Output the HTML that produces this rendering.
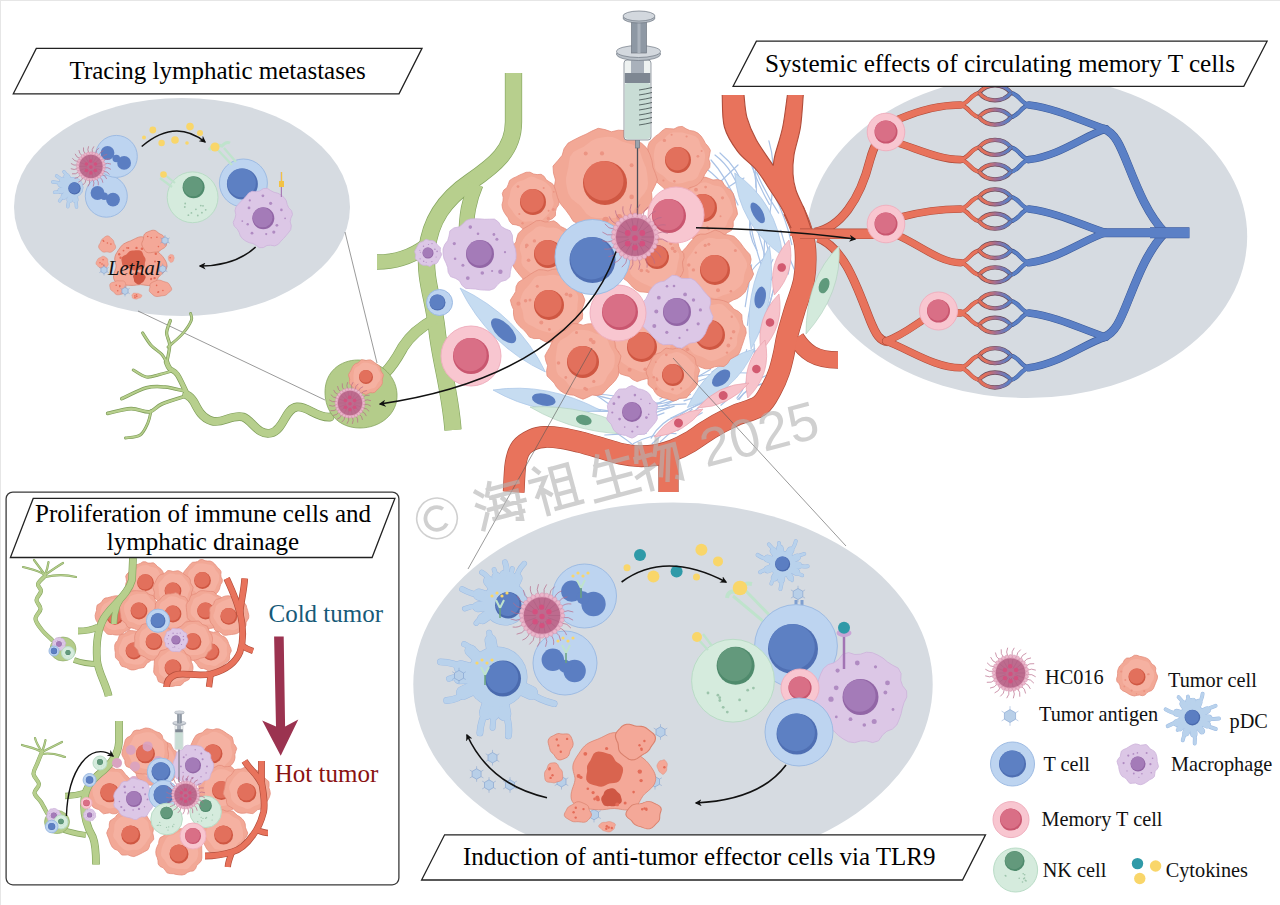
<!DOCTYPE html><html><head><meta charset="utf-8"><style>html,body{margin:0;padding:0;background:#fff;overflow:hidden;}svg{display:block;font-family:"Liberation Serif",serif;}</style></head><body>
<svg width="1280" height="905" viewBox="0 0 1280 905">
<defs><linearGradient id="rb" gradientUnits="userSpaceOnUse" x1="979" y1="0" x2="1011" y2="0"><stop offset="0.2" stop-color="#e2705a"/><stop offset="0.55" stop-color="#9c6f98"/><stop offset="0.9" stop-color="#5b80c6"/></linearGradient><marker id="ah" viewBox="0 0 10 10" refX="8" refY="5" markerWidth="7" markerHeight="7" orient="auto-start-reverse" markerUnits="userSpaceOnUse"><path d="M0,0 L10,5 L0,10 L3,5 Z" fill="#111"/></marker></defs>
<rect x="0" y="0" width="1280" height="905" fill="#fff"/>
<rect x="0" y="0" width="1280" height="1" fill="#e6e6e6"/><rect x="0" y="0" width="1" height="905" fill="#e6e6e6"/>
<ellipse cx="182" cy="207" rx="168" ry="109" fill="#d6dbe1"/>
<ellipse cx="1027" cy="236.5" rx="220.2" ry="161.5" fill="#d6dbe1"/>
<ellipse cx="673" cy="684.5" rx="259.7" ry="182" fill="#d6dbe1"/>
<g stroke="#555" stroke-width="0.6" fill="none">
<line x1="345" y1="232" x2="377" y2="363"/>
<line x1="138" y1="311" x2="325" y2="400"/>
</g>
<path d="M513.5,73 L513.5,122 C513.5,150 495,165 470,182 C445,199 430,220 427,250 C424,280 434,300 437,330 C440,360 450,390 453,430" fill="none" stroke="#86a660" stroke-width="17.3" stroke-linejoin="round" stroke-linecap="butt"/><path d="M476,184 C469,200 466,215 466,240" fill="none" stroke="#86a660" stroke-width="15.3" stroke-linejoin="round" stroke-linecap="butt"/><path d="M377,262 C395,262 410,258 426,246" fill="none" stroke="#86a660" stroke-width="15.3" stroke-linejoin="round" stroke-linecap="butt"/><path d="M435,319 C420,327 410,336 403,347 C398,356 394,364 385,373" fill="none" stroke="#86a660" stroke-width="11.3" stroke-linejoin="round" stroke-linecap="butt"/><path d="M513.5,73 L513.5,122 C513.5,150 495,165 470,182 C445,199 430,220 427,250 C424,280 434,300 437,330 C440,360 450,390 453,430" fill="none" stroke="#b7cf8d" stroke-width="16" stroke-linejoin="round" stroke-linecap="butt"/><path d="M476,184 C469,200 466,215 466,240" fill="none" stroke="#b7cf8d" stroke-width="14" stroke-linejoin="round" stroke-linecap="butt"/><path d="M377,262 C395,262 410,258 426,246" fill="none" stroke="#b7cf8d" stroke-width="14" stroke-linejoin="round" stroke-linecap="butt"/><path d="M435,319 C420,327 410,336 403,347 C398,356 394,364 385,373" fill="none" stroke="#b7cf8d" stroke-width="10" stroke-linejoin="round" stroke-linecap="butt"/>
<path d="M330,417 C316,418 308,406 297,407 C285,408 284,430 271,433 C258,436 252,420 243,417 C232,414 222,424 212,421 C202,418 198,410 194,402 C191,397 189,396 186.7,394.8" fill="none" stroke="#7d9c58" stroke-width="8.8" stroke-linejoin="round" stroke-linecap="round"/><path d="M188,396 C186.2,392.4 180.5,379.3 177.4,374.7 C174.3,370.1 171.5,370.6 169.7,368.5 C167.9,366.4 167.1,363.3 166.6,362.3" fill="none" stroke="#7d9c58" stroke-width="5.5" stroke-linejoin="round" stroke-linecap="round"/><path d="M166.6,363 C167.1,360.1 169.7,350.3 169.7,345.3 C169.7,340.3 166.5,337 166.6,332.9 C166.7,328.8 169.8,322.6 170.4,320.5" fill="none" stroke="#7d9c58" stroke-width="3.3" stroke-linejoin="round" stroke-linecap="round"/><path d="M168,347 C170.3,344.9 178.1,338.8 182,334.4 C185.9,330 189.9,324 191.3,320.5 C192.7,317 190.7,314.7 190.6,313.5" fill="none" stroke="#7d9c58" stroke-width="2.9" stroke-linejoin="round" stroke-linecap="round"/><path d="M166.6,362.3 C165.8,361 164.5,357.4 161.9,354.5 C159.3,351.6 154.2,348.8 151,345.2 C147.8,341.6 144,334.9 142.6,332.9" fill="none" stroke="#7d9c58" stroke-width="3.1" stroke-linejoin="round" stroke-linecap="round"/><path d="M172,371 C169.8,371.6 163.1,373.7 158.8,374.7 C154.5,375.7 150.7,377.8 146.4,377 C142.2,376.2 135.5,371.2 133.3,370" fill="none" stroke="#7d9c58" stroke-width="3.1" stroke-linejoin="round" stroke-linecap="round"/><path d="M184,391 C180.8,390.3 171.3,387.5 165,387 C158.7,386.5 153.6,385.9 146.4,387.8 C139.2,389.8 125.8,396.9 121.7,398.7" fill="none" stroke="#7d9c58" stroke-width="3.5" stroke-linejoin="round" stroke-linecap="round"/><path d="M186,396 C182,397.3 168,401.4 161.9,404 C155.8,406.6 154.7,411 149.5,411.8 C144.3,412.6 138,408.4 131,408.7 C124,409 111.6,412.6 107.7,413.4" fill="none" stroke="#7d9c58" stroke-width="3.7" stroke-linejoin="round" stroke-linecap="round"/><path d="M151,411 C150.5,412.9 149.8,418.6 148,422.6 C146.2,426.6 143.9,432.4 140.2,435 C136.4,437.6 128,437.5 125.5,438" fill="none" stroke="#7d9c58" stroke-width="2.9" stroke-linejoin="round" stroke-linecap="round"/><path d="M330,417 C316,418 308,406 297,407 C285,408 284,430 271,433 C258,436 252,420 243,417 C232,414 222,424 212,421 C202,418 198,410 194,402 C191,397 189,396 186.7,394.8" fill="none" stroke="#b7cf8d" stroke-width="7.5" stroke-linejoin="round" stroke-linecap="round"/><path d="M188,396 C186.2,392.4 180.5,379.3 177.4,374.7 C174.3,370.1 171.5,370.6 169.7,368.5 C167.9,366.4 167.1,363.3 166.6,362.3" fill="none" stroke="#b7cf8d" stroke-width="4.2" stroke-linejoin="round" stroke-linecap="round"/><path d="M166.6,363 C167.1,360.1 169.7,350.3 169.7,345.3 C169.7,340.3 166.5,337 166.6,332.9 C166.7,328.8 169.8,322.6 170.4,320.5" fill="none" stroke="#b7cf8d" stroke-width="2" stroke-linejoin="round" stroke-linecap="round"/><path d="M168,347 C170.3,344.9 178.1,338.8 182,334.4 C185.9,330 189.9,324 191.3,320.5 C192.7,317 190.7,314.7 190.6,313.5" fill="none" stroke="#b7cf8d" stroke-width="1.6" stroke-linejoin="round" stroke-linecap="round"/><path d="M166.6,362.3 C165.8,361 164.5,357.4 161.9,354.5 C159.3,351.6 154.2,348.8 151,345.2 C147.8,341.6 144,334.9 142.6,332.9" fill="none" stroke="#b7cf8d" stroke-width="1.8" stroke-linejoin="round" stroke-linecap="round"/><path d="M172,371 C169.8,371.6 163.1,373.7 158.8,374.7 C154.5,375.7 150.7,377.8 146.4,377 C142.2,376.2 135.5,371.2 133.3,370" fill="none" stroke="#b7cf8d" stroke-width="1.8" stroke-linejoin="round" stroke-linecap="round"/><path d="M184,391 C180.8,390.3 171.3,387.5 165,387 C158.7,386.5 153.6,385.9 146.4,387.8 C139.2,389.8 125.8,396.9 121.7,398.7" fill="none" stroke="#b7cf8d" stroke-width="2.2" stroke-linejoin="round" stroke-linecap="round"/><path d="M186,396 C182,397.3 168,401.4 161.9,404 C155.8,406.6 154.7,411 149.5,411.8 C144.3,412.6 138,408.4 131,408.7 C124,409 111.6,412.6 107.7,413.4" fill="none" stroke="#b7cf8d" stroke-width="2.4" stroke-linejoin="round" stroke-linecap="round"/><path d="M151,411 C150.5,412.9 149.8,418.6 148,422.6 C146.2,426.6 143.9,432.4 140.2,435 C136.4,437.6 128,437.5 125.5,438" fill="none" stroke="#b7cf8d" stroke-width="1.6" stroke-linejoin="round" stroke-linecap="round"/>
<path d="M325,392 C325,372 340,360 358,360 C378,360 396,374 397,394 C398,414 380,428 360,428 C338,428 325,412 325,392Z" fill="#b4cc8a" stroke="#86a660" stroke-width="0.8"/>
<path d="M383,377 L382.2,379.1 L382.4,381.4 L382.2,383.7 L381,385.7 L379.6,387.4 L377.9,388.9 L376.4,390.6 L374.8,392.3 L372.6,392.8 L370.2,392.6 L368.2,393.6 L366,394.5 L363.8,393.7 L361.8,392.7 L359.6,392.5 L357.4,391.9 L355.5,390.7 L353.9,389.1 L352.8,387.1 L351.2,385.5 L349.5,383.8 L349.3,381.5 L349.7,379.1 L349,377 L348.5,374.7 L349.6,372.6 L350.8,370.7 L351.6,368.7 L352.6,366.7 L353.9,364.9 L355.7,363.6 L357.8,362.9 L359.6,361.4 L361.4,359.8 L363.8,359.9 L366,360.5 L368.2,360 L370.6,359.9 L372.6,361.1 L374.4,362.4 L376.2,363.7 L378,365 L379.8,366.4 L380.7,368.5 L380.9,370.8 L382.1,372.7 L383.4,374.7Z" fill="#f2a896" stroke="#e58d7b" stroke-width="0.8"/><path d="M380.6,376.3 L380.5,378.1 L380.1,379.9 L379.1,381.5 L377.9,382.8 L377,384.3 L376.3,386 L375.2,387.4 L373.6,388.3 L371.8,388.6 L370.1,389.1 L368.4,389.6 L366.7,389.9 L364.9,390 L363.1,389.9 L361.3,389.4 L359.7,388.3 L358.6,386.9 L357.4,385.6 L356,384.5 L354.6,383.3 L353.8,381.6 L353.6,379.8 L353.5,378.1 L353.4,376.3 L353.5,374.6 L353.8,372.9 L354,371.1 L354.4,369.2 L355.5,367.7 L357.1,366.7 L358.7,365.9 L360,364.7 L361.4,363.5 L363.1,362.8 L364.9,362.6 L366.7,362.7 L368.4,363 L370.1,363.6 L371.7,364.3 L373.3,364.8 L375.2,365.3 L376.7,366.3 L377.6,368 L378.2,369.7 L379,371.2 L379.9,372.8 L380.5,374.5Z" fill="#f5b1a1"/><circle cx="366" cy="377" r="7" fill="#cf5742"/><circle cx="365.6" cy="376.3" r="6.3" fill="#e2705c"/>
<path d="M364.2,404.4 Q367.6,403.5 370.8,406.1" stroke="#b86a8a" stroke-width="0.7" fill="none"/><path d="M363.4,408.1 Q366.9,408.1 369.2,411.4" stroke="#b86a8a" stroke-width="0.7" fill="none"/><path d="M361.6,411.3 Q365,412.3 366.4,416.1" stroke="#b86a8a" stroke-width="0.7" fill="none"/><path d="M359,414.1 Q362.1,415.8 362.5,419.9" stroke="#b86a8a" stroke-width="0.7" fill="none"/><path d="M355.9,416 Q358.4,418.5 357.7,422.6" stroke="#b86a8a" stroke-width="0.7" fill="none"/><path d="M352.3,417.1 Q354.1,420.2 352.3,423.9" stroke="#b86a8a" stroke-width="0.7" fill="none"/><path d="M348.6,417.2 Q349.5,420.6 346.9,423.8" stroke="#b86a8a" stroke-width="0.7" fill="none"/><path d="M344.9,416.4 Q344.9,419.9 341.6,422.2" stroke="#b86a8a" stroke-width="0.7" fill="none"/><path d="M341.7,414.6 Q340.7,418 336.9,419.4" stroke="#b86a8a" stroke-width="0.7" fill="none"/><path d="M338.9,412 Q337.2,415.1 333.1,415.5" stroke="#b86a8a" stroke-width="0.7" fill="none"/><path d="M337,408.9 Q334.5,411.4 330.4,410.7" stroke="#b86a8a" stroke-width="0.7" fill="none"/><path d="M335.9,405.3 Q332.8,407.1 329.1,405.3" stroke="#b86a8a" stroke-width="0.7" fill="none"/><path d="M335.8,401.6 Q332.4,402.5 329.2,399.9" stroke="#b86a8a" stroke-width="0.7" fill="none"/><path d="M336.6,397.9 Q333.1,397.9 330.8,394.6" stroke="#b86a8a" stroke-width="0.7" fill="none"/><path d="M338.4,394.7 Q335,393.7 333.6,389.9" stroke="#b86a8a" stroke-width="0.7" fill="none"/><path d="M341,391.9 Q337.9,390.2 337.5,386.1" stroke="#b86a8a" stroke-width="0.7" fill="none"/><path d="M344.1,390 Q341.6,387.5 342.3,383.4" stroke="#b86a8a" stroke-width="0.7" fill="none"/><path d="M347.7,388.9 Q345.9,385.8 347.7,382.1" stroke="#b86a8a" stroke-width="0.7" fill="none"/><path d="M351.4,388.8 Q350.5,385.4 353.1,382.2" stroke="#b86a8a" stroke-width="0.7" fill="none"/><path d="M355.1,389.6 Q355.1,386.1 358.4,383.8" stroke="#b86a8a" stroke-width="0.7" fill="none"/><path d="M358.3,391.4 Q359.3,388 363.1,386.6" stroke="#b86a8a" stroke-width="0.7" fill="none"/><path d="M361.1,394 Q362.8,390.9 366.9,390.5" stroke="#b86a8a" stroke-width="0.7" fill="none"/><path d="M363,397.1 Q365.5,394.6 369.6,395.3" stroke="#b86a8a" stroke-width="0.7" fill="none"/><path d="M364.1,400.7 Q367.2,398.9 370.9,400.7" stroke="#b86a8a" stroke-width="0.7" fill="none"/><circle cx="350" cy="403" r="14.3" fill="#e3a9c0"/><circle cx="363.7" cy="403" r="1.5" fill="#ebb6cb" stroke="#cf8eaa" stroke-width="0.4"/><circle cx="363.4" cy="406.1" r="1.5" fill="#ebb6cb" stroke="#cf8eaa" stroke-width="0.4"/><circle cx="362.4" cy="409" r="1.5" fill="#ebb6cb" stroke="#cf8eaa" stroke-width="0.4"/><circle cx="360.7" cy="411.6" r="1.5" fill="#ebb6cb" stroke="#cf8eaa" stroke-width="0.4"/><circle cx="358.6" cy="413.7" r="1.5" fill="#ebb6cb" stroke="#cf8eaa" stroke-width="0.4"/><circle cx="356" cy="415.4" r="1.5" fill="#ebb6cb" stroke="#cf8eaa" stroke-width="0.4"/><circle cx="353.1" cy="416.4" r="1.5" fill="#ebb6cb" stroke="#cf8eaa" stroke-width="0.4"/><circle cx="350" cy="416.7" r="1.5" fill="#ebb6cb" stroke="#cf8eaa" stroke-width="0.4"/><circle cx="346.9" cy="416.4" r="1.5" fill="#ebb6cb" stroke="#cf8eaa" stroke-width="0.4"/><circle cx="344" cy="415.4" r="1.5" fill="#ebb6cb" stroke="#cf8eaa" stroke-width="0.4"/><circle cx="341.4" cy="413.7" r="1.5" fill="#ebb6cb" stroke="#cf8eaa" stroke-width="0.4"/><circle cx="339.3" cy="411.6" r="1.5" fill="#ebb6cb" stroke="#cf8eaa" stroke-width="0.4"/><circle cx="337.6" cy="409" r="1.5" fill="#ebb6cb" stroke="#cf8eaa" stroke-width="0.4"/><circle cx="336.6" cy="406.1" r="1.5" fill="#ebb6cb" stroke="#cf8eaa" stroke-width="0.4"/><circle cx="336.3" cy="403" r="1.5" fill="#ebb6cb" stroke="#cf8eaa" stroke-width="0.4"/><circle cx="336.6" cy="399.9" r="1.5" fill="#ebb6cb" stroke="#cf8eaa" stroke-width="0.4"/><circle cx="337.6" cy="397" r="1.5" fill="#ebb6cb" stroke="#cf8eaa" stroke-width="0.4"/><circle cx="339.3" cy="394.4" r="1.5" fill="#ebb6cb" stroke="#cf8eaa" stroke-width="0.4"/><circle cx="341.4" cy="392.3" r="1.5" fill="#ebb6cb" stroke="#cf8eaa" stroke-width="0.4"/><circle cx="344" cy="390.6" r="1.5" fill="#ebb6cb" stroke="#cf8eaa" stroke-width="0.4"/><circle cx="346.9" cy="389.6" r="1.5" fill="#ebb6cb" stroke="#cf8eaa" stroke-width="0.4"/><circle cx="350" cy="389.3" r="1.5" fill="#ebb6cb" stroke="#cf8eaa" stroke-width="0.4"/><circle cx="353.1" cy="389.6" r="1.5" fill="#ebb6cb" stroke="#cf8eaa" stroke-width="0.4"/><circle cx="356" cy="390.6" r="1.5" fill="#ebb6cb" stroke="#cf8eaa" stroke-width="0.4"/><circle cx="358.6" cy="392.3" r="1.5" fill="#ebb6cb" stroke="#cf8eaa" stroke-width="0.4"/><circle cx="360.7" cy="394.4" r="1.5" fill="#ebb6cb" stroke="#cf8eaa" stroke-width="0.4"/><circle cx="362.4" cy="397" r="1.5" fill="#ebb6cb" stroke="#cf8eaa" stroke-width="0.4"/><circle cx="363.4" cy="399.9" r="1.5" fill="#ebb6cb" stroke="#cf8eaa" stroke-width="0.4"/><circle cx="350" cy="403" r="12.2" fill="#bd6b8e"/><path d="M354.2,403 L361.9,403 M353.9,404.4 L361.2,407.1 M353.2,405.7 L359.1,410.6 M352.1,406.6 L355.9,413.3 M350.7,407.1 L352.1,414.7 M349.3,407.1 L347.9,414.7 M347.9,406.6 L344.1,413.3 M346.8,405.7 L340.9,410.6 M346.1,404.4 L338.8,407.1 M345.8,403 L338.1,403 M346.1,401.6 L338.8,398.9 M346.8,400.3 L340.9,395.4 M347.9,399.4 L344.1,392.7 M349.3,398.9 L347.9,391.3 M350.7,398.9 L352.1,391.3 M352.1,399.4 L355.9,392.7 M353.2,400.3 L359.1,395.4 M353.9,401.6 L361.2,398.9 " stroke="#ad5f82" stroke-width="0.4" fill="none"/><circle cx="350" cy="403.7" r="1.8" fill="#d4507f"/><circle cx="345.4" cy="400.5" r="1.8" fill="#d4507f"/><circle cx="354.6" cy="400.5" r="1.8" fill="#d4507f"/><circle cx="345.4" cy="407.2" r="1.8" fill="#d4507f"/><circle cx="354.6" cy="407.2" r="1.8" fill="#d4507f"/><circle cx="349.7" cy="397.4" r="1.8" fill="#d4507f"/><circle cx="350" cy="409.7" r="1.8" fill="#d4507f"/>
<g fill="none" stroke="#a9c2e6" stroke-width="1.2" stroke-linecap="round"><path d="M747.9,373 Q720.3,371.8 695.2,376.9" /><path d="M635.4,446.8 Q618.9,433.3 601.2,423.7" /><path d="M646.2,433.3 Q625.6,433.5 604.8,435" /><path d="M765.7,382.7 Q749.6,385.7 737.7,399.4" /><path d="M692.2,409.3 Q671.4,425.1 652.1,443.8" /><path d="M772.9,192.5 Q786.3,218.1 791.8,244.7" /><path d="M615.1,408.5 Q600.7,398 586.1,388.6" /><path d="M730.1,394.2 Q700.1,400.1 676.9,417.1" /><path d="M648.3,426.1 Q628.9,432.9 610.9,429.8" /><path d="M756.8,172.5 Q765.2,193.2 778.6,213.1" /><path d="M776.7,275.2 Q771.5,301.7 761.5,326.7" /><path d="M746.7,349.5 Q745.6,362.5 731.7,371.9" /><path d="M680,398 Q668.4,403 655.2,404.5" /><path d="M760.8,384.4 Q747.5,386.1 738.9,399.6" /><path d="M764.6,228.8 Q764.8,257 760.9,286.2" /><path d="M759.5,280.5 Q756,305.6 759.2,332.7" /><path d="M669.2,406.7 Q657.6,411.7 642.9,405.7" /><path d="M762.9,271.5 Q752.4,298 753.3,327.8" /><path d="M750.2,364.5 Q748.4,384.6 736.9,398.1" /><path d="M748.1,204.3 Q765.5,231.1 770.4,259.8" /><path d="M614.9,411.6 Q595.8,408.5 575.9,407.9" /><path d="M664,412.8 Q645.8,418.2 630.8,434.7" /><path d="M748,154.4 Q755.5,179.9 769.4,204.4" /><path d="M638.8,411.2 Q612.2,411.9 586.2,410.8" /><path d="M750.6,215.7 Q746.8,234 756.9,250.4" /><path d="M661.4,403.2 Q640.8,401.6 620.6,406.4" /><path d="M754.1,344 Q755.5,364 753.6,383.2" /><path d="M621.4,401.2 Q598.3,397 576.3,388.4" /><path d="M773.2,177.3 Q772.2,203.1 767.3,229.4" /><path d="M686,403.9 Q660.7,404.3 637.3,411.7" /><path d="M756.7,291.8 Q748.4,307.5 747.4,325.3" /><path d="M723.1,393.7 Q696.2,405 670.5,418.2" /><path d="M755,153.4 Q755.9,170.2 755.9,187.2" /><path d="M674.2,406.1 Q649.1,414 625.1,425.8" /><path d="M684.9,395.7 Q664.5,397.7 649.8,408.4" /><path d="M710.4,369.5 Q684.9,383.9 659.9,399" /><path d="M749.1,217.1 Q754,245.6 764.1,272.9" /><path d="M690.4,394.5 Q675.5,399.5 661.8,406.4" /><path d="M729.2,388.8 Q705.7,393.2 684,400.9" /><path d="M702.2,412.7 Q688.7,419.9 677.5,430.7" /><path d="M758.1,232.4 Q764.8,255.1 770.8,277.7" /><path d="M785.8,244.6 Q791.4,259.6 788.2,274.2" /><path d="M780.8,230.3 Q786,250.2 794.2,269.3" /><path d="M763,367.4 Q742.5,387.5 720.9,405.2" /><path d="M780.9,261.9 Q775.2,274.9 766.2,286.9" /><path d="M753.1,167.5 Q756.9,181.2 756.3,195.6" /><path d="M760.4,349.3 Q734.5,356.6 711.9,372.1" /><path d="M730.7,386.3 Q716.4,391.2 702.9,397.6" /><path d="M635.2,402.4 Q613.9,393.1 589.6,394.4" /><path d="M768.9,140.9 Q775.4,162.6 771.8,185.6" /><path d="M730.5,363.4 Q715.4,376 697,381.7" /><path d="M763.6,258.4 Q746.9,272.3 741.3,289.5" /><path d="M766.8,375.3 Q739.8,387.6 711.8,397.6" /><path d="M751.6,264.8 Q748.7,285.8 745.2,306.6" /><path d="M754.1,200.3 Q756,220.3 765.7,239.1" /><path d="M676,433.6 Q654.4,432.5 633.5,443.5" /><path d="M677.4,415.9 Q661.2,420.9 651.1,438.1" /><path d="M772.9,259.4 Q763.4,278.1 756.6,297.7" /><path d="M698.7,407.5 Q679.2,424.3 660.2,441.9" /><path d="M775.7,279.4 Q771.6,300.9 763.8,321.3" /><path d="M711,160 Q725,175 738,205"/><path d="M715,155 Q735,170 742,200"/><path d="M708,170 Q728,185 736,212"/><path d="M720,153 Q738,168 746,192"/><path d="M712,190 Q724,178 738,165"/><path d="M714,200 Q728,185 744,178"/></g>
<path d="M796,338 C805,352 815,360 838,360" fill="none" stroke="#b04c3a" stroke-width="17.3" stroke-linejoin="round" stroke-linecap="butt"/><path d="M793.5,210 C794.8,213.1 799,221.8 801,228.5 C803,235.2 804.9,241.4 805.4,250 C805.9,258.6 805.8,270 804,280 C802.2,290 797.5,300.8 794.7,310 C792,319.2 789.4,327.5 787.5,335 C785.6,342.5 784.9,348.8 783.5,355 C782.1,361.2 780.9,366.5 779,372 C777.1,377.5 775.2,382.4 772,388 C768.8,393.6 765.9,401 760,405.5 C754.1,410 743.1,412.1 736.4,415 C729.7,417.9 725.2,420.2 720,423 C714.8,425.8 710,428.8 705,432 C700,435.2 695.2,439 690,442 C684.8,445 679.5,447.8 673.8,450 C668.1,452.2 661.9,454 656,455 C650.1,456 644.5,456.4 638.7,456.2 C632.9,456 627.5,455.2 621,453.8 C614.5,452.4 606.9,449.7 600,447.7 C593.1,445.7 586,443.6 579.6,442 C573.2,440.4 567.7,439 561.9,438.2 C556.1,437.4 549.8,436.8 545,437 C540.2,437.2 537,437.7 533,439.5 C529,441.3 523.9,444 521,448 C518.1,452 516.8,456.3 515.6,463.6 C514.4,470.9 514,487.3 513.7,492" fill="none" stroke="#b04c3a" stroke-width="21.8" stroke-linejoin="round" stroke-linecap="butt"/><path d="M668.5,452 L668.5,492" fill="none" stroke="#b04c3a" stroke-width="20.3" stroke-linejoin="round" stroke-linecap="butt"/><path d="M815,232 C840,228 860,200 870,160 C874,145 880,136 886,132" fill="none" stroke="#b04c3a" stroke-width="8.8" stroke-linejoin="round" stroke-linecap="butt"/><path d="M818,238 C845,248 858,290 870,320 C876,335 880,341 888,342" fill="none" stroke="#b04c3a" stroke-width="8.8" stroke-linejoin="round" stroke-linecap="butt"/><path d="M796,338 C805,352 815,360 838,360" fill="none" stroke="#e8735c" stroke-width="16" stroke-linejoin="round" stroke-linecap="butt"/><path d="M793.5,210 C794.8,213.1 799,221.8 801,228.5 C803,235.2 804.9,241.4 805.4,250 C805.9,258.6 805.8,270 804,280 C802.2,290 797.5,300.8 794.7,310 C792,319.2 789.4,327.5 787.5,335 C785.6,342.5 784.9,348.8 783.5,355 C782.1,361.2 780.9,366.5 779,372 C777.1,377.5 775.2,382.4 772,388 C768.8,393.6 765.9,401 760,405.5 C754.1,410 743.1,412.1 736.4,415 C729.7,417.9 725.2,420.2 720,423 C714.8,425.8 710,428.8 705,432 C700,435.2 695.2,439 690,442 C684.8,445 679.5,447.8 673.8,450 C668.1,452.2 661.9,454 656,455 C650.1,456 644.5,456.4 638.7,456.2 C632.9,456 627.5,455.2 621,453.8 C614.5,452.4 606.9,449.7 600,447.7 C593.1,445.7 586,443.6 579.6,442 C573.2,440.4 567.7,439 561.9,438.2 C556.1,437.4 549.8,436.8 545,437 C540.2,437.2 537,437.7 533,439.5 C529,441.3 523.9,444 521,448 C518.1,452 516.8,456.3 515.6,463.6 C514.4,470.9 514,487.3 513.7,492" fill="none" stroke="#e8735c" stroke-width="20.5" stroke-linejoin="round" stroke-linecap="butt"/><path d="M668.5,452 L668.5,492" fill="none" stroke="#e8735c" stroke-width="19" stroke-linejoin="round" stroke-linecap="butt"/><path d="M815,232 C840,228 860,200 870,160 C874,145 880,136 886,132" fill="none" stroke="#e8735c" stroke-width="7.5" stroke-linejoin="round" stroke-linecap="butt"/><path d="M818,238 C845,248 858,290 870,320 C876,335 880,341 888,342" fill="none" stroke="#e8735c" stroke-width="7.5" stroke-linejoin="round" stroke-linecap="butt"/>
<path d="M722.2,95 C722.6,100.3 721.8,117.6 724.4,127 C727,136.4 732.3,144.2 737.6,151.4 C742.9,158.6 751,163.6 756.4,170 C761.8,176.4 765.6,183.3 770,190 C774.4,196.7 779.1,203.5 782.6,209.9 C786.1,216.3 789.8,225.4 791.2,228.5 L811,228.5 C809.9,225.4 807,216.3 804.5,209.9 C802,203.5 797.8,196 795.9,190 C794,184 793.3,179.8 793,174 C792.7,168.2 792.8,162.8 794,155 C795.2,147.2 799,137 800.5,127 C802,117 802.8,100.3 803.3,95 L787.4,95 C786.6,100.3 784.8,117 782.7,127 C780.6,137 776.6,148.6 775,155 C773.4,161.4 773.6,163.8 773.3,165.5 C770.5,161.2 760.8,148 756.4,140 C752,132 749.1,125.1 747,117.6 C744.9,110.1 744.5,98.8 744,95 Z" fill="#e8735c"/>
<g fill="none" stroke="#b04c3a" stroke-width="1.1"><path d="M722.2,95 C722.6,100.3 721.8,117.6 724.4,127 C727,136.4 732.3,144.2 737.6,151.4 C742.9,158.6 751,163.6 756.4,170 C761.8,176.4 765.6,183.3 770,190 C774.4,196.7 779.1,203.5 782.6,209.9 C786.1,216.3 789.8,225.4 791.2,228.5"/><path d="M811,228.5 C809.9,225.4 807,216.3 804.5,209.9 C802,203.5 797.8,196 795.9,190 C794,184 793.3,179.8 793,174 C792.7,168.2 792.8,162.8 794,155 C795.2,147.2 799,137 800.5,127 C802,117 802.8,100.3 803.3,95"/><path d="M787.4,95 C786.6,100.3 784.8,117 782.7,127 C780.6,137 776.6,148.6 775,155 C773.4,161.4 773.6,163.8 773.3,165.5"/><path d="M773.3,165.5 C770.5,161.2 760.8,148 756.4,140 C752,132 749.1,125.1 747,117.6 C744.9,110.1 744.5,98.8 744,95"/></g>
<path d="M791,228 L811,228 L812,236 L790,236Z" fill="#e8735c"/>
<path d="M800,233.8 L880,233.8" fill="none" stroke="#b04c3a" stroke-width="10.6" stroke-linejoin="round" stroke-linecap="butt"/><path d="M800,233.8 L880,233.8" fill="none" stroke="#e8735c" stroke-width="9.3" stroke-linejoin="round" stroke-linecap="butt"/>
<path d="M899,119 C920,110 940,105 960.5,105" fill="none" stroke="#b04c3a" stroke-width="7.6" stroke-linejoin="round" stroke-linecap="round"/><path d="M898,143 C920,150 940,159.6 960.5,159.6" fill="none" stroke="#b04c3a" stroke-width="7.6" stroke-linejoin="round" stroke-linecap="round"/><path d="M901,217 C920,212 940,209 960.5,209" fill="none" stroke="#b04c3a" stroke-width="7.6" stroke-linejoin="round" stroke-linecap="round"/><path d="M897,235 C920,245 940,262.7 960.5,262.7" fill="none" stroke="#b04c3a" stroke-width="7.6" stroke-linejoin="round" stroke-linecap="round"/><path d="M886,341 C905,335 920,320 938,311" fill="none" stroke="#b04c3a" stroke-width="7.6" stroke-linejoin="round" stroke-linecap="round"/><path d="M950,313 L960.5,313" fill="none" stroke="#b04c3a" stroke-width="7.6" stroke-linejoin="round" stroke-linecap="round"/><path d="M886,341 C910,350 935,367.8 960.5,367.8" fill="none" stroke="#b04c3a" stroke-width="7.6" stroke-linejoin="round" stroke-linecap="round"/><path d="M959.5,105 C968.5,105 971,92.8 980,92.8" fill="none" stroke="#b04c3a" stroke-width="4.3" stroke-linejoin="round" stroke-linecap="round"/><path d="M959.5,105 C968.5,105 971,117.2 980,117.2" fill="none" stroke="#b04c3a" stroke-width="4.3" stroke-linejoin="round" stroke-linecap="round"/><path d="M959.5,159.6 C968.5,159.6 971,147.4 980,147.4" fill="none" stroke="#b04c3a" stroke-width="4.3" stroke-linejoin="round" stroke-linecap="round"/><path d="M959.5,159.6 C968.5,159.6 971,171.8 980,171.8" fill="none" stroke="#b04c3a" stroke-width="4.3" stroke-linejoin="round" stroke-linecap="round"/><path d="M959.5,209 C968.5,209 971,196.8 980,196.8" fill="none" stroke="#b04c3a" stroke-width="4.3" stroke-linejoin="round" stroke-linecap="round"/><path d="M959.5,209 C968.5,209 971,221.2 980,221.2" fill="none" stroke="#b04c3a" stroke-width="4.3" stroke-linejoin="round" stroke-linecap="round"/><path d="M959.5,262.7 C968.5,262.7 971,250.5 980,250.5" fill="none" stroke="#b04c3a" stroke-width="4.3" stroke-linejoin="round" stroke-linecap="round"/><path d="M959.5,262.7 C968.5,262.7 971,274.9 980,274.9" fill="none" stroke="#b04c3a" stroke-width="4.3" stroke-linejoin="round" stroke-linecap="round"/><path d="M959.5,313 C968.5,313 971,300.8 980,300.8" fill="none" stroke="#b04c3a" stroke-width="4.3" stroke-linejoin="round" stroke-linecap="round"/><path d="M959.5,313 C968.5,313 971,325.2 980,325.2" fill="none" stroke="#b04c3a" stroke-width="4.3" stroke-linejoin="round" stroke-linecap="round"/><path d="M959.5,367.8 C968.5,367.8 971,355.6 980,355.6" fill="none" stroke="#b04c3a" stroke-width="4.3" stroke-linejoin="round" stroke-linecap="round"/><path d="M959.5,367.8 C968.5,367.8 971,380 980,380" fill="none" stroke="#b04c3a" stroke-width="4.3" stroke-linejoin="round" stroke-linecap="round"/><path d="M899,119 C920,110 940,105 960.5,105" fill="none" stroke="#e8735c" stroke-width="6.5" stroke-linejoin="round" stroke-linecap="round"/><path d="M898,143 C920,150 940,159.6 960.5,159.6" fill="none" stroke="#e8735c" stroke-width="6.5" stroke-linejoin="round" stroke-linecap="round"/><path d="M901,217 C920,212 940,209 960.5,209" fill="none" stroke="#e8735c" stroke-width="6.5" stroke-linejoin="round" stroke-linecap="round"/><path d="M897,235 C920,245 940,262.7 960.5,262.7" fill="none" stroke="#e8735c" stroke-width="6.5" stroke-linejoin="round" stroke-linecap="round"/><path d="M886,341 C905,335 920,320 938,311" fill="none" stroke="#e8735c" stroke-width="6.5" stroke-linejoin="round" stroke-linecap="round"/><path d="M950,313 L960.5,313" fill="none" stroke="#e8735c" stroke-width="6.5" stroke-linejoin="round" stroke-linecap="round"/><path d="M886,341 C910,350 935,367.8 960.5,367.8" fill="none" stroke="#e8735c" stroke-width="6.5" stroke-linejoin="round" stroke-linecap="round"/><path d="M959.5,105 C968.5,105 971,92.8 980,92.8" fill="none" stroke="#e8735c" stroke-width="3.2" stroke-linejoin="round" stroke-linecap="round"/><path d="M959.5,105 C968.5,105 971,117.2 980,117.2" fill="none" stroke="#e8735c" stroke-width="3.2" stroke-linejoin="round" stroke-linecap="round"/><path d="M959.5,159.6 C968.5,159.6 971,147.4 980,147.4" fill="none" stroke="#e8735c" stroke-width="3.2" stroke-linejoin="round" stroke-linecap="round"/><path d="M959.5,159.6 C968.5,159.6 971,171.8 980,171.8" fill="none" stroke="#e8735c" stroke-width="3.2" stroke-linejoin="round" stroke-linecap="round"/><path d="M959.5,209 C968.5,209 971,196.8 980,196.8" fill="none" stroke="#e8735c" stroke-width="3.2" stroke-linejoin="round" stroke-linecap="round"/><path d="M959.5,209 C968.5,209 971,221.2 980,221.2" fill="none" stroke="#e8735c" stroke-width="3.2" stroke-linejoin="round" stroke-linecap="round"/><path d="M959.5,262.7 C968.5,262.7 971,250.5 980,250.5" fill="none" stroke="#e8735c" stroke-width="3.2" stroke-linejoin="round" stroke-linecap="round"/><path d="M959.5,262.7 C968.5,262.7 971,274.9 980,274.9" fill="none" stroke="#e8735c" stroke-width="3.2" stroke-linejoin="round" stroke-linecap="round"/><path d="M959.5,313 C968.5,313 971,300.8 980,300.8" fill="none" stroke="#e8735c" stroke-width="3.2" stroke-linejoin="round" stroke-linecap="round"/><path d="M959.5,313 C968.5,313 971,325.2 980,325.2" fill="none" stroke="#e8735c" stroke-width="3.2" stroke-linejoin="round" stroke-linecap="round"/><path d="M959.5,367.8 C968.5,367.8 971,355.6 980,355.6" fill="none" stroke="#e8735c" stroke-width="3.2" stroke-linejoin="round" stroke-linecap="round"/><path d="M959.5,367.8 C968.5,367.8 971,380 980,380" fill="none" stroke="#e8735c" stroke-width="3.2" stroke-linejoin="round" stroke-linecap="round"/>
<path d="M1010,92.8 C1019,92.8 1021,105 1030,105" fill="none" stroke="#3c5a99" stroke-width="4.3" stroke-linejoin="round" stroke-linecap="round"/><path d="M1010,117.2 C1019,117.2 1021,105 1030,105" fill="none" stroke="#3c5a99" stroke-width="4.3" stroke-linejoin="round" stroke-linecap="round"/><path d="M1010,147.4 C1019,147.4 1021,159.6 1030,159.6" fill="none" stroke="#3c5a99" stroke-width="4.3" stroke-linejoin="round" stroke-linecap="round"/><path d="M1010,171.8 C1019,171.8 1021,159.6 1030,159.6" fill="none" stroke="#3c5a99" stroke-width="4.3" stroke-linejoin="round" stroke-linecap="round"/><path d="M1010,196.8 C1019,196.8 1021,209 1030,209" fill="none" stroke="#3c5a99" stroke-width="4.3" stroke-linejoin="round" stroke-linecap="round"/><path d="M1010,221.2 C1019,221.2 1021,209 1030,209" fill="none" stroke="#3c5a99" stroke-width="4.3" stroke-linejoin="round" stroke-linecap="round"/><path d="M1010,250.5 C1019,250.5 1021,262.7 1030,262.7" fill="none" stroke="#3c5a99" stroke-width="4.3" stroke-linejoin="round" stroke-linecap="round"/><path d="M1010,274.9 C1019,274.9 1021,262.7 1030,262.7" fill="none" stroke="#3c5a99" stroke-width="4.3" stroke-linejoin="round" stroke-linecap="round"/><path d="M1010,300.8 C1019,300.8 1021,313 1030,313" fill="none" stroke="#3c5a99" stroke-width="4.3" stroke-linejoin="round" stroke-linecap="round"/><path d="M1010,325.2 C1019,325.2 1021,313 1030,313" fill="none" stroke="#3c5a99" stroke-width="4.3" stroke-linejoin="round" stroke-linecap="round"/><path d="M1010,355.6 C1019,355.6 1021,367.8 1030,367.8" fill="none" stroke="#3c5a99" stroke-width="4.3" stroke-linejoin="round" stroke-linecap="round"/><path d="M1010,380 C1019,380 1021,367.8 1030,367.8" fill="none" stroke="#3c5a99" stroke-width="4.3" stroke-linejoin="round" stroke-linecap="round"/><path d="M1029,105 C1060,109 1085,123 1106,129" fill="none" stroke="#3c5a99" stroke-width="7.6" stroke-linejoin="round" stroke-linecap="round"/><path d="M1029,159.6 C1060,155.6 1085,135 1106,129" fill="none" stroke="#3c5a99" stroke-width="7.6" stroke-linejoin="round" stroke-linecap="round"/><path d="M1029,209 C1060,213 1085,226.7 1106,232.7" fill="none" stroke="#3c5a99" stroke-width="7.6" stroke-linejoin="round" stroke-linecap="round"/><path d="M1029,262.7 C1060,258.7 1085,238.7 1106,232.7" fill="none" stroke="#3c5a99" stroke-width="7.6" stroke-linejoin="round" stroke-linecap="round"/><path d="M1029,313 C1060,317 1085,331 1106,337" fill="none" stroke="#3c5a99" stroke-width="7.6" stroke-linejoin="round" stroke-linecap="round"/><path d="M1029,367.8 C1060,363.8 1085,343 1106,337" fill="none" stroke="#3c5a99" stroke-width="7.6" stroke-linejoin="round" stroke-linecap="round"/><path d="M1104,129 C1115,133 1120,145 1128,165 C1138,190 1148,215 1165,232.7" fill="none" stroke="#3c5a99" stroke-width="8.6" stroke-linejoin="round" stroke-linecap="round"/><path d="M1104,337 C1115,333 1120,321 1128,301 C1138,276 1148,250 1165,232.7" fill="none" stroke="#3c5a99" stroke-width="8.6" stroke-linejoin="round" stroke-linecap="round"/><path d="M1104,232.7 L1160,232.7" fill="none" stroke="#3c5a99" stroke-width="9.1" stroke-linejoin="round" stroke-linecap="round"/><path d="M1010,92.8 C1019,92.8 1021,105 1030,105" fill="none" stroke="#5b80c6" stroke-width="3.2" stroke-linejoin="round" stroke-linecap="round"/><path d="M1010,117.2 C1019,117.2 1021,105 1030,105" fill="none" stroke="#5b80c6" stroke-width="3.2" stroke-linejoin="round" stroke-linecap="round"/><path d="M1010,147.4 C1019,147.4 1021,159.6 1030,159.6" fill="none" stroke="#5b80c6" stroke-width="3.2" stroke-linejoin="round" stroke-linecap="round"/><path d="M1010,171.8 C1019,171.8 1021,159.6 1030,159.6" fill="none" stroke="#5b80c6" stroke-width="3.2" stroke-linejoin="round" stroke-linecap="round"/><path d="M1010,196.8 C1019,196.8 1021,209 1030,209" fill="none" stroke="#5b80c6" stroke-width="3.2" stroke-linejoin="round" stroke-linecap="round"/><path d="M1010,221.2 C1019,221.2 1021,209 1030,209" fill="none" stroke="#5b80c6" stroke-width="3.2" stroke-linejoin="round" stroke-linecap="round"/><path d="M1010,250.5 C1019,250.5 1021,262.7 1030,262.7" fill="none" stroke="#5b80c6" stroke-width="3.2" stroke-linejoin="round" stroke-linecap="round"/><path d="M1010,274.9 C1019,274.9 1021,262.7 1030,262.7" fill="none" stroke="#5b80c6" stroke-width="3.2" stroke-linejoin="round" stroke-linecap="round"/><path d="M1010,300.8 C1019,300.8 1021,313 1030,313" fill="none" stroke="#5b80c6" stroke-width="3.2" stroke-linejoin="round" stroke-linecap="round"/><path d="M1010,325.2 C1019,325.2 1021,313 1030,313" fill="none" stroke="#5b80c6" stroke-width="3.2" stroke-linejoin="round" stroke-linecap="round"/><path d="M1010,355.6 C1019,355.6 1021,367.8 1030,367.8" fill="none" stroke="#5b80c6" stroke-width="3.2" stroke-linejoin="round" stroke-linecap="round"/><path d="M1010,380 C1019,380 1021,367.8 1030,367.8" fill="none" stroke="#5b80c6" stroke-width="3.2" stroke-linejoin="round" stroke-linecap="round"/><path d="M1029,105 C1060,109 1085,123 1106,129" fill="none" stroke="#5b80c6" stroke-width="6.5" stroke-linejoin="round" stroke-linecap="round"/><path d="M1029,159.6 C1060,155.6 1085,135 1106,129" fill="none" stroke="#5b80c6" stroke-width="6.5" stroke-linejoin="round" stroke-linecap="round"/><path d="M1029,209 C1060,213 1085,226.7 1106,232.7" fill="none" stroke="#5b80c6" stroke-width="6.5" stroke-linejoin="round" stroke-linecap="round"/><path d="M1029,262.7 C1060,258.7 1085,238.7 1106,232.7" fill="none" stroke="#5b80c6" stroke-width="6.5" stroke-linejoin="round" stroke-linecap="round"/><path d="M1029,313 C1060,317 1085,331 1106,337" fill="none" stroke="#5b80c6" stroke-width="6.5" stroke-linejoin="round" stroke-linecap="round"/><path d="M1029,367.8 C1060,363.8 1085,343 1106,337" fill="none" stroke="#5b80c6" stroke-width="6.5" stroke-linejoin="round" stroke-linecap="round"/><path d="M1104,129 C1115,133 1120,145 1128,165 C1138,190 1148,215 1165,232.7" fill="none" stroke="#5b80c6" stroke-width="7.5" stroke-linejoin="round" stroke-linecap="round"/><path d="M1104,337 C1115,333 1120,321 1128,301 C1138,276 1148,250 1165,232.7" fill="none" stroke="#5b80c6" stroke-width="7.5" stroke-linejoin="round" stroke-linecap="round"/><path d="M1104,232.7 L1160,232.7" fill="none" stroke="#5b80c6" stroke-width="8" stroke-linejoin="round" stroke-linecap="round"/>
<path d="M1150,232.7 L1189.4,232.7" fill="none" stroke="#3c5a99" stroke-width="11.1" stroke-linejoin="round" stroke-linecap="butt"/><path d="M1150,232.7 L1189.4,232.7" fill="none" stroke="#5b80c6" stroke-width="10" stroke-linejoin="round" stroke-linecap="butt"/>
<path d="M979,92.8 C987,82.8 1003,82.8 1011,92.8" fill="none" stroke="#6a4a5a" stroke-width="4.3"/><path d="M979,92.8 C987,82.8 1003,82.8 1011,92.8" fill="none" stroke="url(#rb)" stroke-width="3.1"/>
<path d="M979,92.8 C987,102.8 1003,102.8 1011,92.8" fill="none" stroke="#6a4a5a" stroke-width="4.3"/><path d="M979,92.8 C987,102.8 1003,102.8 1011,92.8" fill="none" stroke="url(#rb)" stroke-width="3.1"/>
<path d="M979,117.2 C987,107.2 1003,107.2 1011,117.2" fill="none" stroke="#6a4a5a" stroke-width="4.3"/><path d="M979,117.2 C987,107.2 1003,107.2 1011,117.2" fill="none" stroke="url(#rb)" stroke-width="3.1"/>
<path d="M979,117.2 C987,127.2 1003,127.2 1011,117.2" fill="none" stroke="#6a4a5a" stroke-width="4.3"/><path d="M979,117.2 C987,127.2 1003,127.2 1011,117.2" fill="none" stroke="url(#rb)" stroke-width="3.1"/>
<path d="M979,147.4 C987,137.4 1003,137.4 1011,147.4" fill="none" stroke="#6a4a5a" stroke-width="4.3"/><path d="M979,147.4 C987,137.4 1003,137.4 1011,147.4" fill="none" stroke="url(#rb)" stroke-width="3.1"/>
<path d="M979,147.4 C987,157.4 1003,157.4 1011,147.4" fill="none" stroke="#6a4a5a" stroke-width="4.3"/><path d="M979,147.4 C987,157.4 1003,157.4 1011,147.4" fill="none" stroke="url(#rb)" stroke-width="3.1"/>
<path d="M979,171.8 C987,161.8 1003,161.8 1011,171.8" fill="none" stroke="#6a4a5a" stroke-width="4.3"/><path d="M979,171.8 C987,161.8 1003,161.8 1011,171.8" fill="none" stroke="url(#rb)" stroke-width="3.1"/>
<path d="M979,171.8 C987,181.8 1003,181.8 1011,171.8" fill="none" stroke="#6a4a5a" stroke-width="4.3"/><path d="M979,171.8 C987,181.8 1003,181.8 1011,171.8" fill="none" stroke="url(#rb)" stroke-width="3.1"/>
<path d="M979,196.8 C987,186.8 1003,186.8 1011,196.8" fill="none" stroke="#6a4a5a" stroke-width="4.3"/><path d="M979,196.8 C987,186.8 1003,186.8 1011,196.8" fill="none" stroke="url(#rb)" stroke-width="3.1"/>
<path d="M979,196.8 C987,206.8 1003,206.8 1011,196.8" fill="none" stroke="#6a4a5a" stroke-width="4.3"/><path d="M979,196.8 C987,206.8 1003,206.8 1011,196.8" fill="none" stroke="url(#rb)" stroke-width="3.1"/>
<path d="M979,221.2 C987,211.2 1003,211.2 1011,221.2" fill="none" stroke="#6a4a5a" stroke-width="4.3"/><path d="M979,221.2 C987,211.2 1003,211.2 1011,221.2" fill="none" stroke="url(#rb)" stroke-width="3.1"/>
<path d="M979,221.2 C987,231.2 1003,231.2 1011,221.2" fill="none" stroke="#6a4a5a" stroke-width="4.3"/><path d="M979,221.2 C987,231.2 1003,231.2 1011,221.2" fill="none" stroke="url(#rb)" stroke-width="3.1"/>
<path d="M979,250.5 C987,240.5 1003,240.5 1011,250.5" fill="none" stroke="#6a4a5a" stroke-width="4.3"/><path d="M979,250.5 C987,240.5 1003,240.5 1011,250.5" fill="none" stroke="url(#rb)" stroke-width="3.1"/>
<path d="M979,250.5 C987,260.5 1003,260.5 1011,250.5" fill="none" stroke="#6a4a5a" stroke-width="4.3"/><path d="M979,250.5 C987,260.5 1003,260.5 1011,250.5" fill="none" stroke="url(#rb)" stroke-width="3.1"/>
<path d="M979,274.9 C987,264.9 1003,264.9 1011,274.9" fill="none" stroke="#6a4a5a" stroke-width="4.3"/><path d="M979,274.9 C987,264.9 1003,264.9 1011,274.9" fill="none" stroke="url(#rb)" stroke-width="3.1"/>
<path d="M979,274.9 C987,284.9 1003,284.9 1011,274.9" fill="none" stroke="#6a4a5a" stroke-width="4.3"/><path d="M979,274.9 C987,284.9 1003,284.9 1011,274.9" fill="none" stroke="url(#rb)" stroke-width="3.1"/>
<path d="M979,300.8 C987,290.8 1003,290.8 1011,300.8" fill="none" stroke="#6a4a5a" stroke-width="4.3"/><path d="M979,300.8 C987,290.8 1003,290.8 1011,300.8" fill="none" stroke="url(#rb)" stroke-width="3.1"/>
<path d="M979,300.8 C987,310.8 1003,310.8 1011,300.8" fill="none" stroke="#6a4a5a" stroke-width="4.3"/><path d="M979,300.8 C987,310.8 1003,310.8 1011,300.8" fill="none" stroke="url(#rb)" stroke-width="3.1"/>
<path d="M979,325.2 C987,315.2 1003,315.2 1011,325.2" fill="none" stroke="#6a4a5a" stroke-width="4.3"/><path d="M979,325.2 C987,315.2 1003,315.2 1011,325.2" fill="none" stroke="url(#rb)" stroke-width="3.1"/>
<path d="M979,325.2 C987,335.2 1003,335.2 1011,325.2" fill="none" stroke="#6a4a5a" stroke-width="4.3"/><path d="M979,325.2 C987,335.2 1003,335.2 1011,325.2" fill="none" stroke="url(#rb)" stroke-width="3.1"/>
<path d="M979,355.6 C987,345.6 1003,345.6 1011,355.6" fill="none" stroke="#6a4a5a" stroke-width="4.3"/><path d="M979,355.6 C987,345.6 1003,345.6 1011,355.6" fill="none" stroke="url(#rb)" stroke-width="3.1"/>
<path d="M979,355.6 C987,365.6 1003,365.6 1011,355.6" fill="none" stroke="#6a4a5a" stroke-width="4.3"/><path d="M979,355.6 C987,365.6 1003,365.6 1011,355.6" fill="none" stroke="url(#rb)" stroke-width="3.1"/>
<path d="M979,380 C987,370 1003,370 1011,380" fill="none" stroke="#6a4a5a" stroke-width="4.3"/><path d="M979,380 C987,370 1003,370 1011,380" fill="none" stroke="url(#rb)" stroke-width="3.1"/>
<path d="M979,380 C987,390 1003,390 1011,380" fill="none" stroke="#6a4a5a" stroke-width="4.3"/><path d="M979,380 C987,390 1003,390 1011,380" fill="none" stroke="url(#rb)" stroke-width="3.1"/>
<circle cx="886" cy="132" r="18.8" fill="#f8c6d0" stroke="#f0b0bf" stroke-width="1"/><circle cx="886" cy="132" r="11.5" fill="#c9566f"/><circle cx="885.4" cy="131.1" r="10.6" fill="#d96f86"/>
<circle cx="886" cy="224" r="18.8" fill="#f8c6d0" stroke="#f0b0bf" stroke-width="1"/><circle cx="886" cy="224" r="11.5" fill="#c9566f"/><circle cx="885.4" cy="223.1" r="10.6" fill="#d96f86"/>
<circle cx="938.5" cy="311" r="19" fill="#f8c6d0" stroke="#f0b0bf" stroke-width="1"/><circle cx="938.5" cy="311" r="11.5" fill="#c9566f"/><circle cx="937.9" cy="310.1" r="10.6" fill="#d96f86"/>
<path d="M734.7,173 Q738.3,224.1 782.7,256 Q777.1,201.6 734.7,173 Z" fill="#c6dcf1" stroke="#a8c4e6" stroke-width="0.7"/><ellipse cx="757.7" cy="212.8" rx="11.6" ry="5" fill="#5a7dc0" transform="rotate(60 757.7 212.8)"/>
<path d="M769.5,246 Q742.3,294.3 751,349 Q778.2,300.7 769.5,246 Z" fill="#c6dcf1" stroke="#a8c4e6" stroke-width="0.7"/><ellipse cx="760.2" cy="297.5" rx="11" ry="5.5" fill="#5a7dc0" transform="rotate(100.2 760.2 297.5)"/>
<path d="M755,348.6 Q707.4,362.2 687.4,407.5 Q735,393.9 755,348.6 Z" fill="#c6dcf1" stroke="#a8c4e6" stroke-width="0.7"/><ellipse cx="721.2" cy="378.1" rx="10.8" ry="6.5" fill="#5a7dc0" transform="rotate(138.9 721.2 378.1)"/>
<path d="M789,240 Q766.8,263.5 774.4,295 Q796.6,271.5 789,240 Z" fill="#f7c3cb" stroke="#eaa2ae" stroke-width="0.7"/><ellipse cx="781.7" cy="267.5" rx="4.3" ry="4.3" fill="#d25a70" transform="rotate(104.9 781.7 267.5)"/>
<path d="M779,294 Q755.3,317.9 761,351 Q784.7,327.1 779,294 Z" fill="#f7c3cb" stroke="#eaa2ae" stroke-width="0.7"/><ellipse cx="770" cy="322.5" rx="4.3" ry="4.3" fill="#d25a70" transform="rotate(107.5 770 322.5)"/>
<path d="M765,340 Q740.3,364.2 747.7,398 Q772.4,373.8 765,340 Z" fill="#f7c3cb" stroke="#eaa2ae" stroke-width="0.7"/><ellipse cx="756.4" cy="369" rx="4.3" ry="4.3" fill="#d25a70" transform="rotate(106.6 756.4 369)"/>
<path d="M749,383 Q717.7,384.2 697.5,408 Q728.8,406.8 749,383 Z" fill="#f7c3cb" stroke="#eaa2ae" stroke-width="0.7"/><ellipse cx="723.2" cy="395.5" rx="4.5" ry="4.5" fill="#d25a70" transform="rotate(154.1 723.2 395.5)"/>
<path d="M703,409 Q672.2,412.1 654,437 Q684.8,433.9 703,409 Z" fill="#f7c3cb" stroke="#eaa2ae" stroke-width="0.7"/><ellipse cx="678.5" cy="423" rx="4.5" ry="4.5" fill="#d25a70" transform="rotate(150.3 678.5 423)"/>
<path d="M839,246 Q805.8,278.7 806,334 Q842.5,292.5 839,246 Z" fill="#d3eadc" stroke="#b3d3c0" stroke-width="0.7"/><ellipse cx="824.1" cy="285.6" rx="8" ry="5" fill="#5f9a7c" transform="rotate(110.6 824.1 285.6)"/>
<path d="M460,288 Q488.8,345.8 545.4,372 Q518.3,315.9 460,288 Z" fill="#c6dcf1" stroke="#a8c4e6" stroke-width="0.7"/><ellipse cx="503.6" cy="330.8" rx="16" ry="7.5" fill="#5a7dc0" transform="rotate(44.5 503.6 330.8)"/>
<path d="M493,390 Q540.4,417.5 601,410.5 Q547.2,381.8 493,390 Z" fill="#c6dcf1" stroke="#a8c4e6" stroke-width="0.7"/><ellipse cx="543.8" cy="399.6" rx="12" ry="6" fill="#5a7dc0" transform="rotate(10.7 543.8 399.6)"/>
<path d="M530,407 Q579.8,436.3 642,434 Q587.7,403.6 530,407 Z" fill="#d3eadc" stroke="#b3d3c0" stroke-width="0.7"/><ellipse cx="583.8" cy="420" rx="8" ry="5" fill="#5f9a7c" transform="rotate(13.6 583.8 420)"/>
<path d="M736.9,210 L737.5,214.3 L735.2,218.1 L733.2,221.7 L733.2,226.3 L731.5,230.3 L727.5,232.5 L724.2,235 L721.3,238.2 L717.6,240.4 L713.4,241.5 L709.2,241.5 L705,241.1 L700.8,241.9 L696.5,241.8 L693.1,238.7 L689.9,236.2 L685.4,235.6 L681.8,233.2 L680,229.2 L677.8,225.7 L675.3,222.3 L673.4,218.5 L672.3,214.3 L672.9,210 L674,205.9 L673.4,201.5 L674.1,197.2 L677.8,194.3 L680.7,191.4 L682.2,187.2 L685.2,184.2 L689.3,182.8 L693.1,181.2 L696.9,179.7 L700.8,178.1 L705,177.1 L709.2,178.5 L713,180 L717.6,179.6 L721.9,180.8 L724.3,184.8 L727.1,187.9 L730.8,190.2 L733.3,193.7 L734.4,197.8 L735.2,201.9 L735.7,206Z" fill="#f2a896" stroke="#e58d7b" stroke-width="0.8"/><path d="M732.8,208.7 L732.9,212.2 L731.4,215.5 L729.3,218.3 L727.8,221.1 L726.7,224.4 L724.9,227.4 L722.2,229.4 L719,230.8 L715.9,232 L712.7,232.8 L709.5,233.2 L706.3,233.6 L702.9,234.4 L699.4,234.5 L696.2,233.1 L693.6,230.6 L691.1,228.4 L688.2,226.8 L685.5,224.7 L683.5,221.9 L682.2,218.7 L681.3,215.4 L681,212 L681.6,208.7 L682.1,205.5 L682,202.2 L682,198.7 L683.5,195.5 L686.1,193.2 L688.7,191.2 L691,188.8 L693.4,186.4 L696.3,184.7 L699.5,183.4 L702.8,182.4 L706.3,182.4 L709.6,183.6 L712.6,185.1 L715.8,185.8 L719.2,186.3 L722.3,187.8 L724.5,190.5 L726.1,193.5 L727.8,196.3 L729.5,199.1 L730.7,202.2 L731.8,205.4Z" fill="#f5b1a1"/><circle cx="686.1" cy="198.6" r="1.9" fill="#ec9483"/><circle cx="722.5" cy="197.8" r="1.6" fill="#ec9483"/><circle cx="707.4" cy="227.2" r="1.2" fill="#ec9483"/><circle cx="696" cy="189.7" r="1.9" fill="#ec9483"/><circle cx="720.5" cy="216.3" r="1" fill="#ec9483"/><circle cx="705.6" cy="187.1" r="1.4" fill="#ec9483"/><circle cx="692.1" cy="229" r="1.3" fill="#ec9483"/><circle cx="708.6" cy="228.9" r="1.3" fill="#ec9483"/><circle cx="703" cy="208" r="14" fill="#cf5742"/><circle cx="702.2" cy="206.6" r="12.6" fill="#e2705c"/>
<path d="M751.7,269 L753.6,274.1 L751.5,278.8 L748.5,282.9 L747.2,287.6 L745.1,292.1 L741.6,295.6 L737.5,298.4 L733,300.1 L728.9,302.5 L724.8,305.6 L719.8,305.8 L715,304 L710.3,304.9 L705.1,306 L700.7,303.4 L696.9,300.4 L692.5,298.3 L688.3,295.7 L684.8,292.2 L682.4,287.8 L681.6,282.9 L679.6,278.5 L676.8,274 L677.7,269 L680.2,264.4 L680,259.6 L680.1,254.5 L683.1,250.6 L686.4,247.1 L689.3,243.3 L692.5,239.7 L696,236 L700.6,234.1 L705.7,234.2 L710.2,232.4 L715,230 L719.9,231.6 L724.3,234.5 L729.1,235.1 L733.9,236.3 L737.5,239.6 L740.7,243.3 L743.5,247.2 L746.4,250.8 L749.9,254.5 L751.1,259.3 L750.2,264.4Z" fill="#f2a896" stroke="#e58d7b" stroke-width="0.8"/><path d="M746.9,267.5 L745.4,271.3 L744.2,274.9 L743.8,278.8 L742.9,282.8 L740.7,286.1 L737.6,288.6 L734.4,290.9 L731,292.7 L727.4,293.9 L723.8,295 L720.3,296.6 L716.5,298.1 L712.5,297.8 L708.9,295.9 L705.5,294 L701.9,292.8 L698.2,291.4 L695,289 L692.4,286 L690.2,282.7 L688.8,279 L688.5,275 L688.5,271.2 L687.7,267.5 L686.7,263.6 L687,259.6 L689.1,256.2 L691.6,253.2 L693.7,250 L695.7,246.8 L698.4,243.9 L701.4,241.5 L704.7,239.2 L708.5,237.8 L712.6,237.9 L716.5,238.9 L720.2,239.1 L724.2,238.7 L728.2,239.3 L731.5,241.5 L734.2,244.4 L736.8,247.2 L739.4,250 L741.5,253.1 L743.5,256.3 L745.6,259.7 L747.1,263.5Z" fill="#f5b1a1"/><circle cx="730.9" cy="291.3" r="1.3" fill="#ec9483"/><circle cx="708.8" cy="244.3" r="1.5" fill="#ec9483"/><circle cx="695.8" cy="252.6" r="1.2" fill="#ec9483"/><circle cx="688.8" cy="265" r="1.7" fill="#ec9483"/><circle cx="735.4" cy="250.6" r="1.5" fill="#ec9483"/><circle cx="718" cy="290.2" r="2" fill="#ec9483"/><circle cx="705.2" cy="245.4" r="1.6" fill="#ec9483"/><circle cx="693.4" cy="269.9" r="1.7" fill="#ec9483"/><circle cx="715" cy="270" r="15" fill="#cf5742"/><circle cx="714.1" cy="268.5" r="13.5" fill="#e2705c"/>
<path d="M746.2,333 L744.7,337.6 L743.3,341.9 L741.8,346.2 L740.4,350.5 L738.3,354.7 L734.1,357.1 L730.2,359.3 L727.6,363.6 L723.9,366.5 L718.9,366.2 L714.4,366.8 L710,368.7 L705.3,368.8 L700.8,367.3 L696.6,365.3 L692.7,363 L688.4,361.2 L684.4,358.6 L682.8,353.9 L681.2,349.6 L677.4,346.5 L675.4,342.3 L676.3,337.4 L676.2,333 L675.3,328.4 L675.7,323.8 L677.1,319.4 L679.7,315.5 L682.7,312.1 L684.6,307.6 L687.6,303.8 L692.6,302.9 L697.1,301.8 L700.8,298.5 L705.3,297.4 L710,298.7 L714.4,299.4 L718.9,299.7 L723.4,300.7 L727.7,302.3 L731,305.7 L733.9,309.1 L738.3,311.3 L741.8,314.6 L742.1,319.7 L743,324.2 L745.7,328.3Z" fill="#f2a896" stroke="#e58d7b" stroke-width="0.8"/><path d="M739.1,331.6 L737.7,335.1 L737.2,338.5 L737.2,342.3 L736.3,346 L733.9,348.9 L731,351.2 L728.2,353.5 L725.3,355.6 L722,357.2 L718.7,358.7 L715.2,360.3 L711.4,361 L707.7,360 L704.4,357.9 L701.1,356.4 L697.6,355.5 L694.1,354.1 L691.4,351.6 L689.2,348.6 L687.3,345.5 L685.9,342.2 L685.2,338.6 L684.4,335.2 L683.1,331.6 L682.2,327.8 L683.2,324 L685.5,320.9 L687.8,318 L689.5,314.8 L691.4,311.6 L694.1,309.1 L697.3,307.1 L700.6,305.5 L704.2,304.6 L707.9,304.8 L711.4,305 L715,304.5 L718.8,303.8 L722.6,304.6 L725.6,307 L728.2,309.7 L731,312 L733.7,314.5 L735.8,317.5 L737.7,320.7 L739.3,324.1 L739.9,327.8Z" fill="#f5b1a1"/><circle cx="733.6" cy="331.8" r="1.8" fill="#ec9483"/><circle cx="707.9" cy="314" r="1.1" fill="#ec9483"/><circle cx="693.9" cy="322.9" r="1.5" fill="#ec9483"/><circle cx="731.8" cy="316.8" r="1.2" fill="#ec9483"/><circle cx="728.4" cy="345.5" r="1.9" fill="#ec9483"/><circle cx="731" cy="338.3" r="1.2" fill="#ec9483"/><circle cx="727" cy="352.6" r="1.2" fill="#ec9483"/><circle cx="687.4" cy="349.5" r="1.8" fill="#ec9483"/><circle cx="710" cy="335" r="15" fill="#cf5742"/><circle cx="709.1" cy="333.5" r="13.5" fill="#e2705c"/>
<path d="M678.6,345 L677.3,349.6 L674.3,353.7 L673.8,358.2 L673.1,363 L669.6,366.2 L665.9,368.9 L662.8,372.2 L659.4,375.2 L655.6,377.9 L651.2,379.2 L646.4,378.7 L642,379.8 L637.2,381.6 L632.7,379.6 L629,376.4 L624.5,375.3 L620,373.7 L617.1,369.9 L614.7,365.9 L612.5,362.1 L610.2,358.2 L607.7,354.2 L607.2,349.6 L608.6,345 L607.9,340.5 L606.7,335.5 L609.1,331.4 L612.5,328 L614.1,323.6 L616.4,319.4 L620.2,316.6 L624.4,314.6 L628.8,313.2 L633,311.6 L637.3,309.3 L642,309.8 L646.3,312.2 L650.8,312 L655.8,311.7 L659.5,314.7 L662.6,318.1 L666.6,320.4 L670.3,323.3 L673.1,327.1 L674.9,331.4 L675.3,336.1 L676.6,340.4Z" fill="#f2a896" stroke="#e58d7b" stroke-width="0.8"/><path d="M671.3,343.6 L670.2,347.1 L669.8,350.7 L669.4,354.4 L668.1,357.9 L666.2,361.1 L663.8,364 L660.9,366.4 L657.3,367.7 L653.7,368.5 L650.4,369.8 L647.1,371.6 L643.4,372.5 L639.7,371.6 L636.3,370 L633,368.6 L629.7,367.4 L626.5,365.6 L623.5,363.5 L620.5,361.2 L618.1,358.2 L617,354.5 L617,350.7 L616.5,347.1 L615.3,343.6 L614.7,339.8 L615.7,336.2 L617.6,332.9 L619.6,329.9 L621.7,327 L624.2,324.4 L626.8,322 L629.3,319.2 L632.3,316.7 L635.9,315.7 L639.8,316.1 L643.4,316.5 L647,316.1 L650.8,315.9 L654.5,316.9 L657.7,318.9 L660.6,321.2 L663.1,323.9 L665,327.1 L666.6,330.2 L668.7,333.1 L671.1,336.2 L672,339.8Z" fill="#f5b1a1"/><circle cx="669.4" cy="339.9" r="1.8" fill="#ec9483"/><circle cx="645.2" cy="369.2" r="1.8" fill="#ec9483"/><circle cx="648.6" cy="329.2" r="1.2" fill="#ec9483"/><circle cx="657.8" cy="334.7" r="1.7" fill="#ec9483"/><circle cx="629.6" cy="369.7" r="2" fill="#ec9483"/><circle cx="621.9" cy="335.7" r="1.4" fill="#ec9483"/><circle cx="623.4" cy="329.3" r="1.5" fill="#ec9483"/><circle cx="617.9" cy="352.2" r="1.3" fill="#ec9483"/><circle cx="642" cy="347" r="15" fill="#cf5742"/><circle cx="641.1" cy="345.5" r="13.5" fill="#e2705c"/>
<path d="M682.5,262 L682.8,266.1 L683.5,270.4 L681.9,274.4 L679.6,277.9 L677.2,281.3 L674.6,284.6 L672.2,288.3 L668.6,290.7 L664,290.9 L660.1,292.3 L656.3,294.9 L652,294.6 L648,292.5 L643.9,292.1 L639.7,291.7 L636,289.8 L632.7,287.2 L629.9,284.1 L627.1,281.1 L623.4,278.5 L621.4,274.7 L621.9,270.1 L620.7,266.1 L618.5,262 L619.4,257.7 L621.7,253.9 L622.8,249.9 L624.2,245.9 L626.4,242.4 L629.4,239.4 L633.2,237.5 L636.6,235.3 L639.5,231.8 L643.5,230.5 L648,231.5 L652,230.6 L656.3,229 L660.5,230.3 L664.2,232.6 L668,234.3 L671.6,236.4 L675.2,238.8 L677.9,242.1 L678.8,246.5 L680.6,250.2 L683.7,253.5 L684.1,257.8Z" fill="#f2a896" stroke="#e58d7b" stroke-width="0.8"/><path d="M678.4,260.7 L677.6,263.9 L677.2,267.1 L676.6,270.4 L675.4,273.5 L673.9,276.5 L671.9,279.4 L669.2,281.5 L665.9,282.6 L662.8,283.6 L659.9,285.3 L656.7,287.1 L653.3,287.5 L649.9,286.4 L646.8,285 L643.7,283.8 L640.8,282.3 L638.1,280.5 L635.3,278.7 L632.5,276.6 L630.5,273.9 L629.8,270.5 L629.5,267.1 L628.5,264 L627.2,260.7 L626.8,257.2 L627.8,253.9 L629.3,250.8 L631.1,247.9 L633.2,245.3 L635.7,243.2 L638.1,240.9 L640.3,238.3 L643.2,236.3 L646.6,235.9 L650.1,236.3 L653.3,236.3 L656.6,235.6 L660,235.6 L663.3,236.5 L666.4,238 L669.3,239.9 L671.5,242.5 L673.2,245.5 L674.8,248.3 L677.1,250.9 L679,253.8 L679.3,257.3Z" fill="#f5b1a1"/><circle cx="670.8" cy="243.6" r="1.7" fill="#ec9483"/><circle cx="674.9" cy="251.3" r="1.7" fill="#ec9483"/><circle cx="648.4" cy="271.7" r="1.3" fill="#ec9483"/><circle cx="657.1" cy="240.2" r="1.6" fill="#ec9483"/><circle cx="646.9" cy="270.7" r="1.4" fill="#ec9483"/><circle cx="641.4" cy="270.5" r="1.8" fill="#ec9483"/><circle cx="672.6" cy="248.4" r="1.9" fill="#ec9483"/><circle cx="636.6" cy="239.8" r="1.7" fill="#ec9483"/><circle cx="657" cy="257" r="12" fill="#cf5742"/><circle cx="656.3" cy="255.8" r="10.8" fill="#e2705c"/>
<path d="M708.7,159 L710.1,163.2 L709.7,167.5 L706.9,171 L704.7,174.4 L703.1,178.2 L700.7,181.7 L697.7,184.7 L693.9,186.5 L689.9,187.6 L686.4,190.5 L682.4,192.4 L678,190.9 L673.9,189.8 L669.5,190.7 L665.3,189.6 L662.1,186.6 L658.9,183.9 L655.8,181.2 L652.7,178.4 L649.9,175.2 L649,171 L648.6,166.9 L646.1,163.2 L644.7,159 L646.6,154.9 L647.9,150.9 L647.8,146.5 L649.3,142.4 L652.3,139.3 L655.4,136.4 L658.8,133.9 L661.9,131 L665.4,128.5 L669.9,128.7 L674,129 L678,126.9 L682.3,126.4 L686.1,128.8 L689.8,130.5 L694.1,131.2 L697.9,133.1 L701,136 L703.4,139.5 L705.3,143.2 L708.2,146.5 L710.4,150.3 L709.5,154.9Z" fill="#f2a896" stroke="#e58d7b" stroke-width="0.8"/><path d="M705,157.7 L704.6,161.1 L703.8,164.3 L702.3,167.3 L700.6,170 L699.3,173.1 L698,176.4 L695.7,179.1 L692.4,180.4 L688.9,181 L685.8,182 L682.6,183.1 L679.3,183.6 L675.9,183.4 L672.6,182.8 L669.4,181.6 L666.7,179.5 L664.5,177 L662,175 L659,173.3 L656.3,171 L655,167.8 L654.7,164.3 L654.3,161 L653.8,157.7 L653.8,154.4 L654.3,151 L655,147.7 L656.2,144.4 L658.7,141.9 L661.8,140.2 L664.5,138.5 L666.8,136.1 L669.3,133.7 L672.5,132.5 L675.9,132.4 L679.3,132.4 L682.6,132.6 L685.8,133.4 L689,134.3 L692.3,135.2 L695.6,136.4 L698.2,138.8 L699.6,142.1 L700.6,145.4 L702.3,148.2 L704.1,151.1 L705,154.3Z" fill="#f5b1a1"/><circle cx="671.6" cy="134.7" r="1" fill="#ec9483"/><circle cx="701.6" cy="150.9" r="1" fill="#ec9483"/><circle cx="686.6" cy="136.5" r="1.1" fill="#ec9483"/><circle cx="697.9" cy="156.3" r="1.4" fill="#ec9483"/><circle cx="664.4" cy="140.4" r="1.7" fill="#ec9483"/><circle cx="674.2" cy="181.2" r="1.1" fill="#ec9483"/><circle cx="674.7" cy="181.4" r="1" fill="#ec9483"/><circle cx="663.4" cy="180.5" r="1.1" fill="#ec9483"/><circle cx="678" cy="160" r="13" fill="#cf5742"/><circle cx="677.2" cy="158.7" r="11.7" fill="#e2705c"/>
<path d="M657.5,180 L654.6,186.5 L651.5,192.5 L652.1,199.5 L650.6,206.3 L645,210.7 L640.2,215.2 L636.2,220.7 L631.1,225.2 L625.1,228.5 L618.3,229.6 L611.5,229.4 L605,231.6 L598,232.9 L591.9,228.7 L586.4,224.8 L579.5,224.2 L573.3,221.3 L569.6,215.4 L565.7,210.1 L561.5,205.1 L557.6,199.6 L554.4,193.6 L554.3,186.7 L555.5,180 L553.5,173.2 L553,166.1 L557.9,160.5 L562.2,155.3 L564.1,148.6 L568.1,143.1 L574.1,139.8 L580.1,136.8 L586,134.2 L591.9,131.1 L598.2,128.3 L605,129.6 L611.4,131.8 L618.3,130.2 L625.5,130.6 L630.5,135.8 L635.4,140.4 L641.7,143.3 L646.7,148 L649.8,154.1 L651.9,160.6 L652.9,167.2 L655.4,173.4Z" fill="#f2a896" stroke="#e58d7b" stroke-width="0.8"/><path d="M647.6,178 L648,183.3 L647.2,188.7 L644.4,193.4 L640.8,197.4 L638.1,201.8 L636.1,207 L632.9,211.7 L628.2,214.6 L622.8,216.1 L617.6,217.4 L612.3,218.3 L607,218.3 L601.8,218 L596.3,217.9 L590.9,216.9 L586.4,213.7 L583.1,209.2 L579.8,205.2 L575.5,202.1 L571.3,198.6 L568.5,193.9 L567.1,188.7 L566.1,183.3 L566,178 L567.1,172.7 L568.3,167.6 L569,162.2 L570.1,156.6 L573.4,152.1 L578.4,149.3 L583.3,147 L587.4,143.9 L591.6,140.7 L596.5,138.5 L601.7,137.4 L607,136.7 L612.4,137.1 L617.5,139.1 L622.1,141.5 L627.2,143 L632.8,144.4 L637.5,147.5 L640.3,152.5 L642,157.8 L643.9,162.7 L645.9,167.6 L647,172.7Z" fill="#f5b1a1"/><circle cx="605.8" cy="219.7" r="3" fill="#ec9483"/><circle cx="585.7" cy="153.6" r="2" fill="#ec9483"/><circle cx="633.1" cy="216" r="2.7" fill="#ec9483"/><circle cx="605" cy="219.9" r="2.6" fill="#ec9483"/><circle cx="631.6" cy="165.3" r="2" fill="#ec9483"/><circle cx="619.2" cy="217" r="2.9" fill="#ec9483"/><circle cx="602" cy="153.4" r="2.1" fill="#ec9483"/><circle cx="631.6" cy="196.9" r="2.3" fill="#ec9483"/><circle cx="605" cy="183" r="22" fill="#cf5742"/><circle cx="603.7" cy="180.8" r="19.8" fill="#e2705c"/>
<path d="M559,201 L558.7,204.8 L556.4,208.1 L555.5,211.6 L555.4,215.7 L552.7,218.5 L549.2,220.2 L546.7,222.8 L544.1,225.4 L540.7,226.9 L537.2,227.8 L533.5,227.9 L530,228.2 L526.2,229.5 L522.6,228.7 L519.6,226 L516.2,224.9 L512.1,224.3 L509.6,221.4 L508.1,217.8 L505.9,214.9 L503.9,211.8 L502.5,208.4 L502,204.7 L503,201 L503.2,197.5 L502.3,193.6 L503.8,190.1 L506.9,187.7 L508.3,184.4 L509.6,180.6 L512.6,178.4 L516.1,176.9 L519.3,175.2 L522.7,173.7 L526.2,172.3 L530,172.2 L533.6,174 L537.1,174.6 L541.1,174.3 L544.2,176.4 L546.2,179.8 L549.2,181.8 L552.5,183.8 L554.4,186.9 L555.6,190.4 L556.6,193.9 L557.5,197.4Z" fill="#f2a896" stroke="#e58d7b" stroke-width="0.8"/><path d="M553.1,199.9 L553.8,202.9 L553.3,205.8 L551.8,208.4 L550.2,210.9 L548.7,213.4 L546.8,215.6 L544.7,217.6 L542.6,219.7 L540.1,221.6 L537.1,222.3 L534,221.9 L531.1,221.3 L528.3,221.5 L525.3,221.7 L522.4,221 L519.9,219.3 L517.6,217.5 L515.5,215.5 L513.8,213.2 L512.3,210.7 L510.5,208.4 L508.6,205.9 L507.7,203 L508.3,199.9 L509.4,197 L510,194.2 L510.4,191.3 L511.4,188.5 L513.1,186.1 L515.2,183.9 L517.5,182.1 L520.2,180.9 L523,180.2 L525.5,179.1 L528.2,177.5 L531.1,176.5 L534.1,177.1 L536.9,178.4 L539.5,179.6 L542.3,180.5 L544.9,181.9 L547.2,183.8 L549.3,185.9 L551.1,188.3 L551.9,191.3 L551.9,194.3 L552.2,197.1Z" fill="#f5b1a1"/><circle cx="548.3" cy="218.4" r="1.6" fill="#ec9483"/><circle cx="519.3" cy="214.1" r="1" fill="#ec9483"/><circle cx="548.6" cy="210.7" r="1" fill="#ec9483"/><circle cx="543.7" cy="187.9" r="1" fill="#ec9483"/><circle cx="553.8" cy="191.8" r="0.9" fill="#ec9483"/><circle cx="522.5" cy="223.3" r="1.2" fill="#ec9483"/><circle cx="518" cy="186.6" r="1.4" fill="#ec9483"/><circle cx="553.4" cy="209.4" r="1.5" fill="#ec9483"/><circle cx="533" cy="202" r="13" fill="#cf5742"/><circle cx="532.2" cy="200.7" r="11.7" fill="#e2705c"/>
<path d="M578.9,254 L576.7,258.2 L576.8,262.5 L577,267.3 L574.1,270.8 L570.6,273.7 L568.1,277.1 L565.1,280.2 L561.6,282.8 L557.6,284.4 L553.2,284.5 L549.2,285.8 L545,288 L540.6,287.1 L536.8,284.6 L532.5,284.3 L527.8,283.8 L524.5,280.7 L521.7,277.3 L518.9,274 L516.2,270.6 L513.7,267 L512.7,262.7 L513.6,258.1 L512.9,254 L511.3,249.6 L513.1,245.4 L516,242 L516.9,237.8 L518.3,233.5 L521.4,230.4 L524.9,227.8 L528.6,225.7 L532.3,223.4 L536.1,220.8 L540.6,220.4 L545,222 L549.3,221.7 L553.9,220.8 L557.7,223.3 L560.8,226.6 L564.7,228.4 L568.4,230.6 L571.2,233.9 L573.4,237.6 L574.6,241.7 L576.5,245.6 L579.1,249.5Z" fill="#f2a896" stroke="#e58d7b" stroke-width="0.8"/><path d="M573.5,252.7 L572.1,256.1 L571,259.3 L570.1,262.5 L568.9,265.7 L567.1,268.6 L565.1,271.5 L562.7,274 L559.6,275.6 L556.1,276.3 L552.9,277.2 L549.8,278.9 L546.3,280.3 L542.7,280.1 L539.4,278.6 L536.3,276.9 L533.3,275.3 L530.5,273.3 L527.9,271.1 L525.3,268.8 L522.9,266.2 L521.5,262.9 L521.5,259.3 L521.6,255.9 L520.7,252.7 L519.8,249.2 L520,245.6 L521.4,242.3 L523.2,239.3 L525.2,236.5 L527.8,234.1 L530.5,232.1 L533.2,229.9 L535.9,227.5 L539.2,226.2 L542.9,226.5 L546.3,227.5 L549.6,227.7 L553,227.6 L556.5,228.1 L559.7,229.6 L562.6,231.5 L565.3,233.7 L567.2,236.6 L568.6,239.8 L570.3,242.7 L572.5,245.7 L573.9,249Z" fill="#f5b1a1"/><circle cx="543.9" cy="276" r="1.5" fill="#ec9483"/><circle cx="566.3" cy="267.6" r="1.9" fill="#ec9483"/><circle cx="526.8" cy="245.2" r="1.8" fill="#ec9483"/><circle cx="528.6" cy="260.2" r="1.8" fill="#ec9483"/><circle cx="561.4" cy="277.3" r="1.9" fill="#ec9483"/><circle cx="526.1" cy="247.2" r="1.1" fill="#ec9483"/><circle cx="559.9" cy="276.7" r="1.7" fill="#ec9483"/><circle cx="534.4" cy="240.9" r="1.7" fill="#ec9483"/><circle cx="548" cy="254" r="14" fill="#cf5742"/><circle cx="547.2" cy="252.6" r="12.6" fill="#e2705c"/>
<path d="M583.6,305 L581.8,309.4 L582.7,314.3 L582.2,319.2 L578.5,322.6 L575.5,326.1 L573.5,330.5 L570.3,334.1 L566.3,336.7 L561.8,338.3 L557.2,339.2 L552.8,341.3 L548,342.9 L543.3,340.7 L539.1,338.4 L534.1,338.6 L529.5,337.1 L526.5,333 L523.4,329.6 L519.9,326.6 L516.8,323 L514.4,318.9 L513.5,314.2 L513.5,309.5 L511.6,305 L510.4,300.1 L513.2,295.7 L515.7,291.6 L516.1,286.6 L518.4,282.2 L522.6,279.6 L526.5,277 L530.3,274.3 L534.3,271.8 L538.5,269.7 L543.4,269.9 L548,270.9 L552.7,269.3 L557.7,268.8 L561.6,272.1 L565.5,274.8 L570.3,275.9 L574.4,278.6 L577,282.8 L579.2,287 L580.9,291.4 L583.1,295.6 L584.9,300.1Z" fill="#f2a896" stroke="#e58d7b" stroke-width="0.8"/><path d="M577.6,303.6 L577.4,307.2 L577.1,311 L576.1,314.6 L574.8,318.2 L573.2,321.8 L570.7,324.8 L567.1,326.6 L563.3,327.6 L560,329.1 L556.9,331.3 L553.3,332.8 L549.4,332.7 L545.7,331.8 L542.1,330.8 L538.7,329.6 L535.4,327.9 L532.1,326.1 L528.6,324.4 L525.4,322 L523.7,318.4 L523.2,314.4 L522.5,310.8 L521.1,307.3 L520,303.6 L520.3,299.7 L521.4,296.1 L522.9,292.6 L524.9,289.4 L527.5,286.7 L529.9,284.1 L532,280.9 L534.5,277.7 L538,275.9 L542,275.7 L545.8,275.7 L549.4,275.1 L553.2,274.7 L557.1,275.2 L560.7,276.4 L564.2,278 L567.2,280.4 L569.3,283.7 L571.1,286.9 L573.6,289.6 L576.4,292.4 L578.1,295.9 L578.2,299.8Z" fill="#f5b1a1"/><circle cx="570.4" cy="295.6" r="2" fill="#ec9483"/><circle cx="549.4" cy="329.5" r="1.4" fill="#ec9483"/><circle cx="530" cy="299.9" r="1.5" fill="#ec9483"/><circle cx="541.3" cy="322.6" r="2" fill="#ec9483"/><circle cx="566.5" cy="294.2" r="1.8" fill="#ec9483"/><circle cx="525.6" cy="300.8" r="1.7" fill="#ec9483"/><circle cx="537.3" cy="286.3" r="1.5" fill="#ec9483"/><circle cx="518.5" cy="303.7" r="2.1" fill="#ec9483"/><circle cx="549" cy="305" r="15" fill="#cf5742"/><circle cx="548.1" cy="303.5" r="13.5" fill="#e2705c"/>
<path d="M619.9,361 L618.2,365.6 L618.8,370.6 L618.3,375.6 L615.7,379.9 L612.5,383.6 L608.9,386.9 L605.6,390.5 L602.2,394.3 L597.3,395.5 L592.1,395 L587.8,397.2 L583,399.2 L578.2,397.3 L573.8,395.2 L569,394.7 L564.3,393.3 L560.2,390.7 L556.7,387.3 L554.2,383.1 L550.8,379.6 L547,375.9 L546.6,370.8 L547.6,365.7 L545.9,361 L544.9,356 L547.3,351.4 L549.9,347.3 L551.6,342.9 L553.8,338.6 L556.6,334.6 L560.6,331.8 L565.2,330.3 L569,327.1 L573,323.6 L578.1,323.8 L583,325.2 L587.9,323.9 L593,323.7 L597.4,326.3 L601.3,329.2 L605.2,332 L609.1,334.9 L612.9,338 L614.9,342.6 L615.4,347.6 L618.1,351.6 L621,356Z" fill="#f2a896" stroke="#e58d7b" stroke-width="0.8"/><path d="M614.8,359.5 L614.5,363.5 L613.6,367.3 L611.6,370.7 L609,373.7 L607,376.8 L605.4,380.5 L603.1,383.7 L599.5,385.5 L595.6,386.3 L591.9,387.2 L588.3,388.5 L584.5,389.2 L580.6,389.2 L576.6,389 L572.7,388 L569.4,385.7 L566.9,382.5 L564.4,379.6 L561.2,377.4 L558.2,374.7 L556.5,371.1 L556.1,367.1 L555.9,363.3 L555.6,359.5 L555.9,355.8 L556.4,352 L556.9,348.1 L557.7,344.1 L560.1,340.8 L563.6,338.6 L567,336.8 L569.9,334.3 L572.9,331.6 L576.6,330.1 L580.6,329.8 L584.5,330 L588.3,330.5 L591.9,331.8 L595.3,333.4 L599,334.4 L602.9,335.5 L606.2,337.8 L608.2,341.3 L609.4,345.1 L611.2,348.4 L613.3,351.8 L614.6,355.6Z" fill="#f5b1a1"/><circle cx="593.4" cy="342.1" r="2.2" fill="#ec9483"/><circle cx="558.5" cy="363" r="1.8" fill="#ec9483"/><circle cx="593.8" cy="381.4" r="1.6" fill="#ec9483"/><circle cx="586.5" cy="389.4" r="1.6" fill="#ec9483"/><circle cx="565.8" cy="377.5" r="1.4" fill="#ec9483"/><circle cx="576.5" cy="332.4" r="1.5" fill="#ec9483"/><circle cx="590.8" cy="339.7" r="2" fill="#ec9483"/><circle cx="584.9" cy="388.4" r="1.6" fill="#ec9483"/><circle cx="583" cy="362" r="16" fill="#cf5742"/><circle cx="582" cy="360.4" r="14.4" fill="#e2705c"/>
<path d="M698.5,374 L697.6,377.2 L697.9,380.7 L697.2,384 L695.6,387.1 L693.5,389.7 L690.9,391.9 L689,394.8 L686.7,397.7 L683,398.2 L679.5,398.3 L676.5,400.2 L673,401.1 L669.6,399.7 L666.5,398.4 L663.2,397.8 L660,396.5 L657.1,394.8 L654.9,392.1 L653.3,389.1 L650.6,386.9 L648,384.4 L648,380.7 L648.1,377.3 L646.5,374 L646.1,370.5 L647.6,367.2 L649.2,364.1 L650.6,361.1 L652.2,358.1 L654.2,355.2 L657.3,353.6 L660.7,352.6 L663.1,350.2 L666.1,348.1 L669.7,348.7 L673,349.1 L676.4,348.1 L679.9,348.2 L683.1,349.7 L686,351.5 L688.7,353.5 L691.7,355.3 L694.6,357.5 L695.6,360.9 L696,364.5 L698.2,367.3 L699.7,370.5Z" fill="#f2a896" stroke="#e58d7b" stroke-width="0.8"/><path d="M693.9,373 L694,375.6 L694.1,378.3 L693.5,381 L692.1,383.4 L690.5,385.6 L688.7,387.6 L686.4,389.1 L684.1,390.4 L681.9,392 L679.6,393.8 L676.9,394.7 L674,394.2 L671.4,393.2 L668.8,392.6 L666.1,392.1 L663.6,391.1 L661.3,389.5 L659.2,387.8 L657.4,385.7 L656.3,383.2 L655.8,380.5 L654.8,378.1 L653.3,375.7 L652.3,373 L652.8,370.2 L653.9,367.6 L655,365.1 L656.1,362.6 L657.5,360.3 L659.3,358.2 L661.1,356.1 L663.3,354.3 L666,353.6 L668.9,353.7 L671.5,353.5 L674,352.6 L676.8,352 L679.5,352.4 L682,353.7 L684.4,355 L686.6,356.5 L688.6,358.4 L690.4,360.4 L692.4,362.4 L694.2,364.6 L695,367.4 L694.5,370.3Z" fill="#f5b1a1"/><circle cx="653.8" cy="377.3" r="1.3" fill="#ec9483"/><circle cx="666.3" cy="354.8" r="1.4" fill="#ec9483"/><circle cx="681.1" cy="388.3" r="1.1" fill="#ec9483"/><circle cx="656.2" cy="388.9" r="1.3" fill="#ec9483"/><circle cx="656.6" cy="378.3" r="1" fill="#ec9483"/><circle cx="655.8" cy="362.1" r="0.9" fill="#ec9483"/><circle cx="657.1" cy="379.9" r="1.3" fill="#ec9483"/><circle cx="672.6" cy="389.3" r="1.3" fill="#ec9483"/><circle cx="673" cy="375" r="11" fill="#cf5742"/><circle cx="672.3" cy="373.9" r="9.9" fill="#e2705c"/>
<path d="M516.1,254 L516,258.7 L514.3,263.2 L511.4,267 L510.4,271.6 L509.8,276.9 L506.1,280.1 L501.1,281.5 L497.7,284.6 L494.3,288.6 L489.7,290.2 L484.8,290.1 L480,289.8 L475.4,289 L470.7,288.7 L465.7,288.4 L461.9,285.3 L459.5,280.8 L455.6,278.4 L450.6,276.6 L448.2,272.3 L447.7,267.4 L446.1,263.1 L444,258.7 L443.1,254 L443,249.1 L444.7,244.5 L447.7,240.6 L449,236.1 L449.9,230.9 L453.9,227.9 L459.2,226.9 L462.7,224.1 L466.1,220.4 L470.6,218.9 L475.4,218.8 L480,218.9 L484.6,219.3 L489.3,219.2 L494.4,219.1 L498.5,222 L501.2,226.4 L505.2,228.8 L510.2,230.8 L512.4,235.3 L512.6,240.5 L513.9,244.9 L515.5,249.3Z" fill="#dcc7e6" stroke="#cdb3da" stroke-width="0.8"/><circle cx="505" cy="252.2" r="1.1" fill="#b08bc2"/><circle cx="500.4" cy="271.8" r="2.2" fill="#b08bc2"/><circle cx="492.1" cy="271" r="1.1" fill="#b08bc2"/><circle cx="482.3" cy="273" r="1.8" fill="#b08bc2"/><circle cx="467.8" cy="278.1" r="1.9" fill="#b08bc2"/><circle cx="462.9" cy="265.3" r="1.5" fill="#b08bc2"/><circle cx="455.1" cy="258.7" r="1.3" fill="#b08bc2"/><circle cx="454.3" cy="243.6" r="1.6" fill="#b08bc2"/><circle cx="470.3" cy="227.1" r="1.8" fill="#b08bc2"/><circle cx="478" cy="233.7" r="1.3" fill="#b08bc2"/><circle cx="493.9" cy="234.5" r="1.4" fill="#b08bc2"/><circle cx="496.9" cy="239.3" r="1.5" fill="#b08bc2"/><circle cx="480" cy="254" r="14" fill="#9266a6"/><circle cx="479.2" cy="252.9" r="12.6" fill="#a47bb8"/>
<path d="M441.1,253 L441.5,254.8 L440.8,256.4 L440,258 L439.2,259.5 L438.3,260.9 L437.5,262.5 L436.2,263.7 L434.3,264 L432.7,264.3 L431.4,265.6 L429.8,266.4 L428,265.7 L426.4,265.2 L424.7,265.3 L423,265.2 L421.4,264.5 L419.9,263.5 L418.9,262.1 L417.9,260.8 L416.3,259.7 L415.2,258.3 L415.5,256.3 L415.7,254.6 L415,253 L414.7,251.3 L415.5,249.6 L416.4,248.2 L417.1,246.7 L417.9,245.3 L418.7,243.7 L419.8,242.4 L421.6,242 L423.2,241.5 L424.5,240.1 L426.2,239.3 L428,239.9 L429.7,240.4 L431.4,240.4 L433.1,240.8 L434.6,241.6 L435.9,242.7 L436.9,244.1 L437.8,245.5 L439.3,246.5 L440.4,247.8 L440.3,249.7 L440.2,251.4Z" fill="#dcc7e6" stroke="#cdb3da" stroke-width="0.8"/><circle cx="437.1" cy="251.4" r="0.8" fill="#b08bc2"/><circle cx="436.1" cy="257" r="0.5" fill="#b08bc2"/><circle cx="431.9" cy="261.6" r="0.6" fill="#b08bc2"/><circle cx="426.2" cy="262.3" r="0.5" fill="#b08bc2"/><circle cx="423.7" cy="261.3" r="0.7" fill="#b08bc2"/><circle cx="420.1" cy="258.8" r="0.6" fill="#b08bc2"/><circle cx="420.3" cy="252.2" r="0.5" fill="#b08bc2"/><circle cx="419.8" cy="250.2" r="0.5" fill="#b08bc2"/><circle cx="423.5" cy="246.3" r="0.7" fill="#b08bc2"/><circle cx="428.5" cy="244.5" r="0.6" fill="#b08bc2"/><circle cx="432" cy="243.6" r="0.7" fill="#b08bc2"/><circle cx="434.9" cy="249.3" r="0.8" fill="#b08bc2"/><circle cx="428" cy="253" r="5.5" fill="#9266a6"/><circle cx="427.7" cy="252.6" r="5" fill="#a47bb8"/>
<circle cx="439.5" cy="302.5" r="13" fill="#bdd4f0" stroke="#9dbbe3" stroke-width="1"/><circle cx="437.5" cy="302.5" r="8" fill="#4f6fb3"/><circle cx="437.1" cy="301.9" r="7.4" fill="#5d80c3"/>
<circle cx="471" cy="356" r="30" fill="#f8c6d0" stroke="#f0b0bf" stroke-width="1"/><circle cx="471" cy="356" r="18" fill="#c9566f"/><circle cx="470.1" cy="354.6" r="16.6" fill="#d96f86"/>
<path d="M710.9,312 L713.1,316.8 L711.8,321.3 L708.7,325.1 L706.9,329.3 L705.2,333.7 L702.5,337.5 L699.1,340.8 L694.6,342.5 L689.9,343.1 L685.9,345.4 L681.8,348.2 L677,347.4 L672.7,344.7 L668.3,344.4 L663.4,344.8 L659.2,342.8 L655.8,339.6 L652.6,336.4 L649.7,333 L646.3,329.7 L642.8,326.2 L642.3,321.3 L643.6,316.4 L642.4,312 L640.6,307.2 L642.3,302.7 L645.8,299.1 L647.8,295.1 L649.6,290.9 L652.3,287.3 L655.5,284 L659.7,282 L664.2,281.2 L668,278.5 L672.2,275.3 L677,275.8 L681.4,278.3 L686,278.6 L690.9,278.4 L695.1,280.7 L698.3,284.2 L701.3,287.7 L703.9,291.3 L707,294.7 L710.2,298.2 L710.7,303 L709.5,307.7Z" fill="#dcc7e6" stroke="#cdb3da" stroke-width="0.8"/><circle cx="700.4" cy="309.9" r="1.6" fill="#b08bc2"/><circle cx="698.2" cy="323.8" r="1.6" fill="#b08bc2"/><circle cx="687.2" cy="330" r="1.2" fill="#b08bc2"/><circle cx="679.5" cy="337.9" r="1.1" fill="#b08bc2"/><circle cx="666.8" cy="332.3" r="1.6" fill="#b08bc2"/><circle cx="654.3" cy="326" r="2" fill="#b08bc2"/><circle cx="656.3" cy="311.4" r="2" fill="#b08bc2"/><circle cx="658.8" cy="297.7" r="1.9" fill="#b08bc2"/><circle cx="667" cy="286.3" r="1.3" fill="#b08bc2"/><circle cx="674" cy="286" r="1.3" fill="#b08bc2"/><circle cx="685.1" cy="294.4" r="1.9" fill="#b08bc2"/><circle cx="693.5" cy="300" r="1.7" fill="#b08bc2"/><circle cx="677" cy="312" r="14" fill="#9266a6"/><circle cx="676.2" cy="310.9" r="12.6" fill="#a47bb8"/>
<path d="M656.1,412 L657.1,415.3 L657.3,418.8 L655.7,421.8 L653.6,424.5 L651.5,426.9 L649.3,429.3 L647.4,432 L644.8,434.2 L641.3,434.4 L638,434.5 L635.2,436.7 L632,438.1 L628.7,436.9 L625.7,435.4 L622.5,435 L619.2,434.2 L616.3,432.5 L613.8,430.2 L612.3,427.1 L611.1,424.1 L608.6,421.7 L606.7,418.8 L607.6,415.2 L608.6,412 L607.7,408.8 L607.4,405.4 L608.9,402.4 L610.7,399.7 L612.5,397.1 L614.5,394.5 L616.3,391.6 L618.8,389.2 L622.4,388.9 L625.8,388.8 L628.7,386.8 L632,385.6 L635.3,387.1 L638.2,388.8 L641.3,389.4 L644.4,390.4 L647.3,392.1 L649.7,394.3 L651.2,397.2 L652.6,400.1 L655.4,402.3 L657.5,405.2 L656.9,408.7Z" fill="#dcc7e6" stroke="#cdb3da" stroke-width="0.8"/><circle cx="648.7" cy="414.4" r="0.8" fill="#b08bc2"/><circle cx="646.4" cy="417.6" r="1.4" fill="#b08bc2"/><circle cx="637.4" cy="426.8" r="1.1" fill="#b08bc2"/><circle cx="632.3" cy="431.5" r="1.1" fill="#b08bc2"/><circle cx="624.7" cy="427.1" r="0.8" fill="#b08bc2"/><circle cx="619.6" cy="419.1" r="1.4" fill="#b08bc2"/><circle cx="612.3" cy="412.5" r="1.1" fill="#b08bc2"/><circle cx="613.9" cy="403.7" r="1.4" fill="#b08bc2"/><circle cx="618.8" cy="397.1" r="1.4" fill="#b08bc2"/><circle cx="634.9" cy="395.1" r="1.3" fill="#b08bc2"/><circle cx="641" cy="399.2" r="0.8" fill="#b08bc2"/><circle cx="649.8" cy="403.5" r="0.8" fill="#b08bc2"/><circle cx="632" cy="412" r="10" fill="#9266a6"/><circle cx="631.4" cy="411.2" r="9" fill="#a47bb8"/>
<circle cx="618" cy="313" r="28" fill="#f8c6d0" stroke="#f0b0bf" stroke-width="1"/><circle cx="620" cy="312" r="18" fill="#c9566f"/><circle cx="619.1" cy="310.6" r="16.6" fill="#d96f86"/>
<circle cx="676" cy="215" r="28" fill="#f8c6d0" stroke="#f0b0bf" stroke-width="1"/><circle cx="669" cy="216" r="17" fill="#c9566f"/><circle cx="668.1" cy="214.6" r="15.6" fill="#d96f86"/>
<circle cx="592.5" cy="257" r="37.5" fill="#bdd4f0" stroke="#9dbbe3" stroke-width="1"/><circle cx="592.5" cy="260" r="23" fill="#4f6fb3"/><circle cx="591.4" cy="258.2" r="21.2" fill="#5d80c3"/>
<line x1="637.5" y1="146" x2="637.5" y2="224" stroke="#4a505a" stroke-width="1.3"/>
<g transform="translate(637.5 147) scale(1)" stroke="#6f7782" stroke-width="0.7"><rect x="-2" y="-9" width="4" height="10" fill="#9aa3ad"/><rect x="-11.8" y="-87" width="27" height="80" rx="3" fill="#eef2f1" transform="translate(-1.7 0)"/><rect x="-12.7" y="-64" width="25.4" height="56" rx="3" fill="#c9ddd5" stroke="none"/><rect x="-6.5" y="-87" width="13" height="16" fill="#a9b1bb" stroke="none"/><rect x="-12.7" y="-74" width="25.4" height="10" fill="#7e8792" stroke="none"/><ellipse cx="1" cy="-93" rx="22" ry="6.5" fill="#b9c0c8"/><ellipse cx="1" cy="-95.5" rx="22" ry="6" fill="#d3d8de"/><rect x="-6" y="-127" width="15" height="33" fill="#8e98a4"/><rect x="0" y="-127" width="3" height="33" fill="#aab2bc" stroke="none"/><ellipse cx="1.5" cy="-129" rx="16" ry="5" fill="#b9c0c8"/><ellipse cx="1.5" cy="-131" rx="16" ry="5" fill="#d3d8de"/></g>
<g stroke="#3d4a4a" stroke-width="0.8" fill="none"><path d="M639,90 Q646,89 652,87.5"/><path d="M639,95 Q646,94 652,92.5"/><path d="M639,100 Q646,99 652,97.5"/><path d="M639,105 Q646,104 652,102.5"/><path d="M639,110 Q646,109 652,107.5"/><path d="M639,115 Q646,114 652,112.5"/><path d="M639,120 Q646,119 652,117.5"/><path d="M639,125 Q646,124 652,122.5"/></g>
<path d="M657.3,239.2 Q662.7,237.8 667.6,241.9" stroke="#b86a8a" stroke-width="0.7" fill="none"/><path d="M656,244.9 Q661.5,245 665.2,250.2" stroke="#b86a8a" stroke-width="0.7" fill="none"/><path d="M653.2,250.1 Q658.6,251.6 660.8,257.6" stroke="#b86a8a" stroke-width="0.7" fill="none"/><path d="M649.2,254.4 Q654,257.2 654.6,263.6" stroke="#b86a8a" stroke-width="0.7" fill="none"/><path d="M644.2,257.5 Q648.1,261.4 647,267.7" stroke="#b86a8a" stroke-width="0.7" fill="none"/><path d="M638.6,259.1 Q641.4,264 638.7,269.8" stroke="#b86a8a" stroke-width="0.7" fill="none"/><path d="M632.8,259.3 Q634.2,264.7 630.1,269.6" stroke="#b86a8a" stroke-width="0.7" fill="none"/><path d="M627.1,258 Q627,263.5 621.8,267.2" stroke="#b86a8a" stroke-width="0.7" fill="none"/><path d="M621.9,255.2 Q620.4,260.6 614.4,262.8" stroke="#b86a8a" stroke-width="0.7" fill="none"/><path d="M617.6,251.2 Q614.8,256 608.4,256.6" stroke="#b86a8a" stroke-width="0.7" fill="none"/><path d="M614.5,246.2 Q610.6,250.1 604.3,249" stroke="#b86a8a" stroke-width="0.7" fill="none"/><path d="M612.9,240.6 Q608,243.4 602.2,240.7" stroke="#b86a8a" stroke-width="0.7" fill="none"/><path d="M612.7,234.8 Q607.3,236.2 602.4,232.1" stroke="#b86a8a" stroke-width="0.7" fill="none"/><path d="M614,229.1 Q608.5,229 604.8,223.8" stroke="#b86a8a" stroke-width="0.7" fill="none"/><path d="M616.8,223.9 Q611.4,222.4 609.2,216.4" stroke="#b86a8a" stroke-width="0.7" fill="none"/><path d="M620.8,219.6 Q616,216.8 615.4,210.4" stroke="#b86a8a" stroke-width="0.7" fill="none"/><path d="M625.8,216.5 Q621.9,212.6 623,206.3" stroke="#b86a8a" stroke-width="0.7" fill="none"/><path d="M631.4,214.9 Q628.6,210 631.3,204.2" stroke="#b86a8a" stroke-width="0.7" fill="none"/><path d="M637.2,214.7 Q635.8,209.3 639.9,204.4" stroke="#b86a8a" stroke-width="0.7" fill="none"/><path d="M642.9,216 Q643,210.5 648.2,206.8" stroke="#b86a8a" stroke-width="0.7" fill="none"/><path d="M648.1,218.8 Q649.6,213.4 655.6,211.2" stroke="#b86a8a" stroke-width="0.7" fill="none"/><path d="M652.4,222.8 Q655.2,218 661.6,217.4" stroke="#b86a8a" stroke-width="0.7" fill="none"/><path d="M655.5,227.8 Q659.4,223.9 665.7,225" stroke="#b86a8a" stroke-width="0.7" fill="none"/><path d="M657.1,233.4 Q662,230.6 667.8,233.3" stroke="#b86a8a" stroke-width="0.7" fill="none"/><circle cx="635" cy="237" r="22.4" fill="#e3a9c0"/><circle cx="656.6" cy="237" r="2.3" fill="#ebb6cb" stroke="#cf8eaa" stroke-width="0.4"/><circle cx="656" cy="241.8" r="2.3" fill="#ebb6cb" stroke="#cf8eaa" stroke-width="0.4"/><circle cx="654.4" cy="246.4" r="2.3" fill="#ebb6cb" stroke="#cf8eaa" stroke-width="0.4"/><circle cx="651.9" cy="250.4" r="2.3" fill="#ebb6cb" stroke="#cf8eaa" stroke-width="0.4"/><circle cx="648.4" cy="253.9" r="2.3" fill="#ebb6cb" stroke="#cf8eaa" stroke-width="0.4"/><circle cx="644.4" cy="256.4" r="2.3" fill="#ebb6cb" stroke="#cf8eaa" stroke-width="0.4"/><circle cx="639.8" cy="258" r="2.3" fill="#ebb6cb" stroke="#cf8eaa" stroke-width="0.4"/><circle cx="635" cy="258.6" r="2.3" fill="#ebb6cb" stroke="#cf8eaa" stroke-width="0.4"/><circle cx="630.2" cy="258" r="2.3" fill="#ebb6cb" stroke="#cf8eaa" stroke-width="0.4"/><circle cx="625.6" cy="256.4" r="2.3" fill="#ebb6cb" stroke="#cf8eaa" stroke-width="0.4"/><circle cx="621.6" cy="253.9" r="2.3" fill="#ebb6cb" stroke="#cf8eaa" stroke-width="0.4"/><circle cx="618.1" cy="250.4" r="2.3" fill="#ebb6cb" stroke="#cf8eaa" stroke-width="0.4"/><circle cx="615.6" cy="246.4" r="2.3" fill="#ebb6cb" stroke="#cf8eaa" stroke-width="0.4"/><circle cx="614" cy="241.8" r="2.3" fill="#ebb6cb" stroke="#cf8eaa" stroke-width="0.4"/><circle cx="613.4" cy="237" r="2.3" fill="#ebb6cb" stroke="#cf8eaa" stroke-width="0.4"/><circle cx="614" cy="232.2" r="2.3" fill="#ebb6cb" stroke="#cf8eaa" stroke-width="0.4"/><circle cx="615.6" cy="227.6" r="2.3" fill="#ebb6cb" stroke="#cf8eaa" stroke-width="0.4"/><circle cx="618.1" cy="223.6" r="2.3" fill="#ebb6cb" stroke="#cf8eaa" stroke-width="0.4"/><circle cx="621.6" cy="220.1" r="2.3" fill="#ebb6cb" stroke="#cf8eaa" stroke-width="0.4"/><circle cx="625.6" cy="217.6" r="2.3" fill="#ebb6cb" stroke="#cf8eaa" stroke-width="0.4"/><circle cx="630.2" cy="216" r="2.3" fill="#ebb6cb" stroke="#cf8eaa" stroke-width="0.4"/><circle cx="635" cy="215.4" r="2.3" fill="#ebb6cb" stroke="#cf8eaa" stroke-width="0.4"/><circle cx="639.8" cy="216" r="2.3" fill="#ebb6cb" stroke="#cf8eaa" stroke-width="0.4"/><circle cx="644.4" cy="217.6" r="2.3" fill="#ebb6cb" stroke="#cf8eaa" stroke-width="0.4"/><circle cx="648.4" cy="220.1" r="2.3" fill="#ebb6cb" stroke="#cf8eaa" stroke-width="0.4"/><circle cx="651.9" cy="223.6" r="2.3" fill="#ebb6cb" stroke="#cf8eaa" stroke-width="0.4"/><circle cx="654.4" cy="227.6" r="2.3" fill="#ebb6cb" stroke="#cf8eaa" stroke-width="0.4"/><circle cx="656" cy="232.2" r="2.3" fill="#ebb6cb" stroke="#cf8eaa" stroke-width="0.4"/><circle cx="635" cy="237" r="19.1" fill="#bd6b8e"/><path d="M641.6,237 L653.7,237 M641.2,239.3 L652.6,243.4 M640.1,241.2 L649.3,249 M638.3,242.7 L644.4,253.2 M636.1,243.5 L638.2,255.4 M633.9,243.5 L631.8,255.4 M631.7,242.7 L625.6,253.2 M629.9,241.2 L620.7,249 M628.8,239.3 L617.4,243.4 M628.4,237 L616.3,237 M628.8,234.7 L617.4,230.6 M629.9,232.8 L620.7,225 M631.7,231.3 L625.6,220.8 M633.9,230.5 L631.8,218.6 M636.1,230.5 L638.2,218.6 M638.3,231.3 L644.4,220.8 M640.1,232.8 L649.3,225 M641.2,234.7 L652.6,230.6 " stroke="#ad5f82" stroke-width="0.7" fill="none"/><circle cx="635" cy="238.1" r="2.9" fill="#d4507f"/><circle cx="627.7" cy="233" r="2.9" fill="#d4507f"/><circle cx="642.3" cy="233" r="2.9" fill="#d4507f"/><circle cx="627.7" cy="243.6" r="2.9" fill="#d4507f"/><circle cx="642.3" cy="243.6" r="2.9" fill="#d4507f"/><circle cx="634.6" cy="228.2" r="2.9" fill="#d4507f"/><circle cx="635" cy="247.6" r="2.9" fill="#d4507f"/>
<g stroke="#555" stroke-width="0.6" fill="none"><line x1="592" y1="348" x2="468" y2="569"/><line x1="673" y1="358" x2="846" y2="546"/></g>
<path d="M73,187.4 L62.4,184.6 Q57.9,181.8 52.7,182" fill="none" stroke="#9dbbe3" stroke-width="3.5" stroke-linecap="round" stroke-linejoin="round"/><path d="M73,187.4 L60.9,184.2" fill="none" stroke="#9dbbe3" stroke-width="6.6" stroke-linecap="round"/><path d="M73,187.4 L62.4,190.2 Q58.9,192.7 54.6,192.3" fill="none" stroke="#9dbbe3" stroke-width="3.5" stroke-linecap="round" stroke-linejoin="round"/><path d="M73,187.4 L60.9,190.6" fill="none" stroke="#9dbbe3" stroke-width="6.6" stroke-linecap="round"/><path d="M73,187.4 L70.2,198 Q68,202.1 67.8,206.7" fill="none" stroke="#9dbbe3" stroke-width="3.5" stroke-linecap="round" stroke-linejoin="round"/><path d="M73,187.4 L69.8,199.5" fill="none" stroke="#9dbbe3" stroke-width="6.6" stroke-linecap="round"/><path d="M73,187.4 L74.9,198.2 Q76.7,202.5 76.5,207.1" fill="none" stroke="#9dbbe3" stroke-width="3.5" stroke-linecap="round" stroke-linejoin="round"/><path d="M73,187.4 L75.2,199.7" fill="none" stroke="#9dbbe3" stroke-width="6.6" stroke-linecap="round"/><path d="M73,187.4 L67.5,177.9 Q66.6,174.3 64,171.8" fill="none" stroke="#9dbbe3" stroke-width="3.5" stroke-linecap="round" stroke-linejoin="round"/><path d="M73,187.4 L66.8,176.6" fill="none" stroke="#9dbbe3" stroke-width="6.6" stroke-linecap="round"/><path d="M73,187.4 L64,181.1 Q60.3,178.5 56.6,175.9" fill="none" stroke="#9dbbe3" stroke-width="3.5" stroke-linecap="round" stroke-linejoin="round"/><path d="M73,187.4 L62.8,180.2" fill="none" stroke="#9dbbe3" stroke-width="6.6" stroke-linecap="round"/><path d="M73,187.4 L65.2,195.2 Q61.7,197.3 59.6,200.8" fill="none" stroke="#9dbbe3" stroke-width="3.5" stroke-linecap="round" stroke-linejoin="round"/><path d="M73,187.4 L64.2,196.2" fill="none" stroke="#9dbbe3" stroke-width="6.6" stroke-linecap="round"/><circle cx="73" cy="187.4" r="10.5" fill="#9dbbe3"/><path d="M73,187.4 L62.4,184.6 Q57.9,181.8 52.7,182" fill="none" stroke="#b9d2ec" stroke-width="2.6" stroke-linecap="round" stroke-linejoin="round"/><path d="M73,187.4 L60.9,184.2" fill="none" stroke="#b9d2ec" stroke-width="5.7" stroke-linecap="round"/><path d="M73,187.4 L62.4,190.2 Q58.9,192.7 54.6,192.3" fill="none" stroke="#b9d2ec" stroke-width="2.6" stroke-linecap="round" stroke-linejoin="round"/><path d="M73,187.4 L60.9,190.6" fill="none" stroke="#b9d2ec" stroke-width="5.7" stroke-linecap="round"/><path d="M73,187.4 L70.2,198 Q68,202.1 67.8,206.7" fill="none" stroke="#b9d2ec" stroke-width="2.6" stroke-linecap="round" stroke-linejoin="round"/><path d="M73,187.4 L69.8,199.5" fill="none" stroke="#b9d2ec" stroke-width="5.7" stroke-linecap="round"/><path d="M73,187.4 L74.9,198.2 Q76.7,202.5 76.5,207.1" fill="none" stroke="#b9d2ec" stroke-width="2.6" stroke-linecap="round" stroke-linejoin="round"/><path d="M73,187.4 L75.2,199.7" fill="none" stroke="#b9d2ec" stroke-width="5.7" stroke-linecap="round"/><path d="M73,187.4 L67.5,177.9 Q66.6,174.3 64,171.8" fill="none" stroke="#b9d2ec" stroke-width="2.6" stroke-linecap="round" stroke-linejoin="round"/><path d="M73,187.4 L66.8,176.6" fill="none" stroke="#b9d2ec" stroke-width="5.7" stroke-linecap="round"/><path d="M73,187.4 L64,181.1 Q60.3,178.5 56.6,175.9" fill="none" stroke="#b9d2ec" stroke-width="2.6" stroke-linecap="round" stroke-linejoin="round"/><path d="M73,187.4 L62.8,180.2" fill="none" stroke="#b9d2ec" stroke-width="5.7" stroke-linecap="round"/><path d="M73,187.4 L65.2,195.2 Q61.7,197.3 59.6,200.8" fill="none" stroke="#b9d2ec" stroke-width="2.6" stroke-linecap="round" stroke-linejoin="round"/><path d="M73,187.4 L64.2,196.2" fill="none" stroke="#b9d2ec" stroke-width="5.7" stroke-linecap="round"/><circle cx="73" cy="187.4" r="10" fill="#b9d2ec"/><circle cx="74.5" cy="188.4" r="6.2" fill="#4a6aae"/><circle cx="74.2" cy="187.9" r="5.6" fill="#5b7ec2"/>
<circle cx="106.3" cy="196.2" r="21" fill="#bdd4f0" stroke="#9dbbe3" stroke-width="1"/><circle cx="97.5" cy="193" r="6.9" fill="#5b7ec2"/><circle cx="113" cy="199.6" r="6.9" fill="#5b7ec2"/><circle cx="104.2" cy="196.2" r="3.8" fill="#5b7ec2"/>
<circle cx="116.3" cy="156.4" r="21" fill="#bdd4f0" stroke="#9dbbe3" stroke-width="1"/><circle cx="107.5" cy="153" r="6.9" fill="#5b7ec2"/><circle cx="124.1" cy="162.9" r="6.9" fill="#5b7ec2"/><circle cx="116.3" cy="158.5" r="3.8" fill="#5b7ec2"/>
<path d="M104.6,167.8 Q107.9,166.9 110.9,169.4" stroke="#b86a8a" stroke-width="0.7" fill="none"/><path d="M103.8,171.3 Q107.2,171.3 109.5,174.5" stroke="#b86a8a" stroke-width="0.7" fill="none"/><path d="M102.1,174.4 Q105.4,175.3 106.7,179" stroke="#b86a8a" stroke-width="0.7" fill="none"/><path d="M99.6,177.1 Q102.6,178.8 102.9,182.7" stroke="#b86a8a" stroke-width="0.7" fill="none"/><path d="M96.6,179 Q99,181.4 98.3,185.3" stroke="#b86a8a" stroke-width="0.7" fill="none"/><path d="M93.1,180 Q94.8,183 93.2,186.5" stroke="#b86a8a" stroke-width="0.7" fill="none"/><path d="M89.5,180.1 Q90.4,183.4 87.9,186.4" stroke="#b86a8a" stroke-width="0.7" fill="none"/><path d="M86,179.3 Q86,182.7 82.8,185" stroke="#b86a8a" stroke-width="0.7" fill="none"/><path d="M82.9,177.6 Q82,180.9 78.3,182.2" stroke="#b86a8a" stroke-width="0.7" fill="none"/><path d="M80.2,175.1 Q78.5,178.1 74.6,178.4" stroke="#b86a8a" stroke-width="0.7" fill="none"/><path d="M78.3,172.1 Q75.9,174.5 72,173.8" stroke="#b86a8a" stroke-width="0.7" fill="none"/><path d="M77.3,168.6 Q74.3,170.3 70.8,168.7" stroke="#b86a8a" stroke-width="0.7" fill="none"/><path d="M77.2,165 Q73.9,165.9 70.9,163.4" stroke="#b86a8a" stroke-width="0.7" fill="none"/><path d="M78,161.5 Q74.6,161.5 72.3,158.3" stroke="#b86a8a" stroke-width="0.7" fill="none"/><path d="M79.7,158.4 Q76.4,157.5 75.1,153.8" stroke="#b86a8a" stroke-width="0.7" fill="none"/><path d="M82.2,155.7 Q79.2,154 78.9,150.1" stroke="#b86a8a" stroke-width="0.7" fill="none"/><path d="M85.2,153.8 Q82.8,151.4 83.5,147.5" stroke="#b86a8a" stroke-width="0.7" fill="none"/><path d="M88.7,152.8 Q87,149.8 88.6,146.3" stroke="#b86a8a" stroke-width="0.7" fill="none"/><path d="M92.3,152.7 Q91.4,149.4 93.9,146.4" stroke="#b86a8a" stroke-width="0.7" fill="none"/><path d="M95.8,153.5 Q95.8,150.1 99,147.8" stroke="#b86a8a" stroke-width="0.7" fill="none"/><path d="M98.9,155.2 Q99.8,151.9 103.5,150.6" stroke="#b86a8a" stroke-width="0.7" fill="none"/><path d="M101.6,157.7 Q103.3,154.7 107.2,154.4" stroke="#b86a8a" stroke-width="0.7" fill="none"/><path d="M103.5,160.7 Q105.9,158.3 109.8,159" stroke="#b86a8a" stroke-width="0.7" fill="none"/><path d="M104.5,164.2 Q107.5,162.5 111,164.1" stroke="#b86a8a" stroke-width="0.7" fill="none"/><circle cx="90.9" cy="166.4" r="13.8" fill="#e3a9c0"/><circle cx="104.1" cy="166.4" r="1.4" fill="#ebb6cb" stroke="#cf8eaa" stroke-width="0.4"/><circle cx="103.8" cy="169.3" r="1.4" fill="#ebb6cb" stroke="#cf8eaa" stroke-width="0.4"/><circle cx="102.8" cy="172.1" r="1.4" fill="#ebb6cb" stroke="#cf8eaa" stroke-width="0.4"/><circle cx="101.2" cy="174.6" r="1.4" fill="#ebb6cb" stroke="#cf8eaa" stroke-width="0.4"/><circle cx="99.1" cy="176.7" r="1.4" fill="#ebb6cb" stroke="#cf8eaa" stroke-width="0.4"/><circle cx="96.6" cy="178.3" r="1.4" fill="#ebb6cb" stroke="#cf8eaa" stroke-width="0.4"/><circle cx="93.8" cy="179.3" r="1.4" fill="#ebb6cb" stroke="#cf8eaa" stroke-width="0.4"/><circle cx="90.9" cy="179.6" r="1.4" fill="#ebb6cb" stroke="#cf8eaa" stroke-width="0.4"/><circle cx="88" cy="179.3" r="1.4" fill="#ebb6cb" stroke="#cf8eaa" stroke-width="0.4"/><circle cx="85.2" cy="178.3" r="1.4" fill="#ebb6cb" stroke="#cf8eaa" stroke-width="0.4"/><circle cx="82.7" cy="176.7" r="1.4" fill="#ebb6cb" stroke="#cf8eaa" stroke-width="0.4"/><circle cx="80.6" cy="174.6" r="1.4" fill="#ebb6cb" stroke="#cf8eaa" stroke-width="0.4"/><circle cx="79" cy="172.1" r="1.4" fill="#ebb6cb" stroke="#cf8eaa" stroke-width="0.4"/><circle cx="78" cy="169.3" r="1.4" fill="#ebb6cb" stroke="#cf8eaa" stroke-width="0.4"/><circle cx="77.7" cy="166.4" r="1.4" fill="#ebb6cb" stroke="#cf8eaa" stroke-width="0.4"/><circle cx="78" cy="163.5" r="1.4" fill="#ebb6cb" stroke="#cf8eaa" stroke-width="0.4"/><circle cx="79" cy="160.7" r="1.4" fill="#ebb6cb" stroke="#cf8eaa" stroke-width="0.4"/><circle cx="80.6" cy="158.2" r="1.4" fill="#ebb6cb" stroke="#cf8eaa" stroke-width="0.4"/><circle cx="82.7" cy="156.1" r="1.4" fill="#ebb6cb" stroke="#cf8eaa" stroke-width="0.4"/><circle cx="85.2" cy="154.5" r="1.4" fill="#ebb6cb" stroke="#cf8eaa" stroke-width="0.4"/><circle cx="88" cy="153.5" r="1.4" fill="#ebb6cb" stroke="#cf8eaa" stroke-width="0.4"/><circle cx="90.9" cy="153.2" r="1.4" fill="#ebb6cb" stroke="#cf8eaa" stroke-width="0.4"/><circle cx="93.8" cy="153.5" r="1.4" fill="#ebb6cb" stroke="#cf8eaa" stroke-width="0.4"/><circle cx="96.6" cy="154.5" r="1.4" fill="#ebb6cb" stroke="#cf8eaa" stroke-width="0.4"/><circle cx="99.1" cy="156.1" r="1.4" fill="#ebb6cb" stroke="#cf8eaa" stroke-width="0.4"/><circle cx="101.2" cy="158.2" r="1.4" fill="#ebb6cb" stroke="#cf8eaa" stroke-width="0.4"/><circle cx="102.8" cy="160.7" r="1.4" fill="#ebb6cb" stroke="#cf8eaa" stroke-width="0.4"/><circle cx="103.8" cy="163.5" r="1.4" fill="#ebb6cb" stroke="#cf8eaa" stroke-width="0.4"/><circle cx="90.9" cy="166.4" r="11.7" fill="#bd6b8e"/><path d="M95,166.4 L102.4,166.4 M94.7,167.8 L101.7,170.3 M94,169 L99.7,173.8 M92.9,169.9 L96.6,176.3 M91.6,170.4 L92.9,177.7 M90.2,170.4 L88.9,177.7 M88.9,169.9 L85.2,176.3 M87.8,169 L82.1,173.8 M87.1,167.8 L80.1,170.3 M86.9,166.4 L79.4,166.4 M87.1,165 L80.1,162.5 M87.8,163.8 L82.1,159 M88.9,162.9 L85.2,156.5 M90.2,162.4 L88.9,155.1 M91.6,162.4 L92.9,155.1 M92.9,162.9 L96.6,156.5 M94,163.8 L99.7,159 M94.7,165 L101.7,162.5 " stroke="#ad5f82" stroke-width="0.4" fill="none"/><circle cx="90.9" cy="167.1" r="1.8" fill="#d4507f"/><circle cx="86.4" cy="164" r="1.8" fill="#d4507f"/><circle cx="95.4" cy="164" r="1.8" fill="#d4507f"/><circle cx="86.4" cy="170.5" r="1.8" fill="#d4507f"/><circle cx="95.4" cy="170.5" r="1.8" fill="#d4507f"/><circle cx="90.6" cy="161" r="1.8" fill="#d4507f"/><circle cx="90.9" cy="172.9" r="1.8" fill="#d4507f"/>
<circle cx="152.8" cy="130" r="3.4" fill="#f9d66a"/>
<circle cx="144" cy="137.6" r="2" fill="#f9d66a"/>
<circle cx="161.6" cy="143" r="3.2" fill="#f9d66a"/>
<circle cx="175" cy="140" r="3.8" fill="#f9d66a"/>
<circle cx="190" cy="126.6" r="3.8" fill="#f9d66a"/>
<circle cx="200" cy="133" r="3" fill="#f9d66a"/>
<circle cx="187" cy="143" r="1.8" fill="#f9d66a"/>
<circle cx="192.6" cy="197.3" r="25.4" fill="#d5ebdd" stroke="#b9dcc6" stroke-width="1"/><circle cx="200.8" cy="205.6" r="0.9" fill="#9cc4ab"/><circle cx="205.7" cy="209.8" r="0.9" fill="#9cc4ab"/><circle cx="197.8" cy="215.5" r="0.9" fill="#9cc4ab"/><circle cx="185.2" cy="203.5" r="0.9" fill="#9cc4ab"/><circle cx="191.4" cy="212.9" r="0.9" fill="#9cc4ab"/><circle cx="203" cy="205.8" r="0.9" fill="#9cc4ab"/><circle cx="201.9" cy="212.7" r="0.9" fill="#9cc4ab"/><circle cx="188.4" cy="215.2" r="0.9" fill="#9cc4ab"/><circle cx="195.9" cy="209.3" r="0.9" fill="#9cc4ab"/><circle cx="184.8" cy="207" r="0.9" fill="#9cc4ab"/><circle cx="193.6" cy="187.3" r="11" fill="#4f8a6c"/><circle cx="193" cy="186.4" r="9.9" fill="#63997c"/>
<path d="M160,178 L172,187 M164,174 L175,183" stroke="#bfe3cc" stroke-width="2.2"/><circle cx="163.5" cy="174.5" r="3.3" fill="#f9d66a"/>
<circle cx="243.4" cy="183" r="24" fill="#bdd4f0" stroke="#9dbbe3" stroke-width="1"/><circle cx="242.4" cy="184" r="15.5" fill="#4f6fb3"/><circle cx="241.6" cy="182.8" r="14.3" fill="#5d80c3"/>
<path d="M232,165 L218,150 M236,162 L224,148" stroke="#bfe3cc" stroke-width="2.4"/><path d="M209,150 Q214,143 222,146 Q226,141 230,143" stroke="#bfe3cc" stroke-width="3" fill="none"/>
<circle cx="215" cy="147" r="4.6" fill="#f9d66a"/>
<path d="M290.8,218.3 L290.2,221.8 L291.3,225.8 L290.7,229.7 L288.4,232.8 L286,235.7 L283.5,238.5 L280.9,241.2 L278.3,244.3 L274.7,245.9 L270.5,245.2 L266.9,245.5 L263.3,247.6 L259.4,247.7 L256.1,245.2 L252.8,243.5 L249.2,242.7 L245.8,241.1 L242.7,238.9 L240.3,235.9 L239.1,232.3 L237.3,229.1 L234.2,226.1 L233.2,222.3 L235,218.3 L235.8,214.7 L235,210.7 L235.9,207 L238.5,204 L241.1,201.3 L243.7,198.7 L246.3,196.1 L248.7,193 L252.1,191.3 L256.2,191.7 L259.7,191 L263.3,188.6 L267.3,188.3 L270.7,190.6 L274.1,192.3 L277.8,193.2 L281.2,195 L284.1,197.5 L286.3,200.7 L287.2,204.5 L288.7,207.8 L291.6,210.7 L292.5,214.5Z" fill="#dcc7e6" stroke="#cdb3da" stroke-width="0.8"/><circle cx="285.1" cy="218.3" r="0.9" fill="#b08bc2"/><circle cx="276.9" cy="225.3" r="1.4" fill="#b08bc2"/><circle cx="273.8" cy="232.1" r="1.6" fill="#b08bc2"/><circle cx="266.2" cy="234.1" r="1.1" fill="#b08bc2"/><circle cx="252" cy="233.2" r="1.4" fill="#b08bc2"/><circle cx="247.7" cy="224.2" r="1.2" fill="#b08bc2"/><circle cx="242.3" cy="221.1" r="0.9" fill="#b08bc2"/><circle cx="249" cy="207.9" r="1.4" fill="#b08bc2"/><circle cx="249.8" cy="200.4" r="1.1" fill="#b08bc2"/><circle cx="262.9" cy="195.8" r="1.4" fill="#b08bc2"/><circle cx="270.6" cy="203.3" r="1.6" fill="#b08bc2"/><circle cx="281.4" cy="209.9" r="1.3" fill="#b08bc2"/><circle cx="263.3" cy="218.3" r="11" fill="#9266a6"/><circle cx="262.6" cy="217.4" r="9.9" fill="#a47bb8"/>
<line x1="281.4" y1="172" x2="281.4" y2="197" stroke="#a77bb5" stroke-width="1.2"/><rect x="279" y="181" width="5" height="6" fill="#f2c244"/><line x1="281.6" y1="172" x2="281.6" y2="181" stroke="#f2c244" stroke-width="1.2"/>
<path d="M166.7,263.7 C166.9,264.6 167.1,265.6 167,266.5 C166.9,267.4 166.6,268.4 166.1,269.2 C165.7,270 165,270.8 164.4,271.6 C163.7,272.3 162.9,272.9 162.2,273.6 C161.5,274.2 160.7,274.7 160.1,275.4 C159.5,276 159,276.6 158.5,277.3 C158,278 157.7,278.7 157.2,279.5 C156.8,280.2 156.5,281.1 155.9,281.8 C155.4,282.5 154.8,283.3 154.1,283.8 C153.4,284.4 152.6,284.8 151.7,285.1 C150.9,285.4 149.9,285.5 148.9,285.6 C148,285.6 146.9,285.4 146,285.3 C145.1,285.2 144.2,285 143.3,284.9 C142.4,284.8 141.6,284.7 140.8,284.6 C140,284.6 139.3,284.7 138.5,284.8 C137.7,284.8 136.9,285 136.1,285.1 C135.2,285.2 134.4,285.3 133.5,285.4 C132.7,285.4 131.8,285.4 130.9,285.4 C130,285.4 129.1,285.3 128.2,285.3 C127.3,285.2 126.3,285.1 125.3,285 C124.3,284.9 123.3,284.8 122.2,284.6 C121.2,284.4 120.1,284.2 119.1,283.8 C118.1,283.4 117.1,283 116.3,282.4 C115.5,281.8 114.7,281 114.3,280.1 C113.8,279.2 113.6,278.2 113.5,277.2 C113.5,276.1 113.7,275 113.9,273.9 C114.1,272.9 114.6,271.8 114.9,270.9 C115.2,269.9 115.6,269 115.8,268.2 C116,267.4 116.1,266.7 116.1,265.9 C116.1,265.2 115.9,264.5 115.7,263.7 C115.5,263 115.2,262.2 115.1,261.4 C114.9,260.7 114.7,259.8 114.7,259 C114.7,258.2 114.8,257.4 115,256.6 C115.2,255.8 115.5,255.1 115.8,254.3 C116.2,253.6 116.6,252.9 117.1,252.2 C117.5,251.5 117.9,250.8 118.4,250.1 C118.8,249.4 119.3,248.7 119.8,248 C120.3,247.4 120.8,246.7 121.4,246 C121.9,245.4 122.6,244.8 123.3,244.2 C124,243.7 124.8,243.3 125.6,242.9 C126.3,242.5 127.2,242.2 128,241.8 C128.8,241.5 129.7,241.2 130.5,240.9 C131.3,240.5 132.2,240.1 133,239.7 C133.9,239.3 134.7,238.8 135.6,238.4 C136.5,238 137.5,237.5 138.5,237.2 C139.5,236.9 140.5,236.7 141.5,236.7 C142.5,236.8 143.6,237 144.5,237.5 C145.4,237.9 146.2,238.6 147,239.4 C147.7,240.1 148.3,241.2 148.8,242.1 C149.4,243 149.7,244 150.2,244.9 C150.6,245.7 150.9,246.5 151.4,247.2 C151.8,247.9 152.3,248.4 152.8,248.9 C153.4,249.4 154,249.8 154.7,250.2 C155.3,250.6 156.1,250.9 156.8,251.4 C157.5,251.8 158.2,252.2 158.9,252.8 C159.6,253.3 160.2,253.8 160.8,254.5 C161.4,255.1 162,255.7 162.6,256.4 C163.2,257.1 163.7,257.9 164.2,258.6 C164.8,259.4 165.3,260.2 165.7,261.1 C166.1,261.9 166.5,262.8 166.7,263.7Z" fill="#f4a898" stroke="#d9806c" stroke-width="0.7"/><path d="M9.5,0 L9.3,1.2 L9,2.4 L8.9,3.7 L8.9,5.1 L8.6,6.6 L7.9,7.9 L6.7,8.7 L5.3,9.1 L3.9,9.4 L2.6,9.6 L1.3,9.9 L0,10 L-1.3,9.7 L-2.4,9.1 L-3.4,8.3 L-4.4,7.7 L-5.6,7.3 L-6.9,6.9 L-8.3,6.3 L-9.3,5.4 L-9.9,4.1 L-10.1,2.7 L-10.3,1.4 L-10.5,0 L-10.6,-1.4 L-10.3,-2.8 L-9.5,-3.9 L-8.4,-4.9 L-7.2,-5.5 L-6.2,-6.2 L-5.5,-7.1 L-4.7,-8.2 L-3.8,-9.1 L-2.6,-9.7 L-1.3,-9.9 L-0,-10 L1.3,-10.1 L2.7,-10.2 L4.2,-10.2 L5.6,-9.7 L6.6,-8.6 L7.2,-7.2 L7.6,-5.8 L8,-4.6 L8.6,-3.6 L9.2,-2.5 L9.5,-1.3Z" fill="#d9644f" transform="translate(134.1 260.4) scale(1.2 1)"/><path d="M10.7,0 L10.1,1.3 L9.3,2.5 L8.7,3.6 L8.2,4.7 L7.5,5.8 L6.7,6.7 L5.7,7.4 L4.6,8 L3.6,8.7 L2.5,9.5 L1.4,10.3 L0,10.9 L-1.4,10.9 L-2.8,10.5 L-4,9.7 L-5.1,8.9 L-6.2,8 L-7.1,7.1 L-7.9,6.1 L-8.4,4.8 L-8.5,3.5 L-8.7,2.3 L-8.9,1.2 L-9.3,0 L-9.8,-1.3 L-10,-2.7 L-9.8,-4 L-9.2,-5.3 L-8.3,-6.4 L-7.4,-7.4 L-6.5,-8.4 L-5.4,-9.3 L-4,-9.8 L-2.6,-9.8 L-1.3,-9.5 L-0,-9.1 L1.2,-8.9 L2.4,-8.8 L3.6,-8.7 L4.9,-8.4 L6,-7.8 L7,-7 L8,-6.1 L9,-5.2 L9.9,-4.1 L10.7,-2.9 L10.9,-1.4Z" fill="#cf5744" transform="translate(139.1 278) scale(0.6 0.6)"/><circle cx="125.4" cy="274.7" r="0.9" fill="#e46c58"/><circle cx="155.8" cy="253.8" r="1.2" fill="#e46c58"/><circle cx="120.6" cy="257.8" r="1.2" fill="#e46c58"/><circle cx="119.2" cy="254.3" r="1.2" fill="#e46c58"/><circle cx="148.7" cy="248.4" r="0.9" fill="#e46c58"/><circle cx="151" cy="279.3" r="0.9" fill="#e46c58"/><circle cx="126.9" cy="247.9" r="0.8" fill="#e46c58"/><circle cx="142" cy="248.7" r="1.3" fill="#e46c58"/><circle cx="148" cy="249.8" r="1.2" fill="#e46c58"/><circle cx="136.5" cy="247.9" r="1.2" fill="#e46c58"/><circle cx="154.6" cy="278.1" r="1.2" fill="#e46c58"/><circle cx="155" cy="261.5" r="1" fill="#e46c58"/><circle cx="123.5" cy="250.6" r="0.9" fill="#e46c58"/><circle cx="155.3" cy="250.3" r="1" fill="#e46c58"/><circle cx="151.2" cy="278.7" r="1" fill="#e46c58"/><circle cx="128.3" cy="248" r="1" fill="#e46c58"/><path d="M9.8,0 L10.4,1.4 L10.6,2.8 L10.3,4.2 L9.4,5.5 L8.4,6.5 L7.4,7.4 L6.3,8.2 L5.2,8.9 L3.9,9.3 L2.5,9.3 L1.2,8.9 L0,8.7 L-1.1,8.7 L-2.4,8.9 L-3.8,9.1 L-5.1,8.9 L-6.4,8.3 L-7.4,7.4 L-8.3,6.4 L-9.3,5.4 L-10.1,4.2 L-10.7,2.9 L-10.7,1.4 L-10.2,0 L-9.4,-1.2 L-8.7,-2.3 L-8.2,-3.4 L-7.9,-4.5 L-7.4,-5.7 L-6.8,-6.8 L-5.9,-7.6 L-4.8,-8.4 L-3.8,-9.2 L-2.7,-10.1 L-1.4,-10.9 L-0,-11.3 L1.5,-11.1 L2.8,-10.4 L3.9,-9.4 L4.9,-8.4 L5.8,-7.6 L6.7,-6.7 L7.5,-5.8 L8.1,-4.6 L8.4,-3.5 L8.6,-2.3 L9.1,-1.2Z" fill="#f4a898" stroke="#d9806c" stroke-width="0.6" transform="translate(107.2 244.9) scale(0.8 0.8)"/><circle cx="103.7" cy="241.2" r="0.8" fill="#e46c58"/><circle cx="110.9" cy="244.1" r="0.8" fill="#e46c58"/><circle cx="107.4" cy="243" r="0.8" fill="#e46c58"/><circle cx="103.2" cy="240.6" r="0.8" fill="#e46c58"/><path d="M10.5,0 L10.8,1.4 L10.7,2.9 L10,4.2 L9,5.2 L7.8,6 L6.7,6.7 L5.8,7.5 L4.8,8.3 L3.7,8.9 L2.5,9.2 L1.2,9.2 L0,9.3 L-1.2,9.5 L-2.6,9.7 L-4.1,9.8 L-5.5,9.5 L-6.6,8.7 L-7.5,7.5 L-8.1,6.2 L-8.8,5.1 L-9.4,3.9 L-9.8,2.6 L-9.9,1.3 L-9.5,0 L-9,-1.2 L-8.6,-2.3 L-8.4,-3.5 L-8.3,-4.8 L-8.1,-6.2 L-7.4,-7.4 L-6.4,-8.3 L-5.2,-9 L-4,-9.6 L-2.7,-10.1 L-1.4,-10.6 L-0,-10.7 L1.4,-10.4 L2.6,-9.6 L3.6,-8.6 L4.5,-7.8 L5.5,-7.2 L6.7,-6.7 L7.7,-5.9 L8.6,-4.9 L9.1,-3.8 L9.5,-2.6 L10,-1.3Z" fill="#f4a898" stroke="#d9806c" stroke-width="0.6" transform="translate(153.6 242) scale(1.2 1.1)"/><circle cx="151.2" cy="237.7" r="0.8" fill="#e46c58"/><circle cx="147.7" cy="236.5" r="0.8" fill="#e46c58"/><circle cx="158.4" cy="246.6" r="0.8" fill="#e46c58"/><circle cx="156.9" cy="237.3" r="0.8" fill="#e46c58"/><path d="M9.2,0 L9.5,1.3 L9.7,2.6 L9.5,3.9 L8.8,5.1 L8.1,6.2 L7.2,7.2 L6.4,8.4 L5.4,9.4 L4.2,10 L2.7,10.2 L1.3,9.9 L0,9.5 L-1.2,9.1 L-2.4,9 L-3.7,8.8 L-4.9,8.4 L-5.9,7.7 L-6.8,6.8 L-7.6,5.9 L-8.6,4.9 L-9.6,4 L-10.5,2.8 L-10.9,1.4 L-10.8,0 L-10.3,-1.4 L-9.6,-2.6 L-9,-3.7 L-8.5,-4.9 L-7.8,-6 L-6.9,-6.9 L-5.8,-7.5 L-4.6,-8 L-3.5,-8.4 L-2.4,-9.1 L-1.3,-9.9 L-0,-10.5 L1.4,-10.7 L2.8,-10.3 L4,-9.7 L5.1,-8.9 L6.3,-8.2 L7.4,-7.4 L8.2,-6.3 L8.8,-5.1 L8.9,-3.7 L8.8,-2.4 L8.9,-1.2Z" fill="#f4a898" stroke="#d9806c" stroke-width="0.6" transform="translate(102.5 262.6) scale(0.6 0.6)"/><circle cx="103.8" cy="265.3" r="0.8" fill="#e46c58"/><circle cx="102" cy="264" r="0.8" fill="#e46c58"/><circle cx="100" cy="262.8" r="0.8" fill="#e46c58"/><circle cx="103.1" cy="259.8" r="0.8" fill="#e46c58"/><path d="M10.2,0 L9.8,1.3 L9.1,2.4 L8.5,3.5 L8.1,4.7 L7.7,5.9 L7.1,7.1 L6.3,8.2 L5.1,8.8 L3.8,9.3 L2.6,9.7 L1.3,10.1 L0,10.5 L-1.4,10.6 L-2.7,10.2 L-3.9,9.3 L-4.8,8.3 L-5.7,7.4 L-6.7,6.7 L-7.7,5.9 L-8.6,5 L-9.2,3.8 L-9.5,2.5 L-9.6,1.3 L-9.8,0 L-10,-1.3 L-10.2,-2.7 L-10,-4.1 L-9.2,-5.3 L-8.2,-6.3 L-7,-7 L-5.9,-7.7 L-4.9,-8.5 L-3.8,-9.2 L-2.6,-9.7 L-1.3,-9.7 L-0,-9.5 L1.2,-9.3 L2.5,-9.2 L3.8,-9.1 L5.2,-9 L6.5,-8.4 L7.5,-7.5 L8.2,-6.3 L8.7,-5 L9.3,-3.8 L9.8,-2.6 L10.2,-1.3Z" fill="#f4a898" stroke="#d9806c" stroke-width="0.6" transform="translate(171.2 258.3) scale(0.3 0.4)"/><circle cx="170.1" cy="257.7" r="0.8" fill="#e46c58"/><path d="M9.8,0 L9.4,1.2 L8.7,2.3 L8.1,3.3 L7.6,4.4 L7.4,5.7 L7.1,7.1 L6.4,8.4 L5.4,9.4 L4.1,10 L2.8,10.3 L1.4,10.6 L0,10.7 L-1.4,10.7 L-2.7,10.2 L-3.8,9.2 L-4.7,8.1 L-5.4,7 L-6.1,6.1 L-7.1,5.5 L-8.2,4.7 L-9.1,3.8 L-9.7,2.6 L-10,1.3 L-10.2,0 L-10.5,-1.4 L-10.6,-2.8 L-10.4,-4.3 L-9.7,-5.6 L-8.5,-6.5 L-7.1,-7.1 L-5.7,-7.5 L-4.6,-7.9 L-3.5,-8.5 L-2.4,-9 L-1.2,-9.3 L-0,-9.3 L1.2,-9.2 L2.5,-9.1 L3.8,-9.2 L5.3,-9.2 L6.8,-8.9 L8,-8 L8.8,-6.7 L9.2,-5.3 L9.4,-3.9 L9.6,-2.6 L9.8,-1.3Z" fill="#f4a898" stroke="#d9806c" stroke-width="0.6" transform="translate(118.2 287.3) scale(0.8 0.7)"/><circle cx="119.8" cy="286.6" r="0.8" fill="#e46c58"/><circle cx="117.7" cy="290.7" r="0.8" fill="#e46c58"/><circle cx="116.2" cy="285.2" r="0.8" fill="#e46c58"/><circle cx="119.8" cy="285.7" r="0.8" fill="#e46c58"/><path d="M10.6,0 L10.7,1.4 L10.2,2.7 L9.4,3.9 L8.4,4.9 L7.6,5.8 L6.8,6.8 L6,7.8 L5,8.6 L3.7,9 L2.5,9.2 L1.2,9.4 L0,9.7 L-1.3,10 L-2.7,10.2 L-4.1,9.9 L-5.3,9.2 L-6.2,8.1 L-7.1,7.1 L-7.9,6 L-8.7,5 L-9.4,3.9 L-9.7,2.6 L-9.6,1.3 L-9.4,0 L-9.1,-1.2 L-9.1,-2.4 L-9.1,-3.8 L-8.9,-5.1 L-8.3,-6.4 L-7.3,-7.3 L-6.2,-8.1 L-5,-8.7 L-3.9,-9.4 L-2.7,-10.1 L-1.4,-10.5 L-0,-10.3 L1.3,-9.8 L2.4,-9.1 L3.5,-8.6 L4.7,-8.1 L5.9,-7.7 L7.1,-7.1 L8,-6.1 L8.6,-5 L9.1,-3.8 L9.6,-2.6 L10.2,-1.3Z" fill="#f4a898" stroke="#d9806c" stroke-width="0.6" transform="translate(159.9 288.4) scale(1.1 0.8)"/><circle cx="157.9" cy="292.2" r="0.8" fill="#e46c58"/><circle cx="158.5" cy="291.9" r="0.8" fill="#e46c58"/><circle cx="162.9" cy="290.5" r="0.8" fill="#e46c58"/><circle cx="156.6" cy="285.4" r="0.8" fill="#e46c58"/><path d="M10.8,0 L10.4,1.4 L9.9,2.7 L9.4,3.9 L8.8,5.1 L7.8,6 L6.7,6.7 L5.4,7.1 L4.4,7.5 L3.4,8.2 L2.4,9.1 L1.3,10 L0,10.5 L-1.4,10.5 L-2.7,10.2 L-4,9.8 L-5.3,9.3 L-6.6,8.6 L-7.7,7.7 L-8.4,6.4 L-8.6,5 L-8.6,3.6 L-8.6,2.3 L-8.8,1.2 L-9.2,0 L-9.4,-1.2 L-9.4,-2.5 L-9.1,-3.8 L-8.6,-4.9 L-8,-6.2 L-7.5,-7.5 L-6.7,-8.8 L-5.6,-9.8 L-4.2,-10.2 L-2.7,-10.2 L-1.3,-9.8 L-0,-9.5 L1.2,-9.3 L2.4,-9.1 L3.6,-8.7 L4.7,-8.1 L5.6,-7.3 L6.5,-6.5 L7.5,-5.8 L8.7,-5 L9.9,-4.1 L10.7,-2.9 L11,-1.5Z" fill="#f4a898" stroke="#d9806c" stroke-width="0.6" transform="translate(136.5 296) scale(0.5 0.3)"/><circle cx="134.9" cy="295.9" r="0.8" fill="#e46c58"/><circle cx="135" cy="297.6" r="0.8" fill="#e46c58"/><circle cx="136.8" cy="296.4" r="0.8" fill="#e46c58"/><circle cx="136.5" cy="294.7" r="0.8" fill="#e46c58"/>
<polygon points="168.1,242.3 165,244.1 161.9,242.3 161.9,238.7 165,236.9 168.1,238.7" fill="#b8cfe8" stroke="#7f9fcf" stroke-width="0.6"/><line x1="168.1" y1="242.3" x2="169.7" y2="243.2" stroke="#7f9fcf" stroke-width="0.5"/><line x1="165" y1="244.1" x2="165" y2="245.9" stroke="#7f9fcf" stroke-width="0.5"/><line x1="161.9" y1="242.3" x2="160.3" y2="243.2" stroke="#7f9fcf" stroke-width="0.5"/><line x1="161.9" y1="238.7" x2="160.3" y2="237.8" stroke="#7f9fcf" stroke-width="0.5"/><line x1="165" y1="236.9" x2="165" y2="235.1" stroke="#7f9fcf" stroke-width="0.5"/><line x1="168.1" y1="238.7" x2="169.7" y2="237.8" stroke="#7f9fcf" stroke-width="0.5"/>
<polygon points="107.1,271.8 104,273.6 100.9,271.8 100.9,268.2 104,266.4 107.1,268.2" fill="#b8cfe8" stroke="#7f9fcf" stroke-width="0.6"/><line x1="107.1" y1="271.8" x2="108.7" y2="272.7" stroke="#7f9fcf" stroke-width="0.5"/><line x1="104" y1="273.6" x2="104" y2="275.4" stroke="#7f9fcf" stroke-width="0.5"/><line x1="100.9" y1="271.8" x2="99.3" y2="272.7" stroke="#7f9fcf" stroke-width="0.5"/><line x1="100.9" y1="268.2" x2="99.3" y2="267.3" stroke="#7f9fcf" stroke-width="0.5"/><line x1="104" y1="266.4" x2="104" y2="264.6" stroke="#7f9fcf" stroke-width="0.5"/><line x1="107.1" y1="268.2" x2="108.7" y2="267.3" stroke="#7f9fcf" stroke-width="0.5"/>
<polygon points="165.8,270.8 162.7,272.6 159.6,270.8 159.6,267.2 162.7,265.4 165.8,267.2" fill="#b8cfe8" stroke="#7f9fcf" stroke-width="0.6"/><line x1="165.8" y1="270.8" x2="167.4" y2="271.7" stroke="#7f9fcf" stroke-width="0.5"/><line x1="162.7" y1="272.6" x2="162.7" y2="274.4" stroke="#7f9fcf" stroke-width="0.5"/><line x1="159.6" y1="270.8" x2="158" y2="271.7" stroke="#7f9fcf" stroke-width="0.5"/><line x1="159.6" y1="267.2" x2="158" y2="266.3" stroke="#7f9fcf" stroke-width="0.5"/><line x1="162.7" y1="265.4" x2="162.7" y2="263.6" stroke="#7f9fcf" stroke-width="0.5"/><line x1="165.8" y1="267.2" x2="167.4" y2="266.3" stroke="#7f9fcf" stroke-width="0.5"/>
<polygon points="128.1,292.8 125,294.6 121.9,292.8 121.9,289.2 125,287.4 128.1,289.2" fill="#b8cfe8" stroke="#7f9fcf" stroke-width="0.6"/><line x1="128.1" y1="292.8" x2="129.7" y2="293.7" stroke="#7f9fcf" stroke-width="0.5"/><line x1="125" y1="294.6" x2="125" y2="296.4" stroke="#7f9fcf" stroke-width="0.5"/><line x1="121.9" y1="292.8" x2="120.3" y2="293.7" stroke="#7f9fcf" stroke-width="0.5"/><line x1="121.9" y1="289.2" x2="120.3" y2="288.3" stroke="#7f9fcf" stroke-width="0.5"/><line x1="125" y1="287.4" x2="125" y2="285.6" stroke="#7f9fcf" stroke-width="0.5"/><line x1="128.1" y1="289.2" x2="129.7" y2="288.3" stroke="#7f9fcf" stroke-width="0.5"/>
<text x="108" y="274.5" font-size="20.5" font-style="italic" fill="#111">Lethal</text>
<path d="M141.7,146.5 Q175,118 205,142" fill="none" stroke="#111" stroke-width="1.5" marker-end="url(#ah)"/>
<path d="M255.6,247 Q235,266 200,266" fill="none" stroke="#111" stroke-width="1.5" marker-end="url(#ah)"/>
<path d="M505,603 L505,578.8 Q508.3,570.5 505,562.3" fill="none" stroke="#9dbbe3" stroke-width="5.9" stroke-linecap="round" stroke-linejoin="round"/><path d="M505,603 L505,575.5" fill="none" stroke="#9dbbe3" stroke-width="11.9" stroke-linecap="round"/><path d="M505,603 L515.6,581.2 Q517,570.9 524.3,563.5" fill="none" stroke="#9dbbe3" stroke-width="5.4" stroke-linecap="round" stroke-linejoin="round"/><path d="M505,603 L517.1,578.3" fill="none" stroke="#9dbbe3" stroke-width="10.8" stroke-linecap="round"/><path d="M505,603 L490.4,583.7 Q488.8,576 481.8,572.3" fill="none" stroke="#9dbbe3" stroke-width="5.4" stroke-linecap="round" stroke-linejoin="round"/><path d="M505,603 L488.5,581" fill="none" stroke="#9dbbe3" stroke-width="10.8" stroke-linecap="round"/><path d="M505,603 L482,595.5 Q471.4,594.4 462.1,589.1" fill="none" stroke="#9dbbe3" stroke-width="5.9" stroke-linecap="round" stroke-linejoin="round"/><path d="M505,603 L478.8,594.5" fill="none" stroke="#9dbbe3" stroke-width="11.9" stroke-linecap="round"/><path d="M505,603 L481,606.4 Q472.6,605.3 464.7,608.7" fill="none" stroke="#9dbbe3" stroke-width="5.4" stroke-linecap="round" stroke-linejoin="round"/><path d="M505,603 L477.8,606.8" fill="none" stroke="#9dbbe3" stroke-width="10.8" stroke-linecap="round"/><path d="M505,603 L510,579.3 Q511.2,573.9 512.3,568.6" fill="none" stroke="#9dbbe3" stroke-width="4.9" stroke-linecap="round" stroke-linejoin="round"/><path d="M505,603 L510.7,576.1" fill="none" stroke="#9dbbe3" stroke-width="9.7" stroke-linecap="round"/><path d="M505,603 L485.2,616.9 Q479.4,618.2 476.2,623.2" fill="none" stroke="#9dbbe3" stroke-width="5.4" stroke-linecap="round" stroke-linejoin="round"/><path d="M505,603 L482.5,618.8" fill="none" stroke="#9dbbe3" stroke-width="10.8" stroke-linecap="round"/><path d="M505,603 L497.5,580 Q495.8,574.8 494.1,569.5" fill="none" stroke="#9dbbe3" stroke-width="4.9" stroke-linecap="round" stroke-linejoin="round"/><path d="M505,603 L496.5,576.8" fill="none" stroke="#9dbbe3" stroke-width="9.7" stroke-linecap="round"/><circle cx="505" cy="603" r="22.5" fill="#9dbbe3"/><path d="M505,603 L505,578.8 Q508.3,570.5 505,562.3" fill="none" stroke="#b9d2ec" stroke-width="5" stroke-linecap="round" stroke-linejoin="round"/><path d="M505,603 L505,575.5" fill="none" stroke="#b9d2ec" stroke-width="11" stroke-linecap="round"/><path d="M505,603 L515.6,581.2 Q517,570.9 524.3,563.5" fill="none" stroke="#b9d2ec" stroke-width="4.5" stroke-linecap="round" stroke-linejoin="round"/><path d="M505,603 L517.1,578.3" fill="none" stroke="#b9d2ec" stroke-width="9.9" stroke-linecap="round"/><path d="M505,603 L490.4,583.7 Q488.8,576 481.8,572.3" fill="none" stroke="#b9d2ec" stroke-width="4.5" stroke-linecap="round" stroke-linejoin="round"/><path d="M505,603 L488.5,581" fill="none" stroke="#b9d2ec" stroke-width="9.9" stroke-linecap="round"/><path d="M505,603 L482,595.5 Q471.4,594.4 462.1,589.1" fill="none" stroke="#b9d2ec" stroke-width="5" stroke-linecap="round" stroke-linejoin="round"/><path d="M505,603 L478.8,594.5" fill="none" stroke="#b9d2ec" stroke-width="11" stroke-linecap="round"/><path d="M505,603 L481,606.4 Q472.6,605.3 464.7,608.7" fill="none" stroke="#b9d2ec" stroke-width="4.5" stroke-linecap="round" stroke-linejoin="round"/><path d="M505,603 L477.8,606.8" fill="none" stroke="#b9d2ec" stroke-width="9.9" stroke-linecap="round"/><path d="M505,603 L510,579.3 Q511.2,573.9 512.3,568.6" fill="none" stroke="#b9d2ec" stroke-width="4" stroke-linecap="round" stroke-linejoin="round"/><path d="M505,603 L510.7,576.1" fill="none" stroke="#b9d2ec" stroke-width="8.8" stroke-linecap="round"/><path d="M505,603 L485.2,616.9 Q479.4,618.2 476.2,623.2" fill="none" stroke="#b9d2ec" stroke-width="4.5" stroke-linecap="round" stroke-linejoin="round"/><path d="M505,603 L482.5,618.8" fill="none" stroke="#b9d2ec" stroke-width="9.9" stroke-linecap="round"/><path d="M505,603 L497.5,580 Q495.8,574.8 494.1,569.5" fill="none" stroke="#b9d2ec" stroke-width="4" stroke-linecap="round" stroke-linejoin="round"/><path d="M505,603 L496.5,576.8" fill="none" stroke="#b9d2ec" stroke-width="8.8" stroke-linecap="round"/><circle cx="505" cy="603" r="22" fill="#b9d2ec"/><circle cx="508.3" cy="605.2" r="13.2" fill="#4a6aae"/><circle cx="507.6" cy="604.1" r="11.9" fill="#5b7ec2"/>
<path d="M497,677 L465.1,668.5 Q453.6,662.3 440.5,661.9" fill="none" stroke="#9dbbe3" stroke-width="6.9" stroke-linecap="round" stroke-linejoin="round"/><path d="M497,677 L460.8,667.3" fill="none" stroke="#9dbbe3" stroke-width="14.1" stroke-linecap="round"/><path d="M497,677 L467.1,690.9 Q458.8,699.8 446.7,700.5" fill="none" stroke="#9dbbe3" stroke-width="6.9" stroke-linecap="round" stroke-linejoin="round"/><path d="M497,677 L463,692.8" fill="none" stroke="#9dbbe3" stroke-width="14.1" stroke-linecap="round"/><path d="M497,677 L487.4,708.6 Q480.8,719.9 479.9,732.9" fill="none" stroke="#9dbbe3" stroke-width="6.9" stroke-linecap="round" stroke-linejoin="round"/><path d="M497,677 L486,712.9" fill="none" stroke="#9dbbe3" stroke-width="14.1" stroke-linecap="round"/><path d="M497,677 L503.3,709.4 Q510.3,721.8 508.4,735.9" fill="none" stroke="#9dbbe3" stroke-width="6.9" stroke-linecap="round" stroke-linejoin="round"/><path d="M497,677 L504.2,713.8" fill="none" stroke="#9dbbe3" stroke-width="14.1" stroke-linecap="round"/><path d="M497,677 L526.9,690.9 Q539.2,700 554.1,703.6" fill="none" stroke="#9dbbe3" stroke-width="6.9" stroke-linecap="round" stroke-linejoin="round"/><path d="M497,677 L531,692.8" fill="none" stroke="#9dbbe3" stroke-width="14.1" stroke-linecap="round"/><path d="M497,677 L491.3,644.5 Q490.2,638.6 489.2,632.7" fill="none" stroke="#9dbbe3" stroke-width="5.9" stroke-linecap="round" stroke-linejoin="round"/><path d="M497,677 L490.5,640.1" fill="none" stroke="#9dbbe3" stroke-width="11.9" stroke-linecap="round"/><path d="M497,677 L473.7,653.7 Q471,646.8 464.1,644.1" fill="none" stroke="#9dbbe3" stroke-width="5.9" stroke-linecap="round" stroke-linejoin="round"/><path d="M497,677 L470.5,650.5" fill="none" stroke="#9dbbe3" stroke-width="11.9" stroke-linecap="round"/><path d="M497,677 L494.1,709.9 Q493.3,718.8 492.6,727.8" fill="none" stroke="#9dbbe3" stroke-width="5.9" stroke-linecap="round" stroke-linejoin="round"/><path d="M497,677 L493.7,714.4" fill="none" stroke="#9dbbe3" stroke-width="11.9" stroke-linecap="round"/><path d="M497,677 L464,678.2 Q456.4,675.4 449,678.7" fill="none" stroke="#9dbbe3" stroke-width="5.9" stroke-linecap="round" stroke-linejoin="round"/><path d="M497,677 L459.5,678.3" fill="none" stroke="#9dbbe3" stroke-width="11.9" stroke-linecap="round"/><circle cx="497" cy="677" r="30.5" fill="#9dbbe3"/><path d="M497,677 L465.1,668.5 Q453.6,662.3 440.5,661.9" fill="none" stroke="#b9d2ec" stroke-width="6" stroke-linecap="round" stroke-linejoin="round"/><path d="M497,677 L460.8,667.3" fill="none" stroke="#b9d2ec" stroke-width="13.2" stroke-linecap="round"/><path d="M497,677 L467.1,690.9 Q458.8,699.8 446.7,700.5" fill="none" stroke="#b9d2ec" stroke-width="6" stroke-linecap="round" stroke-linejoin="round"/><path d="M497,677 L463,692.8" fill="none" stroke="#b9d2ec" stroke-width="13.2" stroke-linecap="round"/><path d="M497,677 L487.4,708.6 Q480.8,719.9 479.9,732.9" fill="none" stroke="#b9d2ec" stroke-width="6" stroke-linecap="round" stroke-linejoin="round"/><path d="M497,677 L486,712.9" fill="none" stroke="#b9d2ec" stroke-width="13.2" stroke-linecap="round"/><path d="M497,677 L503.3,709.4 Q510.3,721.8 508.4,735.9" fill="none" stroke="#b9d2ec" stroke-width="6" stroke-linecap="round" stroke-linejoin="round"/><path d="M497,677 L504.2,713.8" fill="none" stroke="#b9d2ec" stroke-width="13.2" stroke-linecap="round"/><path d="M497,677 L526.9,690.9 Q539.2,700 554.1,703.6" fill="none" stroke="#b9d2ec" stroke-width="6" stroke-linecap="round" stroke-linejoin="round"/><path d="M497,677 L531,692.8" fill="none" stroke="#b9d2ec" stroke-width="13.2" stroke-linecap="round"/><path d="M497,677 L491.3,644.5 Q490.2,638.6 489.2,632.7" fill="none" stroke="#b9d2ec" stroke-width="5" stroke-linecap="round" stroke-linejoin="round"/><path d="M497,677 L490.5,640.1" fill="none" stroke="#b9d2ec" stroke-width="11" stroke-linecap="round"/><path d="M497,677 L473.7,653.7 Q471,646.8 464.1,644.1" fill="none" stroke="#b9d2ec" stroke-width="5" stroke-linecap="round" stroke-linejoin="round"/><path d="M497,677 L470.5,650.5" fill="none" stroke="#b9d2ec" stroke-width="11" stroke-linecap="round"/><path d="M497,677 L494.1,709.9 Q493.3,718.8 492.6,727.8" fill="none" stroke="#b9d2ec" stroke-width="5" stroke-linecap="round" stroke-linejoin="round"/><path d="M497,677 L493.7,714.4" fill="none" stroke="#b9d2ec" stroke-width="11" stroke-linecap="round"/><path d="M497,677 L464,678.2 Q456.4,675.4 449,678.7" fill="none" stroke="#b9d2ec" stroke-width="5" stroke-linecap="round" stroke-linejoin="round"/><path d="M497,677 L459.5,678.3" fill="none" stroke="#b9d2ec" stroke-width="11" stroke-linecap="round"/><circle cx="497" cy="677" r="30" fill="#b9d2ec"/><circle cx="503" cy="678.5" r="18" fill="#4a6aae"/><circle cx="502.1" cy="677.1" r="16.2" fill="#5b7ec2"/>
<circle cx="584.5" cy="596" r="32" fill="#bdd4f0" stroke="#9dbbe3" stroke-width="1"/><circle cx="571.7" cy="591.2" r="10.6" fill="#5b7ec2"/><circle cx="593.5" cy="604" r="12.2" fill="#5b7ec2"/><circle cx="582.9" cy="597.6" r="6.4" fill="#5b7ec2"/>
<circle cx="565" cy="663" r="32" fill="#bdd4f0" stroke="#9dbbe3" stroke-width="1"/><circle cx="552.8" cy="659.8" r="11.2" fill="#5b7ec2"/><circle cx="574.6" cy="671" r="11.2" fill="#5b7ec2"/><circle cx="565" cy="666.2" r="6.4" fill="#5b7ec2"/>
<path d="M563.3,617.6 Q568.4,616.3 573.1,620.2" stroke="#b86a8a" stroke-width="0.7" fill="none"/><path d="M562,623.1 Q567.3,623.1 570.9,628.1" stroke="#b86a8a" stroke-width="0.7" fill="none"/><path d="M559.4,628 Q564.5,629.4 566.6,635.1" stroke="#b86a8a" stroke-width="0.7" fill="none"/><path d="M555.6,632.1 Q560.1,634.8 560.7,640.9" stroke="#b86a8a" stroke-width="0.7" fill="none"/><path d="M550.8,635 Q554.5,638.8 553.5,644.8" stroke="#b86a8a" stroke-width="0.7" fill="none"/><path d="M545.5,636.6 Q548.1,641.3 545.5,646.8" stroke="#b86a8a" stroke-width="0.7" fill="none"/><path d="M539.9,636.8 Q541.2,641.9 537.3,646.6" stroke="#b86a8a" stroke-width="0.7" fill="none"/><path d="M534.4,635.5 Q534.4,640.8 529.4,644.4" stroke="#b86a8a" stroke-width="0.7" fill="none"/><path d="M529.5,632.9 Q528.1,638 522.4,640.1" stroke="#b86a8a" stroke-width="0.7" fill="none"/><path d="M525.4,629.1 Q522.7,633.6 516.6,634.2" stroke="#b86a8a" stroke-width="0.7" fill="none"/><path d="M522.5,624.3 Q518.7,628 512.7,627" stroke="#b86a8a" stroke-width="0.7" fill="none"/><path d="M520.9,619 Q516.2,621.6 510.7,619" stroke="#b86a8a" stroke-width="0.7" fill="none"/><path d="M520.7,613.4 Q515.6,614.7 510.9,610.8" stroke="#b86a8a" stroke-width="0.7" fill="none"/><path d="M522,607.9 Q516.7,607.9 513.1,602.9" stroke="#b86a8a" stroke-width="0.7" fill="none"/><path d="M524.6,603 Q519.5,601.6 517.4,595.9" stroke="#b86a8a" stroke-width="0.7" fill="none"/><path d="M528.4,598.9 Q523.9,596.2 523.3,590.1" stroke="#b86a8a" stroke-width="0.7" fill="none"/><path d="M533.2,596 Q529.5,592.2 530.5,586.2" stroke="#b86a8a" stroke-width="0.7" fill="none"/><path d="M538.5,594.4 Q535.9,589.7 538.5,584.2" stroke="#b86a8a" stroke-width="0.7" fill="none"/><path d="M544.1,594.2 Q542.8,589.1 546.7,584.4" stroke="#b86a8a" stroke-width="0.7" fill="none"/><path d="M549.6,595.5 Q549.6,590.2 554.6,586.6" stroke="#b86a8a" stroke-width="0.7" fill="none"/><path d="M554.5,598.1 Q555.9,593 561.6,590.9" stroke="#b86a8a" stroke-width="0.7" fill="none"/><path d="M558.6,601.9 Q561.3,597.4 567.4,596.8" stroke="#b86a8a" stroke-width="0.7" fill="none"/><path d="M561.5,606.7 Q565.3,603 571.3,604" stroke="#b86a8a" stroke-width="0.7" fill="none"/><path d="M563.1,612 Q567.8,609.4 573.3,612" stroke="#b86a8a" stroke-width="0.7" fill="none"/><circle cx="542" cy="615.5" r="21.4" fill="#e3a9c0"/><circle cx="562.6" cy="615.5" r="2.2" fill="#ebb6cb" stroke="#cf8eaa" stroke-width="0.4"/><circle cx="562.1" cy="620.1" r="2.2" fill="#ebb6cb" stroke="#cf8eaa" stroke-width="0.4"/><circle cx="560.5" cy="624.4" r="2.2" fill="#ebb6cb" stroke="#cf8eaa" stroke-width="0.4"/><circle cx="558.1" cy="628.3" r="2.2" fill="#ebb6cb" stroke="#cf8eaa" stroke-width="0.4"/><circle cx="554.8" cy="631.6" r="2.2" fill="#ebb6cb" stroke="#cf8eaa" stroke-width="0.4"/><circle cx="550.9" cy="634" r="2.2" fill="#ebb6cb" stroke="#cf8eaa" stroke-width="0.4"/><circle cx="546.6" cy="635.6" r="2.2" fill="#ebb6cb" stroke="#cf8eaa" stroke-width="0.4"/><circle cx="542" cy="636.1" r="2.2" fill="#ebb6cb" stroke="#cf8eaa" stroke-width="0.4"/><circle cx="537.4" cy="635.6" r="2.2" fill="#ebb6cb" stroke="#cf8eaa" stroke-width="0.4"/><circle cx="533.1" cy="634" r="2.2" fill="#ebb6cb" stroke="#cf8eaa" stroke-width="0.4"/><circle cx="529.2" cy="631.6" r="2.2" fill="#ebb6cb" stroke="#cf8eaa" stroke-width="0.4"/><circle cx="525.9" cy="628.3" r="2.2" fill="#ebb6cb" stroke="#cf8eaa" stroke-width="0.4"/><circle cx="523.5" cy="624.4" r="2.2" fill="#ebb6cb" stroke="#cf8eaa" stroke-width="0.4"/><circle cx="521.9" cy="620.1" r="2.2" fill="#ebb6cb" stroke="#cf8eaa" stroke-width="0.4"/><circle cx="521.4" cy="615.5" r="2.2" fill="#ebb6cb" stroke="#cf8eaa" stroke-width="0.4"/><circle cx="521.9" cy="610.9" r="2.2" fill="#ebb6cb" stroke="#cf8eaa" stroke-width="0.4"/><circle cx="523.5" cy="606.6" r="2.2" fill="#ebb6cb" stroke="#cf8eaa" stroke-width="0.4"/><circle cx="525.9" cy="602.7" r="2.2" fill="#ebb6cb" stroke="#cf8eaa" stroke-width="0.4"/><circle cx="529.2" cy="599.4" r="2.2" fill="#ebb6cb" stroke="#cf8eaa" stroke-width="0.4"/><circle cx="533.1" cy="597" r="2.2" fill="#ebb6cb" stroke="#cf8eaa" stroke-width="0.4"/><circle cx="537.4" cy="595.4" r="2.2" fill="#ebb6cb" stroke="#cf8eaa" stroke-width="0.4"/><circle cx="542" cy="594.9" r="2.2" fill="#ebb6cb" stroke="#cf8eaa" stroke-width="0.4"/><circle cx="546.6" cy="595.4" r="2.2" fill="#ebb6cb" stroke="#cf8eaa" stroke-width="0.4"/><circle cx="550.9" cy="597" r="2.2" fill="#ebb6cb" stroke="#cf8eaa" stroke-width="0.4"/><circle cx="554.8" cy="599.4" r="2.2" fill="#ebb6cb" stroke="#cf8eaa" stroke-width="0.4"/><circle cx="558.1" cy="602.7" r="2.2" fill="#ebb6cb" stroke="#cf8eaa" stroke-width="0.4"/><circle cx="560.5" cy="606.6" r="2.2" fill="#ebb6cb" stroke="#cf8eaa" stroke-width="0.4"/><circle cx="562.1" cy="610.9" r="2.2" fill="#ebb6cb" stroke="#cf8eaa" stroke-width="0.4"/><circle cx="542" cy="615.5" r="18.3" fill="#bd6b8e"/><path d="M548.3,615.5 L559.9,615.5 M547.9,617.7 L558.8,621.6 M546.8,619.5 L555.7,627 M545.1,621 L550.9,631 M543.1,621.7 L545.1,633.1 M540.9,621.7 L538.9,633.1 M538.9,621 L533.1,631 M537.2,619.5 L528.3,627 M536.1,617.7 L525.2,621.6 M535.7,615.5 L524.1,615.5 M536.1,613.3 L525.2,609.4 M537.2,611.5 L528.3,604 M538.9,610 L533.1,600 M540.9,609.3 L538.9,597.9 M543.1,609.3 L545.1,597.9 M545.1,610 L550.9,600 M546.8,611.5 L555.7,604 M547.9,613.3 L558.8,609.4 " stroke="#ad5f82" stroke-width="0.6" fill="none"/><circle cx="542" cy="616.5" r="2.7" fill="#d4507f"/><circle cx="535.1" cy="611.7" r="2.7" fill="#d4507f"/><circle cx="548.9" cy="611.7" r="2.7" fill="#d4507f"/><circle cx="535.1" cy="621.8" r="2.7" fill="#d4507f"/><circle cx="548.9" cy="621.8" r="2.7" fill="#d4507f"/><circle cx="541.6" cy="607.1" r="2.7" fill="#d4507f"/><circle cx="542" cy="625.6" r="2.7" fill="#d4507f"/>
<path d="M581,588 l-4,-8 M581,588 l4,-8" stroke="#bfe3cc" stroke-width="2"/><path d="M581,588 l0,10" stroke="#6aa37e" stroke-width="1.5"/>
<circle cx="573" cy="576" r="1.6" fill="#f9d66a"/>
<circle cx="578" cy="573" r="1.6" fill="#f9d66a"/>
<circle cx="583" cy="576" r="1.6" fill="#f9d66a"/>
<circle cx="588" cy="573" r="1.6" fill="#f9d66a"/>
<path d="M566,653 l-4,-8 M566,653 l4,-8" stroke="#bfe3cc" stroke-width="2"/><path d="M566,653 l0,10" stroke="#6aa37e" stroke-width="1.5"/>
<circle cx="558" cy="641" r="1.6" fill="#f9d66a"/>
<circle cx="563" cy="638" r="1.6" fill="#f9d66a"/>
<circle cx="568" cy="641" r="1.6" fill="#f9d66a"/>
<circle cx="573" cy="638" r="1.6" fill="#f9d66a"/>
<path d="M500,608 l-4,-8 M500,608 l4,-8" stroke="#bfe3cc" stroke-width="2"/><path d="M500,608 l0,10" stroke="#6aa37e" stroke-width="1.5"/>
<circle cx="492" cy="596" r="1.6" fill="#f9d66a"/>
<circle cx="497" cy="593" r="1.6" fill="#f9d66a"/>
<circle cx="502" cy="596" r="1.6" fill="#f9d66a"/>
<circle cx="507" cy="593" r="1.6" fill="#f9d66a"/>
<path d="M485,675 l-4,-8 M485,675 l4,-8" stroke="#bfe3cc" stroke-width="2"/><path d="M485,675 l0,10" stroke="#6aa37e" stroke-width="1.5"/>
<circle cx="477" cy="663" r="1.6" fill="#f9d66a"/>
<circle cx="482" cy="660" r="1.6" fill="#f9d66a"/>
<circle cx="487" cy="663" r="1.6" fill="#f9d66a"/>
<circle cx="492" cy="660" r="1.6" fill="#f9d66a"/>
<polygon points="497,760.3 492.5,762.9 488,760.3 488,755.1 492.5,752.5 497,755.1" fill="#b8cfe8" stroke="#7f9fcf" stroke-width="0.6"/><line x1="497" y1="760.3" x2="499.3" y2="761.6" stroke="#7f9fcf" stroke-width="0.5"/><line x1="492.5" y1="762.9" x2="492.5" y2="765.5" stroke="#7f9fcf" stroke-width="0.5"/><line x1="488" y1="760.3" x2="485.7" y2="761.6" stroke="#7f9fcf" stroke-width="0.5"/><line x1="488" y1="755.1" x2="485.7" y2="753.8" stroke="#7f9fcf" stroke-width="0.5"/><line x1="492.5" y1="752.5" x2="492.5" y2="749.9" stroke="#7f9fcf" stroke-width="0.5"/><line x1="497" y1="755.1" x2="499.3" y2="753.8" stroke="#7f9fcf" stroke-width="0.5"/>
<polygon points="481.1,776.6 476.6,779.2 472.1,776.6 472.1,771.4 476.6,768.8 481.1,771.4" fill="#b8cfe8" stroke="#7f9fcf" stroke-width="0.6"/><line x1="481.1" y1="776.6" x2="483.4" y2="777.9" stroke="#7f9fcf" stroke-width="0.5"/><line x1="476.6" y1="779.2" x2="476.6" y2="781.8" stroke="#7f9fcf" stroke-width="0.5"/><line x1="472.1" y1="776.6" x2="469.8" y2="777.9" stroke="#7f9fcf" stroke-width="0.5"/><line x1="472.1" y1="771.4" x2="469.8" y2="770.1" stroke="#7f9fcf" stroke-width="0.5"/><line x1="476.6" y1="768.8" x2="476.6" y2="766.2" stroke="#7f9fcf" stroke-width="0.5"/><line x1="481.1" y1="771.4" x2="483.4" y2="770.1" stroke="#7f9fcf" stroke-width="0.5"/>
<polygon points="493.5,787.6 489,790.2 484.5,787.6 484.5,782.4 489,779.8 493.5,782.4" fill="#b8cfe8" stroke="#7f9fcf" stroke-width="0.6"/><line x1="493.5" y1="787.6" x2="495.8" y2="788.9" stroke="#7f9fcf" stroke-width="0.5"/><line x1="489" y1="790.2" x2="489" y2="792.8" stroke="#7f9fcf" stroke-width="0.5"/><line x1="484.5" y1="787.6" x2="482.2" y2="788.9" stroke="#7f9fcf" stroke-width="0.5"/><line x1="484.5" y1="782.4" x2="482.2" y2="781.1" stroke="#7f9fcf" stroke-width="0.5"/><line x1="489" y1="779.8" x2="489" y2="777.2" stroke="#7f9fcf" stroke-width="0.5"/><line x1="493.5" y1="782.4" x2="495.8" y2="781.1" stroke="#7f9fcf" stroke-width="0.5"/>
<polygon points="514.5,787.6 510,790.2 505.5,787.6 505.5,782.4 510,779.8 514.5,782.4" fill="#b8cfe8" stroke="#7f9fcf" stroke-width="0.6"/><line x1="514.5" y1="787.6" x2="516.8" y2="788.9" stroke="#7f9fcf" stroke-width="0.5"/><line x1="510" y1="790.2" x2="510" y2="792.8" stroke="#7f9fcf" stroke-width="0.5"/><line x1="505.5" y1="787.6" x2="503.2" y2="788.9" stroke="#7f9fcf" stroke-width="0.5"/><line x1="505.5" y1="782.4" x2="503.2" y2="781.1" stroke="#7f9fcf" stroke-width="0.5"/><line x1="510" y1="779.8" x2="510" y2="777.2" stroke="#7f9fcf" stroke-width="0.5"/><line x1="514.5" y1="782.4" x2="516.8" y2="781.1" stroke="#7f9fcf" stroke-width="0.5"/>
<polygon points="463.5,678.2 459,680.8 454.5,678.2 454.5,673 459,670.4 463.5,673" fill="#b8cfe8" stroke="#7f9fcf" stroke-width="0.6"/><line x1="463.5" y1="678.2" x2="465.8" y2="679.5" stroke="#7f9fcf" stroke-width="0.5"/><line x1="459" y1="680.8" x2="459" y2="683.4" stroke="#7f9fcf" stroke-width="0.5"/><line x1="454.5" y1="678.2" x2="452.2" y2="679.5" stroke="#7f9fcf" stroke-width="0.5"/><line x1="454.5" y1="673" x2="452.2" y2="671.7" stroke="#7f9fcf" stroke-width="0.5"/><line x1="459" y1="670.4" x2="459" y2="667.8" stroke="#7f9fcf" stroke-width="0.5"/><line x1="463.5" y1="673" x2="465.8" y2="671.7" stroke="#7f9fcf" stroke-width="0.5"/>
<polygon points="665,734.6 660.5,737.2 656,734.6 656,729.4 660.5,726.8 665,729.4" fill="#b8cfe8" stroke="#7f9fcf" stroke-width="0.6"/><line x1="665" y1="734.6" x2="667.3" y2="735.9" stroke="#7f9fcf" stroke-width="0.5"/><line x1="660.5" y1="737.2" x2="660.5" y2="739.8" stroke="#7f9fcf" stroke-width="0.5"/><line x1="656" y1="734.6" x2="653.7" y2="735.9" stroke="#7f9fcf" stroke-width="0.5"/><line x1="656" y1="729.4" x2="653.7" y2="728.1" stroke="#7f9fcf" stroke-width="0.5"/><line x1="660.5" y1="726.8" x2="660.5" y2="724.2" stroke="#7f9fcf" stroke-width="0.5"/><line x1="665" y1="729.4" x2="667.3" y2="728.1" stroke="#7f9fcf" stroke-width="0.5"/>
<polygon points="566,784.3 561.5,786.9 557,784.3 557,779.1 561.5,776.5 566,779.1" fill="#b8cfe8" stroke="#7f9fcf" stroke-width="0.6"/><line x1="566" y1="784.3" x2="568.3" y2="785.6" stroke="#7f9fcf" stroke-width="0.5"/><line x1="561.5" y1="786.9" x2="561.5" y2="789.5" stroke="#7f9fcf" stroke-width="0.5"/><line x1="557" y1="784.3" x2="554.7" y2="785.6" stroke="#7f9fcf" stroke-width="0.5"/><line x1="557" y1="779.1" x2="554.7" y2="777.8" stroke="#7f9fcf" stroke-width="0.5"/><line x1="561.5" y1="776.5" x2="561.5" y2="773.9" stroke="#7f9fcf" stroke-width="0.5"/><line x1="566" y1="779.1" x2="568.3" y2="777.8" stroke="#7f9fcf" stroke-width="0.5"/>
<polygon points="659.5,784.3 655,786.9 650.5,784.3 650.5,779.1 655,776.5 659.5,779.1" fill="#b8cfe8" stroke="#7f9fcf" stroke-width="0.6"/><line x1="659.5" y1="784.3" x2="661.8" y2="785.6" stroke="#7f9fcf" stroke-width="0.5"/><line x1="655" y1="786.9" x2="655" y2="789.5" stroke="#7f9fcf" stroke-width="0.5"/><line x1="650.5" y1="784.3" x2="648.2" y2="785.6" stroke="#7f9fcf" stroke-width="0.5"/><line x1="650.5" y1="779.1" x2="648.2" y2="777.8" stroke="#7f9fcf" stroke-width="0.5"/><line x1="655" y1="776.5" x2="655" y2="773.9" stroke="#7f9fcf" stroke-width="0.5"/><line x1="659.5" y1="779.1" x2="661.8" y2="777.8" stroke="#7f9fcf" stroke-width="0.5"/>
<polygon points="598.5,817.2 594,819.8 589.5,817.2 589.5,812 594,809.4 598.5,812" fill="#b8cfe8" stroke="#7f9fcf" stroke-width="0.6"/><line x1="598.5" y1="817.2" x2="600.8" y2="818.5" stroke="#7f9fcf" stroke-width="0.5"/><line x1="594" y1="819.8" x2="594" y2="822.4" stroke="#7f9fcf" stroke-width="0.5"/><line x1="589.5" y1="817.2" x2="587.2" y2="818.5" stroke="#7f9fcf" stroke-width="0.5"/><line x1="589.5" y1="812" x2="587.2" y2="810.7" stroke="#7f9fcf" stroke-width="0.5"/><line x1="594" y1="809.4" x2="594" y2="806.8" stroke="#7f9fcf" stroke-width="0.5"/><line x1="598.5" y1="812" x2="600.8" y2="810.7" stroke="#7f9fcf" stroke-width="0.5"/>
<path d="M655.3,775.4 C655.7,776.8 655.9,778.3 655.7,779.8 C655.5,781.2 655,782.7 654.4,784.1 C653.7,785.4 652.6,786.6 651.6,787.8 C650.5,788.9 649.2,790 648.1,791 C647,792 645.8,792.8 644.8,793.8 C643.9,794.8 643,795.8 642.3,796.9 C641.5,798 641,799.2 640.3,800.3 C639.6,801.5 639,802.9 638.2,804 C637.4,805.2 636.5,806.4 635.4,807.2 C634.3,808.1 632.9,808.9 631.6,809.3 C630.2,809.8 628.6,809.9 627.1,810 C625.5,810 623.9,809.8 622.5,809.6 C621,809.4 619.5,809.1 618.2,808.9 C616.8,808.7 615.5,808.6 614.3,808.5 C613,808.5 611.8,808.6 610.5,808.7 C609.3,808.9 608,809.1 606.7,809.3 C605.4,809.4 604.1,809.6 602.7,809.7 C601.3,809.8 599.9,809.8 598.5,809.8 C597.1,809.7 595.7,809.6 594.2,809.5 C592.7,809.4 591.2,809.3 589.6,809.1 C588,808.9 586.4,808.8 584.7,808.4 C583.1,808.1 581.3,807.8 579.7,807.2 C578.2,806.6 576.5,805.9 575.3,804.9 C574,804 572.9,802.7 572.2,801.3 C571.4,800 571.1,798.3 571,796.7 C570.9,795 571.2,793.2 571.6,791.5 C571.9,789.9 572.6,788.2 573.1,786.7 C573.6,785.2 574.2,783.8 574.5,782.5 C574.8,781.2 575,780 575,778.8 C575,777.7 574.7,776.6 574.4,775.4 C574.1,774.2 573.6,773 573.4,771.7 C573.1,770.5 572.8,769.2 572.8,767.9 C572.8,766.6 572.9,765.3 573.2,764.1 C573.5,762.8 574,761.6 574.6,760.5 C575.2,759.3 575.9,758.2 576.5,757.1 C577.2,756 577.9,754.9 578.7,753.8 C579.4,752.7 580.1,751.6 580.9,750.5 C581.6,749.4 582.4,748.3 583.4,747.3 C584.3,746.3 585.3,745.3 586.4,744.5 C587.5,743.6 588.8,742.9 590,742.3 C591.3,741.6 592.6,741.2 593.9,740.6 C595.2,740.1 596.6,739.7 597.9,739.1 C599.2,738.6 600.5,738 601.8,737.3 C603.2,736.6 604.5,735.8 606,735.2 C607.4,734.5 609,733.7 610.5,733.3 C612.1,732.9 613.8,732.5 615.3,732.6 C616.9,732.6 618.6,733 620,733.7 C621.5,734.4 622.8,735.5 624,736.7 C625.1,738 626.1,739.6 626.9,741 C627.8,742.5 628.4,744.1 629.1,745.5 C629.7,746.8 630.3,748.1 631,749.2 C631.7,750.2 632.4,751.1 633.2,751.8 C634.1,752.6 635.1,753.2 636.2,753.8 C637.2,754.5 638.4,755 639.5,755.7 C640.6,756.4 641.8,757.1 642.9,758 C644,758.8 645,759.7 646,760.7 C647,761.6 647.9,762.7 648.8,763.8 C649.7,764.9 650.5,766.1 651.4,767.3 C652.2,768.5 653,769.8 653.7,771.1 C654.4,772.5 655,773.9 655.3,775.4Z" fill="#f4a898" stroke="#d9806c" stroke-width="0.7"/><path d="M10.9,0 L10.7,1.4 L10.3,2.8 L9.9,4.1 L9.4,5.4 L8.6,6.6 L7.4,7.4 L5.9,7.7 L4.5,7.8 L3.3,8 L2.2,8.4 L1.2,9 L0,9.6 L-1.3,9.8 L-2.6,9.7 L-3.9,9.3 L-5.1,8.9 L-6.5,8.5 L-7.9,7.9 L-9,6.9 L-9.6,5.6 L-9.6,4 L-9.4,2.5 L-9.1,1.2 L-9.1,0 L-9.2,-1.2 L-9.1,-2.4 L-8.6,-3.6 L-8,-4.6 L-7.3,-5.6 L-6.8,-6.8 L-6.2,-8.1 L-5.5,-9.5 L-4.4,-10.5 L-2.9,-10.9 L-1.4,-10.8 L-0,-10.4 L1.3,-10 L2.6,-9.6 L3.8,-9.2 L4.9,-8.4 L5.6,-7.4 L6.2,-6.2 L6.8,-5.2 L7.7,-4.4 L8.8,-3.7 L9.9,-2.7 L10.7,-1.4Z" fill="#d9644f" transform="translate(603.5 770) scale(1.8 1.7)"/><path d="M9.9,0 L10.3,1.4 L10.4,2.8 L10.3,4.2 L9.5,5.5 L8.4,6.5 L7.2,7.2 L6,7.8 L4.8,8.4 L3.7,8.9 L2.5,9.3 L1.2,9.3 L0,9.2 L-1.2,9 L-2.4,9 L-3.8,9.1 L-5.2,9 L-6.6,8.6 L-7.7,7.7 L-8.5,6.5 L-9.1,5.3 L-9.6,4 L-10,2.7 L-10.2,1.3 L-10.1,0 L-9.6,-1.3 L-8.9,-2.4 L-8.2,-3.4 L-7.8,-4.5 L-7.4,-5.7 L-7,-7 L-6.2,-8.1 L-5.2,-9 L-4,-9.6 L-2.7,-10.1 L-1.4,-10.5 L-0,-10.8 L1.4,-10.8 L2.8,-10.3 L3.9,-9.4 L4.8,-8.3 L5.6,-7.3 L6.4,-6.4 L7.3,-5.6 L8.2,-4.7 L8.9,-3.7 L9.3,-2.5 L9.6,-1.3Z" fill="#cf5744" transform="translate(611.4 798) scale(1 0.9)"/><circle cx="578.6" cy="776.1" r="2" fill="#e46c58"/><circle cx="598" cy="799.4" r="1.9" fill="#e46c58"/><circle cx="580.9" cy="777.4" r="1.7" fill="#e46c58"/><circle cx="597.3" cy="797.3" r="1.9" fill="#e46c58"/><circle cx="636.7" cy="755.9" r="1.9" fill="#e46c58"/><circle cx="594.6" cy="799" r="1.4" fill="#e46c58"/><circle cx="606.6" cy="748.5" r="1.6" fill="#e46c58"/><circle cx="639.8" cy="771.6" r="2.2" fill="#e46c58"/><circle cx="585.3" cy="753.8" r="1.9" fill="#e46c58"/><circle cx="625.1" cy="802.9" r="1.5" fill="#e46c58"/><circle cx="587.8" cy="788.7" r="1.3" fill="#e46c58"/><circle cx="593.1" cy="792.6" r="1.6" fill="#e46c58"/><circle cx="632.1" cy="747.6" r="1.7" fill="#e46c58"/><circle cx="633.6" cy="792.1" r="1.3" fill="#e46c58"/><circle cx="617.2" cy="804.4" r="1.9" fill="#e46c58"/><circle cx="641.1" cy="780.6" r="1.7" fill="#e46c58"/><path d="M10.1,0 L9.6,1.3 L8.8,2.3 L8.1,3.3 L7.6,4.4 L7.3,5.6 L6.9,6.9 L6.2,8.1 L5.2,9 L4,9.6 L2.7,10.1 L1.4,10.6 L0,11 L-1.4,11 L-2.8,10.5 L-3.9,9.5 L-4.8,8.3 L-5.5,7.2 L-6.3,6.3 L-7.3,5.6 L-8.2,4.7 L-8.8,3.7 L-9.2,2.5 L-9.5,1.3 L-9.9,0 L-10.3,-1.4 L-10.6,-2.8 L-10.4,-4.3 L-9.7,-5.6 L-8.5,-6.6 L-7.2,-7.2 L-6,-7.8 L-4.8,-8.3 L-3.7,-8.9 L-2.5,-9.2 L-1.2,-9.3 L-0,-9 L1.2,-8.9 L2.4,-8.9 L3.7,-9 L5.2,-9 L6.6,-8.7 L7.8,-7.8 L8.6,-6.6 L9.2,-5.3 L9.7,-4 L10.1,-2.7 L10.3,-1.4Z" fill="#f4a898" stroke="#d9806c" stroke-width="0.6" transform="translate(560.8 745.6) scale(1.2 1.3)"/><circle cx="556.8" cy="739.5" r="1.2" fill="#e46c58"/><circle cx="560.8" cy="751.8" r="1.2" fill="#e46c58"/><circle cx="558.3" cy="745.4" r="1.2" fill="#e46c58"/><circle cx="567.1" cy="738.9" r="1.2" fill="#e46c58"/><path d="M10.8,0 L10.1,1.3 L9.3,2.5 L8.6,3.6 L8.1,4.7 L7.4,5.7 L6.6,6.6 L5.6,7.3 L4.6,7.9 L3.6,8.6 L2.5,9.5 L1.4,10.4 L0,11 L-1.5,11.1 L-2.9,10.7 L-4.1,9.8 L-5.2,8.9 L-6.2,8 L-7.1,7.1 L-7.9,6 L-8.3,4.8 L-8.4,3.5 L-8.5,2.3 L-8.7,1.1 L-9.2,0 L-9.7,-1.3 L-10,-2.7 L-9.9,-4.1 L-9.3,-5.3 L-8.4,-6.5 L-7.5,-7.5 L-6.6,-8.6 L-5.4,-9.4 L-4.1,-9.9 L-2.6,-9.8 L-1.2,-9.4 L-0,-9 L1.1,-8.7 L2.3,-8.7 L3.6,-8.6 L4.8,-8.4 L6,-7.8 L7,-7 L8,-6.1 L9,-5.2 L10.1,-4.2 L10.9,-2.9 L11.1,-1.5Z" fill="#f4a898" stroke="#d9806c" stroke-width="0.6" transform="translate(634.4 741) scale(1.9 1.7)"/><circle cx="639.5" cy="745.2" r="1.2" fill="#e46c58"/><circle cx="641.4" cy="748.6" r="1.2" fill="#e46c58"/><circle cx="641.6" cy="749.8" r="1.2" fill="#e46c58"/><circle cx="644.4" cy="741" r="1.2" fill="#e46c58"/><path d="M10,0 L10.1,1.3 L10.3,2.7 L10.2,4.2 L9.8,5.7 L8.9,6.8 L7.5,7.5 L6.1,7.9 L4.7,8.2 L3.5,8.5 L2.4,8.9 L1.2,9.3 L0,9.3 L-1.2,9.1 L-2.4,8.9 L-3.6,8.8 L-5,8.7 L-6.5,8.5 L-7.9,7.9 L-8.9,6.9 L-9.5,5.5 L-9.7,4 L-9.9,2.6 L-10,1.3 L-10,0 L-9.7,-1.3 L-9.1,-2.4 L-8.3,-3.4 L-7.5,-4.3 L-7,-5.4 L-6.6,-6.6 L-6.1,-8 L-5.3,-9.2 L-4.1,-10 L-2.8,-10.4 L-1.4,-10.6 L-0,-10.7 L1.4,-10.7 L2.8,-10.4 L4,-9.7 L5,-8.6 L5.6,-7.3 L6.2,-6.2 L6.9,-5.3 L7.8,-4.5 L8.7,-3.6 L9.5,-2.5 L9.9,-1.3Z" fill="#f4a898" stroke="#d9806c" stroke-width="0.6" transform="translate(553.5 773.5) scale(0.9 1)"/><circle cx="549.3" cy="769.2" r="1.2" fill="#e46c58"/><circle cx="550.6" cy="777.9" r="1.2" fill="#e46c58"/><circle cx="549.8" cy="768.3" r="1.2" fill="#e46c58"/><circle cx="552.5" cy="775.2" r="1.2" fill="#e46c58"/><path d="M9.2,0 L8.8,1.2 L8.7,2.3 L8.7,3.6 L8.5,4.9 L7.9,6.1 L7.1,7.1 L6.1,8 L5.1,8.9 L4.1,9.8 L2.8,10.6 L1.4,11 L0,10.8 L-1.3,10.1 L-2.5,9.3 L-3.6,8.6 L-4.7,8.1 L-5.8,7.5 L-6.8,6.8 L-7.5,5.8 L-8.1,4.7 L-8.7,3.6 L-9.4,2.5 L-10.2,1.3 L-10.8,0 L-11,-1.4 L-10.6,-2.8 L-9.8,-4 L-8.8,-5.1 L-7.9,-6.1 L-7.1,-7.1 L-6.1,-7.9 L-4.9,-8.5 L-3.6,-8.7 L-2.3,-8.7 L-1.2,-8.9 L-0,-9.2 L1.3,-9.7 L2.7,-10 L4.1,-9.8 L5.3,-9.2 L6.4,-8.3 L7.4,-7.4 L8.3,-6.4 L9.2,-5.3 L9.8,-4.1 L9.9,-2.7 L9.6,-1.3Z" fill="#f4a898" stroke="#d9806c" stroke-width="0.6" transform="translate(662.4 766.7) scale(0.5 0.7)"/><circle cx="664.4" cy="767.2" r="1.2" fill="#e46c58"/><path d="M9.7,0 L10.1,1.3 L10.1,2.7 L9.7,4 L9,5.2 L8.3,6.3 L7.5,7.5 L6.6,8.6 L5.4,9.3 L4,9.6 L2.5,9.4 L1.2,9.2 L0,9 L-1.2,9 L-2.4,9.1 L-3.7,9 L-4.9,8.5 L-6,7.8 L-7,7 L-8,6.2 L-9.2,5.3 L-10.2,4.2 L-10.7,2.9 L-10.7,1.4 L-10.3,0 L-9.7,-1.3 L-9.2,-2.5 L-8.8,-3.6 L-8.3,-4.8 L-7.6,-5.8 L-6.6,-6.6 L-5.6,-7.3 L-4.6,-8 L-3.7,-8.9 L-2.6,-9.9 L-1.4,-10.7 L-0,-11 L1.4,-10.8 L2.7,-10.2 L3.9,-9.5 L5.1,-8.8 L6.2,-8.1 L7.2,-7.2 L7.8,-6 L8.1,-4.7 L8.3,-3.4 L8.6,-2.3 L9.1,-1.2Z" fill="#f4a898" stroke="#d9806c" stroke-width="0.6" transform="translate(578.3 812.7) scale(1.3 1)"/><circle cx="575.8" cy="807.8" r="1.2" fill="#e46c58"/><circle cx="583.5" cy="809.1" r="1.2" fill="#e46c58"/><circle cx="573.6" cy="812.2" r="1.2" fill="#e46c58"/><circle cx="575.7" cy="817.6" r="1.2" fill="#e46c58"/><path d="M9,0 L8.9,1.2 L8.9,2.4 L8.8,3.6 L8.4,4.8 L7.7,5.9 L6.9,6.9 L6.1,8 L5.3,9.2 L4.2,10.2 L2.9,10.9 L1.4,11 L0,10.5 L-1.3,9.9 L-2.5,9.3 L-3.7,8.8 L-4.8,8.3 L-5.8,7.5 L-6.6,6.6 L-7.2,5.5 L-7.8,4.5 L-8.7,3.6 L-9.7,2.6 L-10.6,1.4 L-11,0 L-10.9,-1.4 L-10.4,-2.8 L-9.7,-4 L-9,-5.2 L-8.2,-6.3 L-7.3,-7.3 L-6.1,-7.9 L-4.7,-8.2 L-3.4,-8.2 L-2.3,-8.4 L-1.2,-8.9 L-0,-9.5 L1.3,-9.9 L2.7,-10 L4,-9.7 L5.2,-9 L6.4,-8.3 L7.6,-7.6 L8.7,-6.7 L9.5,-5.5 L9.8,-4.1 L9.6,-2.6 L9.2,-1.2Z" fill="#f4a898" stroke="#d9806c" stroke-width="0.6" transform="translate(644.6 814.6) scale(1.7 1.3)"/><circle cx="646.3" cy="808.8" r="1.2" fill="#e46c58"/><circle cx="646.4" cy="809.7" r="1.2" fill="#e46c58"/><circle cx="642.2" cy="809.3" r="1.2" fill="#e46c58"/><circle cx="644.5" cy="808.5" r="1.2" fill="#e46c58"/><path d="M9.1,0 L9,1.2 L8.9,2.4 L8.8,3.6 L8.3,4.8 L7.6,5.8 L6.8,6.8 L6,7.8 L5.2,9 L4.2,10.1 L2.9,10.8 L1.5,11 L0,10.7 L-1.3,10.1 L-2.5,9.4 L-3.7,8.9 L-4.8,8.4 L-5.9,7.6 L-6.6,6.6 L-7.2,5.5 L-7.8,4.5 L-8.5,3.5 L-9.4,2.5 L-10.3,1.4 L-10.9,0 L-10.9,-1.4 L-10.4,-2.8 L-9.7,-4 L-9,-5.2 L-8.2,-6.3 L-7.3,-7.3 L-6.2,-8 L-4.8,-8.4 L-3.5,-8.4 L-2.3,-8.5 L-1.2,-8.8 L-0,-9.3 L1.3,-9.8 L2.6,-9.9 L4,-9.6 L5.2,-9 L6.3,-8.2 L7.5,-7.5 L8.6,-6.6 L9.5,-5.5 L10,-4.1 L9.9,-2.6 L9.5,-1.2Z" fill="#f4a898" stroke="#d9806c" stroke-width="0.6" transform="translate(607.4 826.5) scale(0.8 0.5)"/><circle cx="606.8" cy="826.2" r="1.2" fill="#e46c58"/><circle cx="608.7" cy="827.5" r="1.2" fill="#e46c58"/><circle cx="606.3" cy="828.7" r="1.2" fill="#e46c58"/><circle cx="611.8" cy="828" r="1.2" fill="#e46c58"/>
<path d="M547,797.7 Q490,785 467,735" fill="none" stroke="#111" stroke-width="1.6" marker-end="url(#ah)"/>
<circle cx="640" cy="555" r="6" fill="#2f9aa8"/>
<circle cx="627" cy="567.7" r="3.5" fill="#f9d66a"/>
<circle cx="653.4" cy="576.6" r="6" fill="#f9d66a"/>
<circle cx="676.6" cy="571.4" r="6" fill="#2f9aa8"/>
<circle cx="701.4" cy="549.8" r="6" fill="#f9d66a"/>
<circle cx="718" cy="561.4" r="5" fill="#f9d66a"/>
<circle cx="696.5" cy="577" r="3.5" fill="#f9d66a"/>
<path d="M621.6,582 Q665,550 726,582" fill="none" stroke="#111" stroke-width="1.6" marker-end="url(#ah)"/>
<path d="M782.6,564 L789.5,552 Q794.3,547.5 795.8,541.1" fill="none" stroke="#9dbbe3" stroke-width="3.9" stroke-linecap="round" stroke-linejoin="round"/><path d="M782.6,564 L790.5,550.4" fill="none" stroke="#9dbbe3" stroke-width="7.5" stroke-linecap="round"/><path d="M782.6,564 L769.6,559.3 Q763,558.9 757.7,555" fill="none" stroke="#9dbbe3" stroke-width="4.1" stroke-linecap="round" stroke-linejoin="round"/><path d="M782.6,564 L767.8,558.6" fill="none" stroke="#9dbbe3" stroke-width="7.9" stroke-linecap="round"/><path d="M782.6,564 L769.6,568.7 Q764.4,569.3 760.1,572.2" fill="none" stroke="#9dbbe3" stroke-width="4.1" stroke-linecap="round" stroke-linejoin="round"/><path d="M782.6,564 L767.8,569.4" fill="none" stroke="#9dbbe3" stroke-width="7.9" stroke-linecap="round"/><path d="M782.6,564 L781.4,577.8 Q782.2,583.6 780.4,589.1" fill="none" stroke="#9dbbe3" stroke-width="3.9" stroke-linecap="round" stroke-linejoin="round"/><path d="M782.6,564 L781.2,579.7" fill="none" stroke="#9dbbe3" stroke-width="7.5" stroke-linecap="round"/><path d="M782.6,564 L775.7,576 Q772.4,579.2 771.3,583.6" fill="none" stroke="#9dbbe3" stroke-width="3.9" stroke-linecap="round" stroke-linejoin="round"/><path d="M782.6,564 L774.7,577.6" fill="none" stroke="#9dbbe3" stroke-width="7.5" stroke-linecap="round"/><path d="M782.6,564 L796.4,565.2 Q801.9,567 807.7,566.2" fill="none" stroke="#9dbbe3" stroke-width="3.9" stroke-linecap="round" stroke-linejoin="round"/><path d="M782.6,564 L798.3,565.4" fill="none" stroke="#9dbbe3" stroke-width="7.5" stroke-linecap="round"/><path d="M782.6,564 L795.2,558.1 Q799.2,554.9 804.3,553.9" fill="none" stroke="#9dbbe3" stroke-width="3.9" stroke-linecap="round" stroke-linejoin="round"/><path d="M782.6,564 L796.9,557.3" fill="none" stroke="#9dbbe3" stroke-width="7.5" stroke-linecap="round"/><path d="M782.6,564 L794.6,570.9 Q797.8,574.2 802.2,575.3" fill="none" stroke="#9dbbe3" stroke-width="3.9" stroke-linecap="round" stroke-linejoin="round"/><path d="M782.6,564 L796.2,571.9" fill="none" stroke="#9dbbe3" stroke-width="7.5" stroke-linecap="round"/><path d="M782.6,564 L780.2,550.4 Q779.5,546.6 778.9,542.9" fill="none" stroke="#9dbbe3" stroke-width="3.9" stroke-linecap="round" stroke-linejoin="round"/><path d="M782.6,564 L779.9,548.5" fill="none" stroke="#9dbbe3" stroke-width="7.5" stroke-linecap="round"/><path d="M782.6,564 L774.7,552.6 Q772.8,547.8 768.9,544.4" fill="none" stroke="#9dbbe3" stroke-width="3.9" stroke-linecap="round" stroke-linejoin="round"/><path d="M782.6,564 L773.6,551.1" fill="none" stroke="#9dbbe3" stroke-width="7.5" stroke-linecap="round"/><path d="M782.6,564 L789.5,576 Q790.8,578.2 792.1,580.4" fill="none" stroke="#9dbbe3" stroke-width="3.5" stroke-linecap="round" stroke-linejoin="round"/><path d="M782.6,564 L790.5,577.6" fill="none" stroke="#9dbbe3" stroke-width="6.6" stroke-linecap="round"/><circle cx="782.6" cy="564" r="13.1" fill="#9dbbe3"/><path d="M782.6,564 L789.5,552 Q794.3,547.5 795.8,541.1" fill="none" stroke="#b9d2ec" stroke-width="3" stroke-linecap="round" stroke-linejoin="round"/><path d="M782.6,564 L790.5,550.4" fill="none" stroke="#b9d2ec" stroke-width="6.6" stroke-linecap="round"/><path d="M782.6,564 L769.6,559.3 Q763,558.9 757.7,555" fill="none" stroke="#b9d2ec" stroke-width="3.2" stroke-linecap="round" stroke-linejoin="round"/><path d="M782.6,564 L767.8,558.6" fill="none" stroke="#b9d2ec" stroke-width="7" stroke-linecap="round"/><path d="M782.6,564 L769.6,568.7 Q764.4,569.3 760.1,572.2" fill="none" stroke="#b9d2ec" stroke-width="3.2" stroke-linecap="round" stroke-linejoin="round"/><path d="M782.6,564 L767.8,569.4" fill="none" stroke="#b9d2ec" stroke-width="7" stroke-linecap="round"/><path d="M782.6,564 L781.4,577.8 Q782.2,583.6 780.4,589.1" fill="none" stroke="#b9d2ec" stroke-width="3" stroke-linecap="round" stroke-linejoin="round"/><path d="M782.6,564 L781.2,579.7" fill="none" stroke="#b9d2ec" stroke-width="6.6" stroke-linecap="round"/><path d="M782.6,564 L775.7,576 Q772.4,579.2 771.3,583.6" fill="none" stroke="#b9d2ec" stroke-width="3" stroke-linecap="round" stroke-linejoin="round"/><path d="M782.6,564 L774.7,577.6" fill="none" stroke="#b9d2ec" stroke-width="6.6" stroke-linecap="round"/><path d="M782.6,564 L796.4,565.2 Q801.9,567 807.7,566.2" fill="none" stroke="#b9d2ec" stroke-width="3" stroke-linecap="round" stroke-linejoin="round"/><path d="M782.6,564 L798.3,565.4" fill="none" stroke="#b9d2ec" stroke-width="6.6" stroke-linecap="round"/><path d="M782.6,564 L795.2,558.1 Q799.2,554.9 804.3,553.9" fill="none" stroke="#b9d2ec" stroke-width="3" stroke-linecap="round" stroke-linejoin="round"/><path d="M782.6,564 L796.9,557.3" fill="none" stroke="#b9d2ec" stroke-width="6.6" stroke-linecap="round"/><path d="M782.6,564 L794.6,570.9 Q797.8,574.2 802.2,575.3" fill="none" stroke="#b9d2ec" stroke-width="3" stroke-linecap="round" stroke-linejoin="round"/><path d="M782.6,564 L796.2,571.9" fill="none" stroke="#b9d2ec" stroke-width="6.6" stroke-linecap="round"/><path d="M782.6,564 L780.2,550.4 Q779.5,546.6 778.9,542.9" fill="none" stroke="#b9d2ec" stroke-width="3" stroke-linecap="round" stroke-linejoin="round"/><path d="M782.6,564 L779.9,548.5" fill="none" stroke="#b9d2ec" stroke-width="6.6" stroke-linecap="round"/><path d="M782.6,564 L774.7,552.6 Q772.8,547.8 768.9,544.4" fill="none" stroke="#b9d2ec" stroke-width="3" stroke-linecap="round" stroke-linejoin="round"/><path d="M782.6,564 L773.6,551.1" fill="none" stroke="#b9d2ec" stroke-width="6.6" stroke-linecap="round"/><path d="M782.6,564 L789.5,576 Q790.8,578.2 792.1,580.4" fill="none" stroke="#b9d2ec" stroke-width="2.6" stroke-linecap="round" stroke-linejoin="round"/><path d="M782.6,564 L790.5,577.6" fill="none" stroke="#b9d2ec" stroke-width="5.7" stroke-linecap="round"/><circle cx="782.6" cy="564" r="12.6" fill="#b9d2ec"/><circle cx="782.6" cy="564" r="7.6" fill="#4a6aae"/><circle cx="782.2" cy="563.4" r="6.8" fill="#5b7ec2"/>
<path d="M772.7,629.4 L733,596 M778,624 L745,590" stroke="#bfe3cc" stroke-width="3"/><path d="M727,598 Q728,590 736,592 M745,590 Q742,582 752,584" stroke="#bfe3cc" stroke-width="4" fill="none"/>
<circle cx="740" cy="588" r="7.3" fill="#f9d66a"/>
<path d="M796,622 L796,600 M802,622 L802,600" stroke="#7f9fd0" stroke-width="3"/>
<polygon points="802.8,596.8 798,599.5 793.2,596.8 793.2,591.2 798,588.5 802.8,591.2" fill="#b8cfe8" stroke="#7f9fcf" stroke-width="0.6"/><line x1="802.8" y1="596.8" x2="805.1" y2="598.1" stroke="#7f9fcf" stroke-width="0.5"/><line x1="798" y1="599.5" x2="798" y2="602.2" stroke="#7f9fcf" stroke-width="0.5"/><line x1="793.2" y1="596.8" x2="790.9" y2="598.1" stroke="#7f9fcf" stroke-width="0.5"/><line x1="793.2" y1="591.2" x2="790.9" y2="589.9" stroke="#7f9fcf" stroke-width="0.5"/><line x1="798" y1="588.5" x2="798" y2="585.8" stroke="#7f9fcf" stroke-width="0.5"/><line x1="802.8" y1="591.2" x2="805.1" y2="589.9" stroke="#7f9fcf" stroke-width="0.5"/>
<circle cx="796" cy="646" r="41.4" fill="#bdd4f0" stroke="#9dbbe3" stroke-width="1"/><circle cx="793" cy="649" r="25" fill="#4f6fb3"/><circle cx="791.8" cy="647" r="23" fill="#5d80c3"/>
<path d="M906.8,697 L904,702.7 L902.3,708.2 L901.1,713.8 L899.2,719.4 L896.8,724.9 L892.5,729 L886.8,731.3 L882.5,735.1 L878.6,740.8 L872.7,742.6 L866.3,740.8 L860.5,741 L854.5,742.7 L848.5,741.8 L843.1,738.9 L838.3,735.4 L834.2,731.3 L829.5,728 L823.9,725.1 L821,719.8 L821.1,713.3 L818.8,708.2 L814.4,703.1 L813.7,697 L816.1,691.1 L817.5,685.5 L818.6,679.7 L820.7,674 L823.4,668.6 L828.1,664.6 L834.2,662.8 L838.7,659.3 L842.7,654.1 L848.6,652.6 L854.9,654.5 L860.5,654.2 L866.4,652.2 L872.4,652.7 L877.9,655.1 L883,658.1 L887.4,661.9 L892.4,665.1 L898.2,668.1 L901.1,673.6 L900.7,680.3 L902.6,685.7 L906.6,690.9Z" fill="#dcc7e6" stroke="#cdb3da" stroke-width="0.8"/><circle cx="885.4" cy="692.5" r="1.9" fill="#b08bc2"/><circle cx="893" cy="709.5" r="1.4" fill="#b08bc2"/><circle cx="874.2" cy="721.6" r="2.5" fill="#b08bc2"/><circle cx="864.3" cy="725" r="1.8" fill="#b08bc2"/><circle cx="850.5" cy="719.2" r="1.9" fill="#b08bc2"/><circle cx="836.3" cy="716.9" r="1.4" fill="#b08bc2"/><circle cx="831" cy="699.2" r="2.6" fill="#b08bc2"/><circle cx="836.2" cy="687.8" r="2.4" fill="#b08bc2"/><circle cx="837.6" cy="670.6" r="2.1" fill="#b08bc2"/><circle cx="857.3" cy="663" r="2.4" fill="#b08bc2"/><circle cx="875.5" cy="666.8" r="1.6" fill="#b08bc2"/><circle cx="887.5" cy="682.9" r="2.4" fill="#b08bc2"/><circle cx="860.5" cy="697" r="18" fill="#9266a6"/><circle cx="859.4" cy="695.6" r="16.2" fill="#a47bb8"/>
<line x1="844" y1="669" x2="844" y2="633" stroke="#a274b4" stroke-width="2.5"/><ellipse cx="844" cy="633" rx="7.5" ry="4" fill="#c9a5d6"/><circle cx="844" cy="627.7" r="6" fill="#2f9aa8"/>
<circle cx="733" cy="680.7" r="41.4" fill="#d5ebdd" stroke="#b9dcc6" stroke-width="1"/><circle cx="746.1" cy="710.9" r="1.4" fill="#9cc4ab"/><circle cx="747.7" cy="690.2" r="1.4" fill="#9cc4ab"/><circle cx="753.4" cy="688.1" r="1.4" fill="#9cc4ab"/><circle cx="717.9" cy="695.2" r="1.4" fill="#9cc4ab"/><circle cx="719.8" cy="700.5" r="1.4" fill="#9cc4ab"/><circle cx="708" cy="693" r="1.4" fill="#9cc4ab"/><circle cx="723.2" cy="707.3" r="1.4" fill="#9cc4ab"/><circle cx="727.3" cy="712.1" r="1.4" fill="#9cc4ab"/><circle cx="739.6" cy="699.9" r="1.4" fill="#9cc4ab"/><circle cx="719.7" cy="697.7" r="1.4" fill="#9cc4ab"/><circle cx="735.6" cy="665.7" r="19" fill="#4f8a6c"/><circle cx="734.6" cy="664.2" r="17.1" fill="#63997c"/>
<path d="M708,650 L697,638 M712,646 L703,634" stroke="#bfe3cc" stroke-width="2.4"/><circle cx="697" cy="637" r="5" fill="#f9d66a"/>
<circle cx="800" cy="688" r="19" fill="#f8c6d0" stroke="#f0b0bf" stroke-width="1"/><circle cx="800" cy="688" r="11.6" fill="#c9566f"/><circle cx="799.4" cy="687.1" r="10.7" fill="#d96f86"/>
<circle cx="799" cy="732" r="34" fill="#bdd4f0" stroke="#9dbbe3" stroke-width="1"/><circle cx="797" cy="734" r="20.5" fill="#4f6fb3"/><circle cx="796" cy="732.4" r="18.9" fill="#5d80c3"/>
<path d="M786,765 Q760,800 696,803" fill="none" stroke="#111" stroke-width="1.6" marker-end="url(#ah)"/>
<rect x="6.1" y="492.1" width="392.8" height="392.7" rx="6.7" fill="#fff" stroke="#3a3a3a" stroke-width="1.3"/>
<path d="M165.5,581.6 L165,584.2 L163.3,586.4 L163,588.9 L162.8,591.6 L161.1,593.6 L159.1,595.2 L157.3,597 L155.3,598.6 L153.2,600.2 L150.7,601 L148,600.5 L145.5,600.8 L142.8,601.7 L140.4,600.7 L138.4,598.8 L136,598.1 L133.5,597.3 L131.7,595.4 L130.3,593.3 L129,591.1 L127.7,589 L126.1,586.8 L125.7,584.2 L126.5,581.6 L126.3,579.1 L125.7,576.3 L127,573.9 L129.1,572.1 L130.2,569.8 L131.5,567.6 L133.6,566 L135.8,564.9 L138.3,564.2 L140.6,563.3 L142.9,561.8 L145.5,561.8 L147.9,563.1 L150.5,563.1 L153.3,562.8 L155.5,564.3 L157.2,566.3 L159.3,567.8 L161.3,569.5 L162.8,571.6 L163.7,574.1 L163.8,576.7 L164.3,579.1Z" fill="#f2a896" stroke="#e58d7b" stroke-width="0.8"/><path d="M162.2,580.8 L162.3,582.9 L161.6,584.9 L160.3,586.6 L159.1,588.2 L158.3,590 L157.5,592 L156,593.5 L154.1,594.4 L152.1,595 L150.3,595.6 L148.3,596.1 L146.3,596.3 L144.2,596.5 L142.1,596.5 L140,595.9 L138.4,594.4 L137.1,592.8 L135.6,591.5 L133.9,590.3 L132.5,588.8 L131.7,586.8 L131.3,584.8 L131,582.8 L131,580.8 L131.3,578.9 L131.5,576.9 L131.5,574.7 L132.1,572.6 L133.5,571 L135.4,569.9 L137,568.8 L138.5,567.3 L140.2,566.2 L142.2,565.5 L144.2,565.2 L146.3,565.1 L148.3,565.6 L150.1,566.4 L152,567.1 L154,567.4 L156.1,568 L157.7,569.4 L158.6,571.3 L159.5,573.2 L160.6,574.9 L161.5,576.8 L162,578.8Z" fill="#f5b1a1"/><circle cx="145.5" cy="582.6" r="8.4" fill="#cf5742"/><circle cx="145" cy="581.8" r="7.6" fill="#e2705c"/>
<path d="M222.3,579.5 L222.2,582.1 L220.7,584.4 L220,586.7 L219.4,589.3 L218.2,591.5 L216.5,593.5 L214.3,594.9 L212.1,596.1 L210.2,598.1 L207.8,599.2 L205,598.5 L202.5,598.5 L199.9,599.4 L197.4,598.7 L195.2,597.1 L193,595.9 L190.8,594.7 L188.7,593.3 L186.8,591.5 L186,589 L185.1,586.7 L183.1,584.7 L182.3,582.2 L183.3,579.5 L183.5,577 L183,574.3 L184,571.8 L185.6,569.8 L187.3,567.8 L188.9,565.9 L190.5,563.9 L192.6,562.3 L195.3,562.1 L197.7,561.6 L199.9,559.8 L202.5,559.5 L205,560.7 L207.4,561 L210.1,561 L212.5,562.1 L214.5,563.8 L216.2,565.8 L217.8,567.8 L219.8,569.5 L221.1,571.8 L220.8,574.6 L221,577.1Z" fill="#f2a896" stroke="#e58d7b" stroke-width="0.8"/><path d="M219.2,578.7 L218.9,580.8 L218.2,582.7 L217.2,584.5 L216.3,586.3 L215.7,588.2 L214.7,590.1 L212.9,591.3 L210.9,591.9 L209,592.5 L207.2,593.5 L205.3,594.3 L203.3,594.6 L201.2,594.6 L199.1,594.3 L197.2,593.4 L195.6,592 L194.1,590.7 L192.3,589.7 L190.5,588.5 L189.4,586.8 L189,584.6 L188.7,582.6 L188.3,580.7 L188,578.7 L188,576.7 L188.1,574.7 L188.4,572.5 L189.3,570.7 L190.9,569.2 L192.6,568 L193.9,566.5 L195.3,564.8 L197.1,563.7 L199.2,563.4 L201.3,563.4 L203.3,563.4 L205.3,563.7 L207.2,564.2 L209.1,564.6 L211.2,565 L213.1,565.9 L214.4,567.6 L215.3,569.5 L216.4,571.2 L217.8,572.7 L218.9,574.5 L219.2,576.6Z" fill="#f5b1a1"/><circle cx="202.5" cy="580.5" r="8.4" fill="#cf5742"/><circle cx="202" cy="579.7" r="7.6" fill="#e2705c"/>
<path d="M192.6,590 L191.5,592.4 L191.5,595 L191.1,597.5 L189.9,599.8 L188.3,601.7 L186.4,603.4 L184.7,605.3 L183.1,607.6 L180.6,608.4 L177.9,608.2 L175.6,609.4 L173,610.5 L170.4,609.6 L168.1,608.4 L165.6,607.9 L163.2,607 L161,605.6 L159.3,603.7 L158.2,601.4 L156.5,599.5 L154.4,597.7 L154,595.1 L154.5,592.4 L153.6,590 L152.8,587.3 L153.8,584.9 L155.1,582.6 L156.1,580.3 L157.4,578 L158.8,575.8 L161,574.4 L163.6,573.8 L165.7,572.4 L167.8,570.6 L170.5,570.7 L173,571.5 L175.5,571 L178.2,570.7 L180.5,571.8 L182.7,573.2 L184.8,574.7 L186.9,576.1 L189.1,577.6 L190.3,580 L190.4,582.8 L191.7,585 L193.2,587.3Z" fill="#f2a896" stroke="#e58d7b" stroke-width="0.8"/><path d="M190,589.2 L189.4,591.3 L188.4,593.1 L187.8,595 L187.5,597.1 L186.6,599.1 L185,600.5 L183.2,601.5 L181.4,602.4 L179.6,603.2 L177.7,603.8 L175.8,604.3 L173.8,605 L171.7,605.3 L169.7,604.6 L167.9,603.4 L166.2,602.3 L164.3,601.6 L162.4,600.6 L161,599 L160,597.2 L159.2,595.2 L158.8,593.2 L158.9,591.2 L158.8,589.2 L158.5,587.2 L158.3,585.1 L159,583.1 L160.4,581.5 L161.8,580.1 L163,578.4 L164.2,576.7 L165.8,575.4 L167.6,574.4 L169.6,573.6 L171.7,573.4 L173.8,573.8 L175.7,574.4 L177.7,574.5 L179.9,574.5 L181.8,575.3 L183.3,576.9 L184.5,578.5 L185.8,580 L187,581.6 L188.1,583.3 L189,585.1 L189.8,587.1Z" fill="#f5b1a1"/><circle cx="173" cy="591" r="8.4" fill="#cf5742"/><circle cx="172.5" cy="590.2" r="7.6" fill="#e2705c"/>
<path d="M134.1,615.4 L134.3,617.9 L134.2,620.5 L132.6,622.7 L131,624.6 L130.6,627.4 L129.3,629.7 L126.7,630.6 L124.5,631.9 L122.6,633.7 L120.2,634.8 L117.6,635.1 L115,634.9 L112.5,634.4 L109.9,634.5 L107.3,634.1 L105.4,632 L103.7,630.1 L101.1,629.3 L99.2,627.6 L98.5,624.9 L97.6,622.6 L96.2,620.4 L95.4,618 L95.1,615.4 L95.7,612.9 L96.5,610.5 L96.6,607.8 L97.2,605.1 L99.6,603.6 L101.7,602.1 L102.9,599.7 L105,598.1 L107.7,597.7 L110.1,597.1 L112.5,596.4 L115,595.9 L117.6,595.8 L120,596.8 L122.2,598.1 L124.9,598.2 L127.5,599.1 L128.7,601.7 L130.1,603.8 L132.3,605.4 L133.6,607.7 L133.9,610.3 L134.1,612.9Z" fill="#f2a896" stroke="#e58d7b" stroke-width="0.8"/><path d="M131.6,614.6 L131.3,616.7 L130.8,618.6 L130.1,620.6 L129.1,622.3 L127.9,623.9 L126.8,625.7 L125.7,627.5 L124,628.9 L121.9,629.3 L119.7,629.3 L117.8,629.6 L115.8,630.1 L113.7,630.2 L111.7,629.8 L109.8,629.1 L108,628.2 L106.5,626.7 L105.2,625.2 L103.8,623.8 L102,622.5 L100.6,620.9 L100.2,618.8 L100.4,616.7 L100.4,614.6 L100.4,612.6 L100.7,610.6 L101.3,608.6 L102,606.7 L103.1,604.9 L104.8,603.6 L106.7,602.8 L108.4,601.8 L109.9,600.5 L111.6,599.2 L113.7,598.7 L115.8,598.9 L117.8,599.3 L119.8,599.6 L121.7,600.3 L123.6,601.1 L125.5,602 L127.3,603.1 L128.6,604.8 L129.1,606.9 L129.5,608.9 L130.3,610.7 L131.3,612.6Z" fill="#f5b1a1"/><circle cx="115" cy="616.4" r="8.4" fill="#cf5742"/><circle cx="114.5" cy="615.6" r="7.6" fill="#e2705c"/>
<path d="M158.8,610 L158.1,612.5 L157.7,615 L157.7,617.7 L156.1,619.9 L153.7,621.3 L152.4,623.4 L151.2,625.9 L148.7,626.8 L146.2,627.4 L144,628.5 L141.6,629.4 L139,629.9 L136.4,629.6 L134.1,628.5 L131.6,627.9 L128.7,627.8 L126.8,625.9 L125.7,623.3 L123.7,621.8 L121.6,620 L120.9,617.5 L120.7,614.9 L120.2,612.5 L119.8,610 L119.4,607.4 L120,604.9 L121.7,602.8 L122.4,600.4 L122.8,597.6 L124.9,595.9 L127.4,594.9 L129.2,593.1 L131.3,591.3 L133.9,590.8 L136.5,590.7 L139,590.9 L141.5,591 L144.1,590.8 L146.5,591.9 L148.2,594 L150.6,594.9 L153.3,595.7 L154.6,598 L155.4,600.5 L157,602.6 L158.3,604.8 L158.8,607.4Z" fill="#f2a896" stroke="#e58d7b" stroke-width="0.8"/><path d="M155.3,609.2 L154.9,611.2 L154.4,613.1 L154.2,615.2 L153.9,617.4 L152.8,619.2 L150.9,620.4 L149,621.3 L147.4,622.4 L145.7,623.5 L143.8,624.3 L141.8,624.7 L139.8,625 L137.7,624.8 L135.8,623.9 L134.1,622.9 L132.2,622.3 L130.1,621.9 L128.2,620.8 L127,619 L126.3,617 L125.5,615.1 L124.8,613.2 L124.3,611.3 L124.1,609.2 L124,607.1 L124.3,605.1 L125.4,603.3 L126.9,601.8 L128.1,600.2 L128.9,598.3 L130,596.5 L131.8,595.4 L133.8,594.7 L135.8,594.2 L137.7,593.8 L139.8,593.8 L141.8,593.8 L143.9,593.8 L146,594.1 L147.8,595.3 L149.1,597.1 L150.3,598.7 L151.8,600 L153.3,601.4 L154.3,603.2 L154.9,605.2 L155.3,607.2Z" fill="#f5b1a1"/><circle cx="139" cy="611" r="8.4" fill="#cf5742"/><circle cx="138.5" cy="610.2" r="7.6" fill="#e2705c"/>
<path d="M191.9,613 L192.1,615.5 L192.8,618.3 L191.5,620.7 L189.4,622.5 L188.5,624.9 L187.4,627.4 L185,628.7 L182.6,629.6 L180.3,630.7 L178,631.6 L175.6,632.6 L173,632.5 L170.6,631.4 L168.1,631.4 L165.3,631.7 L163.1,630.1 L161.5,627.9 L159.2,626.8 L157,625.3 L155.7,623 L154.9,620.5 L154.3,618 L153.7,615.5 L152.9,613 L153.5,610.4 L155.1,608.2 L155.4,605.7 L155.6,603 L157.6,601.2 L159.8,599.8 L161.3,597.7 L163.1,595.9 L165.4,594.7 L167.9,594 L170.5,593.9 L173,593.5 L175.7,592.7 L178.2,593.7 L180.2,595.7 L182.6,596.3 L185.3,597 L186.8,599.2 L187.9,601.6 L189.5,603.5 L190.9,605.6 L192,607.9 L192.4,610.4Z" fill="#f2a896" stroke="#e58d7b" stroke-width="0.8"/><path d="M189.8,612.2 L189.7,614.3 L189.3,616.4 L188.3,618.2 L186.9,619.8 L185.7,621.4 L184.8,623.3 L183.6,625 L181.7,626 L179.6,626.4 L177.7,626.7 L175.8,627.2 L173.8,627.6 L171.7,627.7 L169.7,627.6 L167.6,627.2 L165.8,626.1 L164.4,624.5 L163.1,622.9 L161.5,621.6 L159.8,620.3 L158.8,618.4 L158.6,616.3 L158.6,614.2 L158.6,612.2 L158.8,610.2 L159.2,608.3 L159.5,606.3 L159.9,604.2 L161,602.4 L162.7,601.2 L164.6,600.3 L166.1,599 L167.7,597.5 L169.6,596.6 L171.7,596.3 L173.8,596.4 L175.8,596.7 L177.7,597.4 L179.5,598.4 L181.4,599.1 L183.4,599.7 L185.2,600.8 L186.3,602.7 L186.9,604.7 L187.7,606.5 L188.7,608.2 L189.5,610.1Z" fill="#f5b1a1"/><circle cx="173" cy="614" r="8.4" fill="#cf5742"/><circle cx="172.5" cy="613.2" r="7.6" fill="#e2705c"/>
<path d="M225.5,610 L224.9,612.5 L223.9,614.9 L223.5,617.4 L223,620.1 L220.9,621.7 L218.6,623 L217.4,625.4 L215.6,627.4 L213,627.9 L210.5,628.4 L208.1,629.3 L205.6,629.9 L203,630 L200.5,629.1 L198.3,627.6 L195.8,627 L193.2,626.2 L191.9,623.7 L190.9,621.3 L188.8,619.7 L187.3,617.6 L187,615 L186.8,612.5 L186.5,610 L186.3,607.5 L186.2,604.8 L187.4,602.5 L189.2,600.6 L189.9,598 L191,595.4 L193.6,594.4 L196.1,593.6 L198.1,591.9 L200.4,590.8 L203.1,590.7 L205.6,590.9 L208.1,591.3 L210.6,591.4 L213.3,591.5 L215.3,593.2 L216.9,595.3 L219.4,596.2 L221.8,597.6 L222.6,600.2 L223.3,602.7 L224.6,604.9 L225.4,607.4Z" fill="#f2a896" stroke="#e58d7b" stroke-width="0.8"/><path d="M221.8,609.2 L221.8,611.2 L221.6,613.3 L221.1,615.3 L219.8,617 L218.3,618.4 L217.1,619.9 L216,621.8 L214.6,623.4 L212.6,624.2 L210.4,624.4 L208.4,624.5 L206.4,624.6 L204.4,624.4 L202.4,624 L200.4,623.7 L198.4,623.1 L196.8,621.7 L195.7,619.9 L194.6,618.2 L193.1,616.9 L191.6,615.3 L190.8,613.4 L190.6,611.3 L190.6,609.2 L190.8,607.2 L191.5,605.2 L192.3,603.4 L192.8,601.4 L193.6,599.4 L195,597.9 L197,597 L199,596.4 L200.6,595.4 L202.4,594.3 L204.3,593.6 L206.4,593.4 L208.5,593.5 L210.5,593.9 L212.3,594.9 L214,596.1 L215.8,596.9 L217.8,597.8 L219.4,599.2 L220.1,601.3 L220.4,603.4 L220.9,605.3 L221.5,607.2Z" fill="#f5b1a1"/><circle cx="205.6" cy="611" r="8.4" fill="#cf5742"/><circle cx="205.1" cy="610.2" r="7.6" fill="#e2705c"/>
<path d="M248.8,615.4 L248.7,618 L247.3,620.4 L246.1,622.6 L246,625.3 L244.7,627.6 L242.1,628.7 L240.2,630.2 L238.7,632.5 L236.4,633.7 L233.8,634.2 L231.3,634.5 L228.8,634.8 L226.2,635.3 L223.5,635.1 L221.4,633.2 L219.3,631.8 L216.6,631.4 L214.5,629.7 L213.8,626.9 L212.5,624.8 L210.8,622.9 L209.9,620.5 L209.6,617.9 L209.8,615.4 L210,612.9 L209.6,610.3 L210.1,607.6 L212.2,605.8 L213.7,603.8 L214.5,601.1 L216.4,599.3 L219.2,598.7 L221.4,597.7 L223.7,596.5 L226.2,595.9 L228.8,595.8 L231.3,596.6 L233.6,597.4 L236.3,597.2 L238.8,598 L240.3,600.4 L242.1,602.1 L244.7,603.2 L246.2,605.3 L246.8,607.9 L247.6,610.4 L248.2,612.8Z" fill="#f2a896" stroke="#e58d7b" stroke-width="0.8"/><path d="M244.7,614.6 L245.3,616.7 L245.2,618.8 L244.1,620.6 L242.8,622.2 L241.7,623.9 L240.6,625.6 L239.2,627.1 L237.5,628.4 L235.8,629.5 L233.8,630.3 L231.6,630.1 L229.6,629.6 L227.6,629.5 L225.5,629.7 L223.4,629.4 L221.7,628.3 L220.2,626.8 L218.8,625.4 L217.5,623.9 L216.3,622.3 L215.3,620.6 L214.1,618.8 L213.3,616.8 L213.5,614.6 L214.3,612.6 L215,610.7 L215.3,608.7 L215.7,606.6 L216.9,604.9 L218.5,603.6 L220.2,602.4 L221.9,601.4 L223.8,600.7 L225.7,600.1 L227.6,599.2 L229.6,598.4 L231.7,598.5 L233.6,599.5 L235.4,600.6 L237.3,601.3 L239.2,602 L240.9,603.3 L242.2,604.9 L243.3,606.7 L244.1,608.6 L244.3,610.7 L244.3,612.7Z" fill="#f5b1a1"/><circle cx="228.8" cy="616.4" r="8.4" fill="#cf5742"/><circle cx="228.3" cy="615.6" r="7.6" fill="#e2705c"/>
<path d="M153.9,650 L153.4,652.6 L152.4,654.9 L151.8,657.4 L151.4,660 L149.4,661.8 L147,663 L145.7,665.2 L144.1,667.4 L141.4,668 L138.9,668.3 L136.5,669.3 L134,669.9 L131.4,669.9 L128.9,669.1 L126.7,667.7 L124.2,666.9 L121.6,666.2 L120.1,663.9 L119.3,661.3 L117.3,659.6 L115.5,657.6 L115.3,655 L115.3,652.5 L114.9,650 L114.7,647.5 L114.8,644.8 L115.8,642.5 L117.6,640.5 L118.5,638.1 L119.4,635.4 L121.9,634.3 L124.6,633.6 L126.5,631.9 L128.8,630.6 L131.4,630.6 L134,630.9 L136.5,631.2 L139,631.4 L141.6,631.7 L143.7,633.1 L145.3,635.3 L147.7,636.3 L150.2,637.6 L151.1,640.1 L151.6,642.7 L153,644.9 L153.9,647.4Z" fill="#f2a896" stroke="#e58d7b" stroke-width="0.8"/><path d="M150.1,649.2 L150.1,651.2 L149.9,653.3 L149.6,655.4 L148.6,657.2 L147,658.6 L145.4,659.9 L144.2,661.5 L142.8,663.2 L141,664.3 L138.9,664.6 L136.8,664.6 L134.8,664.6 L132.8,664.3 L130.9,663.8 L128.9,663.4 L126.8,663 L125,661.9 L123.8,660.2 L122.9,658.3 L121.7,656.8 L120.2,655.2 L119.2,653.4 L118.8,651.3 L118.9,649.2 L119.1,647.2 L119.8,645.2 L120.8,643.4 L121.6,641.6 L122.3,639.6 L123.4,637.8 L125.2,636.7 L127.2,636.2 L129.1,635.5 L130.8,634.5 L132.7,633.7 L134.8,633.4 L136.9,633.4 L138.9,633.7 L140.8,634.6 L142.4,636 L144,637.2 L145.9,638.1 L147.7,639.3 L148.7,641.2 L149.1,643.3 L149.3,645.3 L149.8,647.2Z" fill="#f5b1a1"/><circle cx="134" cy="651" r="8.4" fill="#cf5742"/><circle cx="133.5" cy="650.2" r="7.6" fill="#e2705c"/>
<path d="M231.3,651 L230.1,653.5 L229.4,655.9 L229.7,658.7 L228.5,661.1 L226.1,662.6 L224.4,664.4 L222.9,666.5 L220.8,668 L218.4,668.9 L215.9,669.3 L213.5,669.7 L211,670.8 L208.4,671 L206.1,669.4 L203.7,668.5 L200.9,668.5 L198.7,667.1 L197.3,664.7 L195.7,662.8 L194,660.8 L192.7,658.6 L191.9,656.1 L192.2,653.5 L192.3,651 L191.5,648.4 L191.7,645.8 L193.7,643.8 L194.7,641.6 L195.2,638.9 L196.8,636.8 L199.2,635.6 L201.3,634.2 L203.5,632.9 L205.8,631.7 L208.4,631 L211,631.8 L213.5,632.3 L216.2,631.7 L218.7,632.5 L220.4,634.8 L222.4,636.1 L224.9,637.1 L226.6,639 L227.8,641.3 L228.7,643.7 L229.6,646 L230.8,648.4Z" fill="#f2a896" stroke="#e58d7b" stroke-width="0.8"/><path d="M226.8,650.2 L227.1,652.2 L227.2,654.3 L226.6,656.4 L225.7,658.2 L224.5,660 L222.9,661.3 L221,662.3 L219.3,663.2 L217.7,664.6 L215.9,665.7 L213.9,666 L211.8,665.6 L209.8,665.1 L207.9,664.9 L205.9,664.5 L204,663.8 L202.1,662.8 L200.3,661.7 L199,660 L198.4,658 L197.8,656 L196.9,654.2 L195.9,652.3 L195.6,650.2 L196.2,648.2 L197,646.3 L197.8,644.4 L198.6,642.6 L199.7,641 L200.8,639.3 L202,637.5 L203.7,636.2 L205.8,635.7 L207.9,635.6 L209.8,635.1 L211.8,634.4 L213.9,634.1 L215.9,634.7 L217.8,635.7 L219.6,636.8 L221.1,638.1 L222.4,639.6 L223.8,641 L225.4,642.4 L226.7,644.1 L227,646.1 L226.8,648.2Z" fill="#f5b1a1"/><circle cx="211" cy="652" r="8.4" fill="#cf5742"/><circle cx="210.5" cy="651.2" r="7.6" fill="#e2705c"/>
<path d="M173.8,640.7 L173.2,643.2 L172.5,645.7 L171.7,648 L170.9,650.4 L170,653 L168.1,654.8 L165.5,655.7 L163.8,657.7 L161.9,659.7 L159.1,659.8 L156.5,659.4 L154,660.1 L151.4,660.3 L148.9,659.6 L146.7,658.4 L144.6,657 L142.3,655.9 L139.8,654.9 L138.4,652.6 L137.8,650 L136,648.2 L134.2,646 L134.4,643.3 L134.8,640.7 L134.6,638.1 L134.8,635.6 L135.6,633.1 L137.1,630.9 L139.1,629.3 L140.5,627.2 L141.8,624.8 L144.3,623.9 L146.9,623.7 L149,622.1 L151.4,620.7 L154,621.1 L156.5,621.6 L159,621.9 L161.6,622.4 L164.1,623.2 L166.1,625 L167.4,627.3 L169.4,628.9 L171.6,630.5 L172,633.2 L171.9,635.9 L173,638.2Z" fill="#f2a896" stroke="#e58d7b" stroke-width="0.8"/><path d="M170.7,639.9 L170.4,642 L169.9,644 L169.2,645.9 L168.1,647.6 L167.1,649.3 L166.1,651.2 L164.8,652.9 L162.8,653.8 L160.6,654 L158.6,654.3 L156.8,655 L154.8,655.5 L152.7,655.5 L150.7,655.1 L148.8,654.4 L147,653.4 L145.5,652 L144.1,650.6 L142.3,649.5 L140.6,648.1 L139.7,646.2 L139.6,644 L139.7,641.9 L139.5,639.9 L139.4,637.9 L139.8,635.9 L140.3,633.9 L141.1,632 L142.3,630.4 L144,629.2 L145.8,628.2 L147.2,626.8 L148.7,625.1 L150.6,624.1 L152.7,624.1 L154.8,624.3 L156.8,624.5 L158.8,624.9 L160.7,625.6 L162.6,626.4 L164.5,627.2 L166.1,628.6 L167.1,630.5 L167.6,632.5 L168.5,634.2 L169.7,635.9 L170.6,637.8Z" fill="#f5b1a1"/><circle cx="154" cy="641.7" r="8.4" fill="#cf5742"/><circle cx="153.5" cy="640.9" r="7.6" fill="#e2705c"/>
<path d="M212.4,640.7 L211.8,643.2 L211.8,645.7 L211.9,648.5 L210.2,650.6 L208,652.2 L206.9,654.6 L205.4,656.9 L202.8,657.7 L200.3,658.3 L198,659.3 L195.5,660 L193,660.4 L190.5,659.9 L188.2,658.7 L185.6,658.5 L182.8,658.3 L181.1,656.3 L179.7,654 L177.4,652.7 L175.4,650.9 L174.7,648.3 L174.2,645.7 L173.8,643.2 L173.4,640.7 L173.2,638.1 L174.2,635.7 L175.9,633.6 L176.4,631.1 L177,628.4 L179.3,627 L181.7,625.9 L183.3,623.9 L185.4,622.2 L187.9,621.6 L190.4,621.3 L193,621.4 L195.6,621.2 L198.3,621 L200.6,622.4 L202.3,624.5 L204.8,625.3 L207.3,626.4 L208.3,628.9 L209.2,631.4 L210.7,633.4 L211.9,635.6 L212.5,638.1Z" fill="#f2a896" stroke="#e58d7b" stroke-width="0.8"/><path d="M209.4,639.9 L209.7,642 L209.3,644.1 L208.1,645.8 L206.8,647.4 L206,649.3 L205.1,651.3 L203.7,652.8 L201.8,653.8 L199.8,654.4 L197.8,654.9 L195.8,655 L193.8,655 L191.8,655.1 L189.7,655.2 L187.6,654.8 L186,653.4 L184.6,651.8 L183.1,650.6 L181.4,649.4 L179.9,647.9 L178.9,646.1 L178.3,644.1 L178,642 L178.2,639.9 L178.8,637.9 L179.2,636 L179.3,633.9 L179.8,631.8 L181.2,630.3 L183.1,629.2 L184.7,628.1 L186.2,626.8 L187.8,625.6 L189.7,624.7 L191.7,624.1 L193.8,623.8 L195.9,624.1 L197.8,625.1 L199.6,626 L201.6,626.4 L203.6,627.1 L205.2,628.5 L206.1,630.4 L206.9,632.3 L207.8,634.1 L208.5,636 L208.9,637.9Z" fill="#f5b1a1"/><circle cx="193" cy="641.7" r="8.4" fill="#cf5742"/><circle cx="192.5" cy="640.9" r="7.6" fill="#e2705c"/>
<path d="M193,667 L192.9,669.6 L192,672.1 L190.6,674.3 L190,676.8 L189.1,679.4 L186.7,680.7 L184.3,681.7 L182.7,683.8 L180.6,685.4 L178,685.5 L175.5,685.7 L173,686.3 L170.4,686.5 L167.8,686.3 L165.5,685.1 L163.5,683.4 L161,682.7 L158.4,681.6 L157.5,678.9 L156.7,676.4 L154.8,674.5 L153.7,672.2 L153.8,669.5 L154,667 L154.2,664.5 L154.3,662 L154.6,659.4 L156.2,657.3 L158.2,655.6 L159.1,653.1 L160.5,650.7 L163.2,650 L165.7,649.4 L167.9,647.9 L170.4,647.1 L173,647.3 L175.5,647.8 L177.9,648.7 L180.4,649.1 L183,649.7 L184.7,651.7 L186,654 L188.4,655.2 L190.5,656.9 L190.9,659.6 L191.4,662.1 L192.5,664.4Z" fill="#f2a896" stroke="#e58d7b" stroke-width="0.8"/><path d="M189.8,666.2 L189.1,668.2 L188.4,670.1 L187.8,672 L187,673.8 L185.9,675.6 L184.9,677.3 L183.6,679 L181.8,680.1 L179.7,680.5 L177.7,680.8 L175.8,681.5 L173.8,682.3 L171.7,682.3 L169.7,681.6 L167.8,680.6 L166.1,679.6 L164.5,678.3 L163.1,676.9 L161.6,675.6 L160,674.2 L158.9,672.4 L158.8,670.2 L158.9,668.2 L158.6,666.2 L158.2,664.2 L158.2,662.1 L158.9,660.1 L159.9,658.2 L161.2,656.6 L162.8,655.3 L164.6,654.3 L166.2,653.1 L167.7,651.7 L169.6,650.6 L171.7,650.6 L173.8,651.1 L175.7,651.4 L177.7,651.5 L179.8,651.8 L181.7,652.5 L183.5,653.5 L185.2,654.8 L186.4,656.6 L187,658.6 L187.8,660.4 L188.9,662.2 L189.8,664.1Z" fill="#f5b1a1"/><circle cx="173" cy="668" r="8.4" fill="#cf5742"/><circle cx="172.5" cy="667.2" r="7.6" fill="#e2705c"/>
<circle cx="158" cy="620.7" r="11.6" fill="#bdd4f0" stroke="#9dbbe3" stroke-width="1"/><circle cx="158" cy="620.7" r="7.4" fill="#4f6fb3"/><circle cx="157.6" cy="620.1" r="6.8" fill="#5d80c3"/>
<path d="M187.9,640 L187.6,641.5 L187,643 L186.3,644.3 L185.7,645.6 L185.3,647.2 L184.4,648.4 L182.8,648.9 L181.5,649.6 L180.5,651 L179.2,651.8 L177.5,651.6 L176,651.4 L174.5,651.5 L173,651.4 L171.4,651 L170.1,650.2 L169.2,648.9 L168.2,647.8 L166.7,647.1 L165.6,646 L165.6,644.3 L165.4,642.8 L164.5,641.5 L164.1,640 L164.3,638.5 L164.7,637 L165.4,635.6 L166,634.2 L166.4,632.6 L167.4,631.4 L169.1,631 L170.5,630.5 L171.5,629.2 L172.9,628.4 L174.5,628.7 L176,628.9 L177.5,628.8 L179,628.8 L180.5,629.1 L181.9,629.7 L182.9,631 L184,632 L185.6,632.7 L186.7,633.8 L186.7,635.6 L186.8,637.1 L187.6,638.5Z" fill="#dcc7e6" stroke="#cdb3da" stroke-width="0.8"/><circle cx="183.5" cy="639.7" r="0.7" fill="#b08bc2"/><circle cx="181.5" cy="644.5" r="0.6" fill="#b08bc2"/><circle cx="178.9" cy="648.3" r="0.4" fill="#b08bc2"/><circle cx="174.7" cy="646.9" r="0.6" fill="#b08bc2"/><circle cx="173" cy="647.4" r="0.5" fill="#b08bc2"/><circle cx="168.3" cy="643.7" r="0.6" fill="#b08bc2"/><circle cx="167.2" cy="638.8" r="0.6" fill="#b08bc2"/><circle cx="168.6" cy="635.6" r="0.6" fill="#b08bc2"/><circle cx="173.1" cy="633.2" r="0.7" fill="#b08bc2"/><circle cx="177.1" cy="633.3" r="0.6" fill="#b08bc2"/><circle cx="180.2" cy="633.1" r="0.6" fill="#b08bc2"/><circle cx="183.4" cy="636.4" r="0.7" fill="#b08bc2"/><circle cx="176" cy="640" r="4.6" fill="#9266a6"/><circle cx="175.7" cy="639.6" r="4.1" fill="#a47bb8"/>
<path d="M133,558 L132,580 C128,595 112,605 104,618 C97,630 96,645 97,660 C98,672 106,684 108.6,696" fill="none" stroke="#86a660" stroke-width="7.8" stroke-linejoin="round" stroke-linecap="butt"/><path d="M127,590 C118,600 114,610 114,624" fill="none" stroke="#86a660" stroke-width="6.3" stroke-linejoin="round" stroke-linecap="butt"/><path d="M78,631 C86,631 92,630 98,627" fill="none" stroke="#86a660" stroke-width="6.8" stroke-linejoin="round" stroke-linecap="butt"/><path d="M74,660 C82,663 90,664 98,664" fill="none" stroke="#86a660" stroke-width="5.8" stroke-linejoin="round" stroke-linecap="butt"/><path d="M133,558 L132,580 C128,595 112,605 104,618 C97,630 96,645 97,660 C98,672 106,684 108.6,696" fill="none" stroke="#b7cf8d" stroke-width="6.5" stroke-linejoin="round" stroke-linecap="butt"/><path d="M127,590 C118,600 114,610 114,624" fill="none" stroke="#b7cf8d" stroke-width="5" stroke-linejoin="round" stroke-linecap="butt"/><path d="M78,631 C86,631 92,630 98,627" fill="none" stroke="#b7cf8d" stroke-width="5.5" stroke-linejoin="round" stroke-linecap="butt"/><path d="M74,660 C82,663 90,664 98,664" fill="none" stroke="#b7cf8d" stroke-width="4.5" stroke-linejoin="round" stroke-linecap="butt"/>
<path d="M52,640 C50.3,638.3 44.8,633.5 42,630 C39.2,626.5 35.8,622.5 35.5,619 C35.2,615.5 40.3,612.2 40.5,609 C40.7,605.8 36.4,603 36.5,600 C36.6,597 40.8,593.7 41,591 C41.2,588.3 37.3,586.5 38,584 C38.7,581.5 43.8,577.3 45,576" fill="none" stroke="#86a660" stroke-width="4.2" stroke-linejoin="round" stroke-linecap="round"/><path d="M45,575 C38,570 30,569 23,567" fill="none" stroke="#86a660" stroke-width="2.2" stroke-linejoin="round" stroke-linecap="round"/><path d="M45,575 C40,568 37,564 34,560" fill="none" stroke="#86a660" stroke-width="2.2" stroke-linejoin="round" stroke-linecap="round"/><path d="M45,575 C47,570 48,566 48.5,562" fill="none" stroke="#86a660" stroke-width="2.2" stroke-linejoin="round" stroke-linecap="round"/><path d="M45,575 C52,570 58,566 63,563" fill="none" stroke="#86a660" stroke-width="2.2" stroke-linejoin="round" stroke-linecap="round"/><path d="M45,577 C58,574 68,575 76,577" fill="none" stroke="#86a660" stroke-width="2.2" stroke-linejoin="round" stroke-linecap="round"/><path d="M52,640 C50.3,638.3 44.8,633.5 42,630 C39.2,626.5 35.8,622.5 35.5,619 C35.2,615.5 40.3,612.2 40.5,609 C40.7,605.8 36.4,603 36.5,600 C36.6,597 40.8,593.7 41,591 C41.2,588.3 37.3,586.5 38,584 C38.7,581.5 43.8,577.3 45,576" fill="none" stroke="#b7cf8d" stroke-width="3.2" stroke-linejoin="round" stroke-linecap="round"/><path d="M45,575 C38,570 30,569 23,567" fill="none" stroke="#b7cf8d" stroke-width="1.2" stroke-linejoin="round" stroke-linecap="round"/><path d="M45,575 C40,568 37,564 34,560" fill="none" stroke="#b7cf8d" stroke-width="1.2" stroke-linejoin="round" stroke-linecap="round"/><path d="M45,575 C47,570 48,566 48.5,562" fill="none" stroke="#b7cf8d" stroke-width="1.2" stroke-linejoin="round" stroke-linecap="round"/><path d="M45,575 C52,570 58,566 63,563" fill="none" stroke="#b7cf8d" stroke-width="1.2" stroke-linejoin="round" stroke-linecap="round"/><path d="M45,577 C58,574 68,575 76,577" fill="none" stroke="#b7cf8d" stroke-width="1.2" stroke-linejoin="round" stroke-linecap="round"/>
<ellipse cx="63" cy="649" rx="13" ry="12" fill="#b4cc8a" stroke="#86a660" stroke-width="0.6"/>
<path d="M65.5,644 L65,644.8 L65.1,645.6 L65.2,646.6 L64.7,647.3 L64,647.8 L63.5,648.5 L62.9,649.1 L62.3,649.7 L61.6,650.3 L60.7,650.3 L59.8,650.2 L59,650.6 L58.1,650.9 L57.3,650.4 L56.6,649.8 L55.8,649.5 L55,649.2 L54.4,648.6 L53.9,647.9 L53.5,647.2 L53.3,646.4 L52.7,645.7 L52.2,644.9 L52.4,644 L52.8,643.2 L52.7,642.3 L52.7,641.4 L53.2,640.6 L53.9,640.1 L54.5,639.5 L55.1,638.9 L55.7,638.3 L56.5,637.9 L57.4,637.8 L58.2,638 L59,637.6 L59.9,637.3 L60.7,637.7 L61.4,638.3 L62.2,638.4 L63.1,638.7 L63.7,639.3 L64.3,640 L64.6,640.8 L64.9,641.6 L65.4,642.3 L65.8,643.1Z" fill="#dcc7e6" stroke="#cdb3da" stroke-width="0.8"/><circle cx="63.9" cy="643.6" r="0.2" fill="#b08bc2"/><circle cx="62.9" cy="645.8" r="0.4" fill="#b08bc2"/><circle cx="61.6" cy="647.9" r="0.2" fill="#b08bc2"/><circle cx="59.6" cy="648.7" r="0.3" fill="#b08bc2"/><circle cx="56.5" cy="647.6" r="0.3" fill="#b08bc2"/><circle cx="55.7" cy="646.5" r="0.2" fill="#b08bc2"/><circle cx="54.6" cy="644.6" r="0.3" fill="#b08bc2"/><circle cx="55.2" cy="641.3" r="0.4" fill="#b08bc2"/><circle cx="57.4" cy="640.6" r="0.4" fill="#b08bc2"/><circle cx="59" cy="639.6" r="0.2" fill="#b08bc2"/><circle cx="60.5" cy="640.4" r="0.2" fill="#b08bc2"/><circle cx="63" cy="642.3" r="0.3" fill="#b08bc2"/><circle cx="59" cy="644" r="2.8" fill="#9266a6"/><circle cx="58.8" cy="643.8" r="2.5" fill="#a47bb8"/>
<circle cx="54" cy="651" r="5" fill="#bdd4f0" stroke="#9dbbe3" stroke-width="1"/><circle cx="54" cy="651" r="3.2" fill="#4f6fb3"/><circle cx="53.8" cy="650.7" r="2.9" fill="#5d80c3"/>
<circle cx="68" cy="653" r="6.5" fill="#d5ebdd" stroke="#b9dcc6" stroke-width="1"/><circle cx="65" cy="655.2" r="0.2" fill="#9cc4ab"/><circle cx="64.8" cy="655.5" r="0.2" fill="#9cc4ab"/><circle cx="65.8" cy="653.9" r="0.2" fill="#9cc4ab"/><circle cx="69.2" cy="655.4" r="0.2" fill="#9cc4ab"/><circle cx="70.9" cy="656" r="0.2" fill="#9cc4ab"/><circle cx="63.4" cy="654.9" r="0.2" fill="#9cc4ab"/><circle cx="71.2" cy="655.4" r="0.2" fill="#9cc4ab"/><circle cx="68.8" cy="657.2" r="0.2" fill="#9cc4ab"/><circle cx="65.1" cy="656.7" r="0.2" fill="#9cc4ab"/><circle cx="65.9" cy="653.9" r="0.2" fill="#9cc4ab"/><circle cx="68" cy="652.5" r="2.6" fill="#4f8a6c"/><circle cx="67.9" cy="652.3" r="2.3" fill="#63997c"/>
<path d="M226.7,578.5 C232,590 238,603 240,615" fill="none" stroke="#b04c3a" stroke-width="6.8" stroke-linejoin="round" stroke-linecap="butt"/><path d="M244.7,578.5 C244,592 240,605 240,615" fill="none" stroke="#b04c3a" stroke-width="6.8" stroke-linejoin="round" stroke-linecap="butt"/><path d="M240,612 C243,625 244,640 240,652 C236,662 226,670 211,674 C196,677 184,672 175,675 C168,678 166.6,683 166.6,687" fill="none" stroke="#b04c3a" stroke-width="6.8" stroke-linejoin="round" stroke-linecap="butt"/><path d="M241,645 C245,648 250,650 253,651" fill="none" stroke="#b04c3a" stroke-width="6.3" stroke-linejoin="round" stroke-linecap="butt"/><path d="M211,672 L209,687" fill="none" stroke="#b04c3a" stroke-width="6.3" stroke-linejoin="round" stroke-linecap="butt"/><path d="M226.7,578.5 C232,590 238,603 240,615" fill="none" stroke="#e8735c" stroke-width="5.5" stroke-linejoin="round" stroke-linecap="butt"/><path d="M244.7,578.5 C244,592 240,605 240,615" fill="none" stroke="#e8735c" stroke-width="5.5" stroke-linejoin="round" stroke-linecap="butt"/><path d="M240,612 C243,625 244,640 240,652 C236,662 226,670 211,674 C196,677 184,672 175,675 C168,678 166.6,683 166.6,687" fill="none" stroke="#e8735c" stroke-width="5.5" stroke-linejoin="round" stroke-linecap="butt"/><path d="M241,645 C245,648 250,650 253,651" fill="none" stroke="#e8735c" stroke-width="5" stroke-linejoin="round" stroke-linecap="butt"/><path d="M211,672 L209,687" fill="none" stroke="#e8735c" stroke-width="5" stroke-linejoin="round" stroke-linecap="butt"/>
<path d="M178.7,763 L178.9,766 L178.6,769 L177.1,771.7 L175.3,774.2 L174.6,777.3 L173.2,780.2 L170,781.2 L167.2,782.4 L165,784.7 L162.1,785.9 L159,785.7 L156,785.5 L153.1,785.3 L150.1,785.1 L147.1,784.6 L144.7,782.5 L142.7,780.4 L139.6,779.4 L137,777.6 L136.3,774.4 L135.3,771.6 L133.3,769.1 L132.4,766.1 L132.7,763 L133.3,760 L134.1,757.1 L134.6,754.1 L135.5,751.2 L138.1,749.3 L140.6,747.6 L142,744.7 L144.2,742.5 L147.4,742.2 L150.2,741.5 L153,740.1 L156,739.5 L159.1,739.7 L162,740.7 L164.7,742.1 L167.7,742.7 L170.7,743.9 L172.1,746.9 L173.5,749.6 L176.1,751.4 L177.8,754 L177.7,757.2 L178,760.1Z" fill="#f2a896" stroke="#e58d7b" stroke-width="0.8"/><path d="M176.2,762.1 L175.7,764.6 L174.4,766.8 L173.1,768.8 L172.4,771 L171.5,773.2 L170,775.1 L168.2,776.7 L166.2,778.2 L164,779.1 L161.6,779.5 L159.2,779.7 L156.9,780.5 L154.4,781.2 L151.9,780.8 L149.8,779.3 L147.9,777.7 L146,776.4 L144,775 L142.4,773.2 L141,771.3 L139.7,769.2 L138.9,766.9 L139.1,764.4 L139.4,762.1 L139.3,759.8 L138.8,757.2 L139.1,754.7 L140.5,752.6 L142.3,750.8 L144,749.1 L145.8,747.5 L147.8,746.3 L149.9,745.1 L152.1,743.9 L154.4,743.3 L156.9,743.7 L159.2,744.7 L161.4,745.2 L163.9,745.3 L166.3,745.8 L168.4,747.2 L170.1,748.9 L171.6,750.8 L172.9,752.9 L173.7,755.1 L174.5,757.4 L175.6,759.6Z" fill="#f5b1a1"/><circle cx="156" cy="765" r="9.5" fill="#cf5742"/><circle cx="155.4" cy="764" r="8.6" fill="#e2705c"/>
<path d="M168.1,751.7 L168.5,754.7 L168.2,757.8 L167.1,760.7 L165.1,763 L163.6,765.6 L162.5,768.7 L159.9,770.5 L156.6,770.9 L154.2,772.6 L151.6,774.5 L148.5,774.6 L145.5,774 L142.6,773.9 L139.6,773.6 L136.6,773.2 L133.9,771.8 L131.9,769.4 L129.5,767.7 L126.4,766.4 L125,763.6 L124.8,760.3 L123.3,757.6 L121.9,754.8 L122.1,751.7 L122.9,748.7 L123.8,745.9 L124.6,743.1 L125.3,740 L127.1,737.6 L130,736.2 L131.9,734 L133.6,731.1 L136.5,730.1 L139.7,730.1 L142.5,729 L145.5,728 L148.6,728.3 L151.5,729.2 L154.2,730.7 L156.9,732 L159.9,732.9 L162,735.2 L162.9,738.4 L164.8,740.6 L167.3,742.7 L167.8,745.7 L167.5,748.8Z" fill="#f2a896" stroke="#e58d7b" stroke-width="0.8"/><path d="M164.7,750.8 L164.6,753.2 L164.2,755.5 L163.8,758 L163.1,760.4 L161.5,762.3 L159.2,763.5 L157.1,764.7 L155.4,766.3 L153.5,767.9 L151.3,768.8 L148.8,769 L146.4,769 L144,768.8 L141.8,768.2 L139.6,767.3 L137.2,766.8 L134.7,766 L132.7,764.5 L131.6,762.1 L130.9,759.7 L129.8,757.7 L128.6,755.6 L127.9,753.2 L127.9,750.8 L128.1,748.4 L128.7,746 L129.9,743.9 L131.2,742 L132.3,739.9 L133.2,737.5 L134.7,735.5 L137,734.4 L139.4,733.9 L141.7,733.3 L144,732.6 L146.4,732.2 L148.9,732.3 L151.3,732.6 L153.6,733.3 L155.6,734.9 L157.1,736.8 L158.8,738.4 L160.8,739.7 L162.8,741.3 L163.8,743.6 L164.2,746 L164.4,748.4Z" fill="#f5b1a1"/><circle cx="145.5" cy="753.7" r="9.5" fill="#cf5742"/><circle cx="144.9" cy="752.8" r="8.6" fill="#e2705c"/>
<path d="M235.6,751.7 L234.8,754.6 L235,757.6 L234.4,760.5 L232.9,763.2 L231,765.5 L228.8,767.5 L227.1,770.1 L225.1,772.6 L221.8,773.1 L218.8,773.2 L216.1,775 L213,775.8 L210,774.5 L207.2,773.4 L204.3,772.8 L201.5,771.7 L198.9,770.1 L197,767.7 L195.6,765 L193.2,763.1 L190.9,760.8 L191,757.6 L191.1,754.6 L189.6,751.7 L189.2,748.6 L190.6,745.7 L191.9,742.9 L193.1,740.2 L194.5,737.5 L196.3,735 L199.1,733.6 L202.1,732.8 L204.2,730.6 L206.9,728.8 L210.1,729.4 L213,729.8 L216,728.8 L219.1,729 L221.9,730.3 L224.5,731.8 L226.9,733.6 L229.5,735.2 L232.1,737 L233,740.1 L233.4,743.2 L235.4,745.7 L236.7,748.6Z" fill="#f2a896" stroke="#e58d7b" stroke-width="0.8"/><path d="M232.1,750.8 L232.4,753.2 L231.9,755.6 L231.1,757.9 L230,760.1 L228.5,761.9 L226.6,763.5 L225,765.2 L223.4,767.2 L221.3,768.7 L218.8,769.1 L216.3,768.7 L213.9,768.5 L211.6,768.6 L209.2,768.4 L206.9,767.7 L204.7,766.8 L202.6,765.6 L200.9,763.8 L199.8,761.6 L198.6,759.6 L196.8,757.9 L195.3,755.8 L194.8,753.3 L195.3,750.8 L195.9,748.4 L196.3,746.1 L197.1,743.8 L198.1,741.7 L199.3,739.5 L200.6,737.5 L202.6,736 L205,735.3 L207.3,734.7 L209.3,733.5 L211.5,732.2 L213.9,731.7 L216.4,732.1 L218.7,732.9 L221,733.7 L223.1,734.9 L225,736.4 L227,737.7 L229,739.2 L230.5,741.2 L230.8,743.8 L230.8,746.2 L231.3,748.5Z" fill="#f5b1a1"/><circle cx="213" cy="753.7" r="9.5" fill="#cf5742"/><circle cx="212.4" cy="752.8" r="8.6" fill="#e2705c"/>
<path d="M132.3,790.7 L133.2,793.8 L131.8,796.6 L129.9,799.1 L129.6,802.2 L128.6,805.2 L126.1,807.1 L123.6,808.8 L121.2,810.6 L118.6,812.3 L115.9,813.7 L112.7,813.8 L109.7,812.8 L106.7,813.3 L103.5,813.8 L101,811.7 L98.8,809.6 L95.9,808.7 L93.2,807.2 L91.5,804.7 L90,802.1 L88.8,799.4 L87.4,796.7 L85.9,793.8 L86.3,790.7 L87.6,787.8 L87.3,784.7 L87.4,781.5 L89.7,779.2 L92.1,777.2 L93.6,774.6 L95.6,772.3 L98.2,770.8 L101,769.8 L104,769.3 L106.7,768.2 L109.7,766.8 L112.7,767.7 L115.4,769.3 L118.6,769.2 L121.8,769.7 L123.9,772.2 L125.7,774.7 L128,776.7 L129.9,779.1 L131.3,781.8 L131.8,784.8 L131.5,787.8Z" fill="#f2a896" stroke="#e58d7b" stroke-width="0.8"/><path d="M129.2,789.8 L128.6,792.1 L127.8,794.4 L127.5,796.8 L127.2,799.3 L126,801.6 L123.9,803.1 L121.7,804.2 L119.6,805.4 L117.6,806.6 L115.3,807.4 L113,808 L110.6,808.4 L108.2,808.3 L105.9,807.3 L103.9,806 L101.8,805.1 L99.3,804.5 L97.1,803.3 L95.5,801.4 L94.5,799.1 L93.6,796.8 L92.9,794.5 L92.6,792.2 L92.4,789.8 L92.1,787.3 L92.2,784.9 L93.5,782.7 L95.3,780.9 L96.8,779.2 L97.9,777.1 L99.3,775 L101.2,773.5 L103.5,772.6 L105.8,771.8 L108.2,771.5 L110.6,771.6 L113,771.8 L115.4,771.8 L118,772 L120.2,773.2 L121.7,775.3 L123.1,777.3 L124.7,779 L126.4,780.7 L127.6,782.7 L128.5,785 L129,787.4Z" fill="#f5b1a1"/><circle cx="109.7" cy="792.7" r="9.5" fill="#cf5742"/><circle cx="109.1" cy="791.8" r="8.6" fill="#e2705c"/>
<path d="M245.1,788.6 L244.3,791.6 L242.5,794.2 L242.3,797.2 L242,800.5 L239.8,802.7 L237.4,804.5 L235.5,806.8 L233.2,808.8 L230.6,810.5 L227.6,811.3 L224.4,810.9 L221.5,811.4 L218.4,812.4 L215.5,811 L213.1,808.8 L210.2,808.1 L207.2,807.2 L205.3,804.8 L203.7,802.3 L202,799.9 L200.3,797.4 L198.6,794.7 L198.2,791.7 L199.1,788.6 L198.7,785.6 L198.1,782.3 L199.8,779.6 L202.2,777.5 L203.3,774.7 L204.9,772 L207.5,770.3 L210.2,769 L213,768 L215.7,766.8 L218.4,765.3 L221.5,765.4 L224.4,766.8 L227.4,766.6 L230.7,766.3 L233.2,768.3 L235.2,770.7 L237.8,772.3 L240.2,774.3 L241.8,776.9 L242.8,779.8 L243.1,782.8 L243.8,785.7Z" fill="#f2a896" stroke="#e58d7b" stroke-width="0.8"/><path d="M241.1,787.7 L241,790.1 L240.6,792.6 L239.5,794.7 L237.8,796.5 L236.2,798.3 L235.1,800.4 L233.9,802.6 L231.9,804.1 L229.5,804.7 L227.1,805.1 L224.8,805.7 L222.4,806 L220,806 L217.6,805.8 L215.1,805.4 L212.9,804.2 L211.3,802.2 L210,800.1 L208.3,798.5 L206.4,796.9 L205.1,794.9 L204.5,792.5 L204.4,790.1 L204.3,787.7 L204.5,785.3 L205.1,783 L205.5,780.7 L205.9,778.1 L207,775.9 L209.1,774.4 L211.5,773.4 L213.5,772.2 L215.4,770.7 L217.6,769.6 L220,769.2 L222.4,769.2 L224.8,769.5 L227.1,770.3 L229.2,771.4 L231.3,772.3 L233.7,773 L236,774.1 L237.5,776.1 L238.3,778.5 L239.1,780.8 L240.1,782.9 L240.9,785.2Z" fill="#f5b1a1"/><circle cx="221.5" cy="790.6" r="9.5" fill="#cf5742"/><circle cx="220.9" cy="789.6" r="8.6" fill="#e2705c"/>
<path d="M269.9,790.7 L270.3,793.8 L269.5,796.8 L268.2,799.6 L266.5,802 L265,804.7 L263.7,807.6 L260.9,809.1 L257.7,809.6 L255.4,811.6 L252.9,813.6 L249.8,813.3 L246.8,812.8 L243.8,813.2 L240.8,813.2 L237.8,812.4 L235.2,810.8 L233.1,808.6 L230.5,807 L227.6,805.4 L226.5,802.4 L226.4,799.2 L224.7,796.6 L223.3,793.8 L223.9,790.7 L224.7,787.8 L225.1,784.9 L225.7,782 L226.6,779 L228.5,776.7 L231.1,775 L232.9,772.6 L234.7,769.7 L237.8,769.1 L241,769.1 L243.8,767.7 L246.8,766.8 L249.8,767.6 L252.7,768.7 L255.4,769.9 L258.2,771 L261.1,772.1 L263,774.5 L264.1,777.4 L266.4,779.4 L268.9,781.6 L269.1,784.7 L268.9,787.8Z" fill="#f2a896" stroke="#e58d7b" stroke-width="0.8"/><path d="M266.1,789.8 L265.4,792.1 L265.2,794.5 L264.8,796.9 L263.8,799.1 L262.4,801.1 L260.8,802.9 L258.9,804.3 L256.6,805.2 L254.4,805.9 L252.4,807.2 L250.2,808.6 L247.7,809 L245.3,808.4 L243,807.3 L240.8,806.6 L238.5,805.7 L236.4,804.5 L234.5,803 L232.7,801.3 L231.4,799.2 L230.9,796.7 L230.9,794.3 L230.3,792.1 L229.3,789.8 L229,787.3 L229.6,784.9 L230.8,782.8 L232,780.7 L233.2,778.7 L234.8,776.8 L236.5,775.1 L238.2,773.3 L240.3,771.9 L242.9,771.6 L245.4,772.1 L247.7,772.2 L250.1,771.9 L252.5,771.8 L254.9,772.6 L256.9,773.9 L258.8,775.3 L260.6,776.9 L261.9,778.9 L263.3,780.8 L264.9,782.6 L266.4,784.8 L266.8,787.3Z" fill="#f5b1a1"/><circle cx="246.8" cy="792.7" r="9.5" fill="#cf5742"/><circle cx="246.2" cy="791.8" r="8.6" fill="#e2705c"/>
<path d="M152.7,833 L153.4,836 L153.8,839.2 L151.8,841.7 L149.8,844 L149.2,847.1 L147.7,849.9 L144.9,851.4 L142.3,852.8 L139.6,854.2 L136.8,855.5 L133.9,856.6 L130.8,856 L127.9,854.8 L124.9,855.1 L121.7,855 L119.5,852.5 L117.5,850.3 L114.6,849.2 L112.3,847.2 L110.8,844.5 L109.7,841.7 L108.9,838.9 L107.7,836 L106.7,833 L107.8,830 L109.3,827.2 L109.3,824.1 L110,821 L112.7,819.1 L115.2,817.4 L116.9,814.9 L119.3,813 L122,811.8 L124.9,811.1 L127.9,811 L130.8,810 L133.9,809.2 L136.8,810.7 L139.3,812.5 L142.5,812.7 L145.5,813.9 L147.2,816.6 L148.7,819.2 L150.7,821.5 L152.2,824.1 L153.3,827 L153.3,830Z" fill="#f2a896" stroke="#e58d7b" stroke-width="0.8"/><path d="M150.6,832.1 L150.8,834.6 L149.8,836.9 L148.4,839 L147.1,841 L145.9,843 L144.4,844.8 L142.8,846.5 L141.1,848.3 L139,849.6 L136.5,850 L134.1,849.8 L131.7,849.9 L129.3,850.5 L126.8,850.6 L124.4,849.7 L122.4,848.2 L120.6,846.6 L118.9,844.9 L117.5,843 L116.3,841 L114.7,839.1 L113.4,837 L113.2,834.5 L113.8,832.1 L114.3,829.8 L114.3,827.4 L114.4,824.9 L115.3,822.6 L116.7,820.6 L118.4,818.8 L120.4,817.3 L122.7,816.4 L124.9,815.6 L127,814.5 L129.3,813.3 L131.7,813.1 L134.1,814 L136.3,815.1 L138.5,815.7 L140.8,816.3 L143,817.4 L144.9,818.9 L146.7,820.6 L148.1,822.6 L148.7,825 L149,827.5 L149.6,829.7Z" fill="#f5b1a1"/><circle cx="130.8" cy="835" r="9.5" fill="#cf5742"/><circle cx="130.2" cy="834" r="8.6" fill="#e2705c"/>
<path d="M247.8,833 L246.7,836 L244.8,838.7 L244.6,841.7 L244,844.8 L241.7,846.9 L239.4,848.8 L237.3,850.8 L235,852.8 L232.6,854.7 L229.6,855.5 L226.5,855.1 L223.6,856 L220.4,857.1 L217.5,855.6 L215,853.6 L212.1,853 L209.2,851.8 L207.2,849.4 L205.6,846.8 L204.3,844.2 L202.7,841.6 L200.9,839.1 L200.8,836 L201.8,833 L201,830 L200.4,826.8 L202.1,824.1 L204.1,821.8 L205.2,818.9 L206.9,816.3 L209.3,814.3 L212,812.9 L215,812.2 L217.7,811 L220.5,809.5 L223.6,810 L226.4,811.5 L229.4,811.2 L232.7,811.1 L235.1,813.2 L237.2,815.3 L239.8,816.8 L242.1,818.8 L244.1,821.2 L245.2,824 L245.4,827.2 L246.4,830Z" fill="#f2a896" stroke="#e58d7b" stroke-width="0.8"/><path d="M242.9,832.1 L243.1,834.5 L243,837 L242.2,839.4 L240.5,841.3 L238.5,842.8 L237.1,844.6 L235.7,846.7 L233.9,848.3 L231.6,849.2 L229.2,849.7 L226.9,850.1 L224.5,850.1 L222.2,849.8 L219.8,849.7 L217.3,849.6 L214.8,848.9 L213,847.1 L211.7,844.9 L210.3,843 L208.7,841.2 L207.2,839.2 L206.5,836.9 L206.2,834.5 L206.1,832.1 L206.6,829.7 L207.5,827.5 L208.2,825.3 L208.6,822.9 L209.3,820.4 L211,818.6 L213.3,817.5 L215.5,816.5 L217.5,815.2 L219.7,814.1 L222.1,813.6 L224.5,813.3 L227,813.3 L229.3,814.1 L231.3,815.6 L233.2,817 L235.4,817.9 L237.7,818.9 L239.5,820.6 L240.5,822.8 L241.2,825.2 L242,827.4 L242.7,829.7Z" fill="#f5b1a1"/><circle cx="223.6" cy="835" r="9.5" fill="#cf5742"/><circle cx="223" cy="834" r="8.6" fill="#e2705c"/>
<path d="M201.8,852 L201.8,855 L201.8,858.1 L201.1,861.2 L198.8,863.4 L196.7,865.6 L195.6,868.6 L193.5,870.9 L190.2,871.3 L187.4,872.4 L185,874.3 L182,875 L179,874.8 L176.1,874.4 L173.2,873.7 L170.1,873.6 L167,872.8 L165.1,870.1 L163.2,867.8 L160.1,866.5 L158.2,864 L158,860.7 L157.3,857.8 L156.1,855 L155.8,852 L156.2,849 L157.3,846.2 L158.6,843.6 L159,840.4 L160.2,837.6 L163.1,836.1 L165.5,834.4 L167.2,831.5 L169.8,829.9 L173.1,829.8 L176,829.4 L179,828.8 L182.1,828.8 L185.1,829.3 L187.7,831.1 L190,832.9 L193.1,833.6 L195.7,835.3 L196.6,838.5 L198,841 L200.5,843.1 L201.7,845.9 L201.7,849Z" fill="#f2a896" stroke="#e58d7b" stroke-width="0.8"/><path d="M198.1,851.1 L198.2,853.5 L197.9,855.9 L197.2,858.2 L196.2,860.5 L194.5,862.3 L192.6,863.7 L191,865.5 L189.4,867.5 L187.3,869 L184.8,869.3 L182.3,869 L179.9,868.9 L177.6,868.9 L175.2,868.6 L172.9,867.9 L170.6,867.2 L168.5,866 L166.9,864.1 L165.8,861.9 L164.6,859.9 L162.8,858.2 L161.3,856.1 L160.9,853.6 L161.3,851.1 L161.7,848.7 L162.3,846.4 L163.2,844.2 L164.3,842.1 L165.3,839.9 L166.6,837.7 L168.5,836.3 L171,835.6 L173.3,835 L175.3,833.8 L177.5,832.6 L179.9,832.1 L182.4,832.4 L184.8,833 L187,833.9 L189,835.3 L190.9,836.8 L192.9,838.1 L195,839.5 L196.4,841.5 L196.8,844.1 L196.9,846.5 L197.4,848.8Z" fill="#f5b1a1"/><circle cx="179" cy="854" r="9.5" fill="#cf5742"/><circle cx="178.4" cy="853" r="8.6" fill="#e2705c"/>
<path d="M119,721 L119,742 C118,755 112,762 104,770 C94,778 86,785 84.4,799 C83,812 86,825 92.8,837 C96,845 96,855 96,864.5" fill="none" stroke="#86a660" stroke-width="7.8" stroke-linejoin="round" stroke-linecap="butt"/><path d="M65,796 C72,796 78,795 84.4,793" fill="none" stroke="#86a660" stroke-width="6.3" stroke-linejoin="round" stroke-linecap="butt"/><path d="M64,830 C72,833 80,834 86,835" fill="none" stroke="#86a660" stroke-width="5.8" stroke-linejoin="round" stroke-linecap="butt"/><path d="M119,721 L119,742 C118,755 112,762 104,770 C94,778 86,785 84.4,799 C83,812 86,825 92.8,837 C96,845 96,855 96,864.5" fill="none" stroke="#b7cf8d" stroke-width="6.5" stroke-linejoin="round" stroke-linecap="butt"/><path d="M65,796 C72,796 78,795 84.4,793" fill="none" stroke="#b7cf8d" stroke-width="5" stroke-linejoin="round" stroke-linecap="butt"/><path d="M64,830 C72,833 80,834 86,835" fill="none" stroke="#b7cf8d" stroke-width="4.5" stroke-linejoin="round" stroke-linecap="butt"/>
<path d="M47,813 C46,811.2 43.1,805.3 41,802 C38.9,798.7 34.8,796 34.5,793 C34.2,790 39.2,787.2 39,784 C38.8,780.8 33.8,777.5 33.5,774 C33.2,770.5 36.1,766.7 37.5,763 C38.9,759.3 41.2,753.8 42,752" fill="none" stroke="#86a660" stroke-width="4.2" stroke-linejoin="round" stroke-linecap="round"/><path d="M42,752 C35,748 28,747 22,745" fill="none" stroke="#86a660" stroke-width="2.2" stroke-linejoin="round" stroke-linecap="round"/><path d="M42,752 C38,746 36,742 35,738" fill="none" stroke="#86a660" stroke-width="2.2" stroke-linejoin="round" stroke-linecap="round"/><path d="M42,752 C44,747 45,743 45.5,740" fill="none" stroke="#86a660" stroke-width="2.2" stroke-linejoin="round" stroke-linecap="round"/><path d="M42,752 C50,748 56,745 62,742" fill="none" stroke="#86a660" stroke-width="2.2" stroke-linejoin="round" stroke-linecap="round"/><path d="M42,754 C52,752 58,755 65,757" fill="none" stroke="#86a660" stroke-width="2.2" stroke-linejoin="round" stroke-linecap="round"/><path d="M47,813 C46,811.2 43.1,805.3 41,802 C38.9,798.7 34.8,796 34.5,793 C34.2,790 39.2,787.2 39,784 C38.8,780.8 33.8,777.5 33.5,774 C33.2,770.5 36.1,766.7 37.5,763 C38.9,759.3 41.2,753.8 42,752" fill="none" stroke="#b7cf8d" stroke-width="3.2" stroke-linejoin="round" stroke-linecap="round"/><path d="M42,752 C35,748 28,747 22,745" fill="none" stroke="#b7cf8d" stroke-width="1.2" stroke-linejoin="round" stroke-linecap="round"/><path d="M42,752 C38,746 36,742 35,738" fill="none" stroke="#b7cf8d" stroke-width="1.2" stroke-linejoin="round" stroke-linecap="round"/><path d="M42,752 C44,747 45,743 45.5,740" fill="none" stroke="#b7cf8d" stroke-width="1.2" stroke-linejoin="round" stroke-linecap="round"/><path d="M42,752 C50,748 56,745 62,742" fill="none" stroke="#b7cf8d" stroke-width="1.2" stroke-linejoin="round" stroke-linecap="round"/><path d="M42,754 C52,752 58,755 65,757" fill="none" stroke="#b7cf8d" stroke-width="1.2" stroke-linejoin="round" stroke-linecap="round"/>
<ellipse cx="57" cy="822" rx="12.5" ry="11.6" fill="#b4cc8a" stroke="#86a660" stroke-width="0.6"/>
<path d="M60.8,815.6 L60.7,816.5 L60.6,817.4 L60.4,818.3 L60.1,819.3 L59.4,819.9 L58.5,820.3 L58,821 L57.4,821.9 L56.5,822.2 L55.5,822 L54.7,822.2 L53.8,822.6 L52.9,822.6 L52,822.4 L51.1,822 L50.4,821.5 L49.5,821.2 L48.5,820.9 L48,820 L47.9,819 L47.5,818.2 L46.8,817.5 L46.7,816.5 L46.9,815.6 L47.1,814.7 L47.2,813.8 L47.4,812.9 L47.6,812 L48.2,811.3 L49.1,810.9 L49.6,810.1 L50.1,809.2 L51,808.9 L52,809 L52.9,808.8 L53.8,808.4 L54.7,808.5 L55.6,808.7 L56.5,809.2 L57.2,809.8 L58,810.2 L58.9,810.5 L59.4,811.3 L59.5,812.3 L60,813 L60.8,813.7 L61,814.7Z" fill="#dcc7e6" stroke="#cdb3da" stroke-width="0.8"/><circle cx="58.6" cy="815.6" r="0.4" fill="#b08bc2"/><circle cx="57.5" cy="818.4" r="0.3" fill="#b08bc2"/><circle cx="56.2" cy="820.2" r="0.4" fill="#b08bc2"/><circle cx="53.3" cy="821" r="0.3" fill="#b08bc2"/><circle cx="51.9" cy="819.7" r="0.2" fill="#b08bc2"/><circle cx="50.1" cy="817.7" r="0.3" fill="#b08bc2"/><circle cx="49.8" cy="816.2" r="0.4" fill="#b08bc2"/><circle cx="49.2" cy="813.4" r="0.4" fill="#b08bc2"/><circle cx="51" cy="811.5" r="0.2" fill="#b08bc2"/><circle cx="53" cy="810.5" r="0.2" fill="#b08bc2"/><circle cx="56.7" cy="812.3" r="0.4" fill="#b08bc2"/><circle cx="57.7" cy="814.2" r="0.3" fill="#b08bc2"/><circle cx="53.8" cy="815.6" r="3" fill="#9266a6"/><circle cx="53.6" cy="815.4" r="2.7" fill="#a47bb8"/>
<circle cx="61" cy="822" r="7" fill="#d5ebdd" stroke="#b9dcc6" stroke-width="1"/><circle cx="61.1" cy="826.5" r="0.2" fill="#9cc4ab"/><circle cx="63.7" cy="824.5" r="0.2" fill="#9cc4ab"/><circle cx="64.1" cy="826.6" r="0.2" fill="#9cc4ab"/><circle cx="58.9" cy="823.2" r="0.2" fill="#9cc4ab"/><circle cx="60.4" cy="824.8" r="0.2" fill="#9cc4ab"/><circle cx="63.5" cy="824.1" r="0.2" fill="#9cc4ab"/><circle cx="60.5" cy="826.1" r="0.2" fill="#9cc4ab"/><circle cx="56" cy="823.8" r="0.2" fill="#9cc4ab"/><circle cx="62.4" cy="825" r="0.2" fill="#9cc4ab"/><circle cx="63.4" cy="824.4" r="0.2" fill="#9cc4ab"/><circle cx="61" cy="821.5" r="2.8" fill="#4f8a6c"/><circle cx="60.9" cy="821.3" r="2.5" fill="#63997c"/>
<circle cx="51.7" cy="826.5" r="6.3" fill="#bdd4f0" stroke="#9dbbe3" stroke-width="1"/><circle cx="51.7" cy="826.5" r="3.6" fill="#4f6fb3"/><circle cx="51.5" cy="826.2" r="3.3" fill="#5d80c3"/>
<circle cx="100" cy="763" r="7" fill="#d5ebdd" stroke="#b9dcc6" stroke-width="1"/><circle cx="99" cy="765.8" r="0.2" fill="#9cc4ab"/><circle cx="103.6" cy="766" r="0.2" fill="#9cc4ab"/><circle cx="100" cy="765.5" r="0.2" fill="#9cc4ab"/><circle cx="101.4" cy="766.7" r="0.2" fill="#9cc4ab"/><circle cx="96.3" cy="764.9" r="0.2" fill="#9cc4ab"/><circle cx="97.2" cy="766.1" r="0.2" fill="#9cc4ab"/><circle cx="101.7" cy="767.7" r="0.2" fill="#9cc4ab"/><circle cx="98.8" cy="767" r="0.2" fill="#9cc4ab"/><circle cx="105" cy="765.1" r="0.2" fill="#9cc4ab"/><circle cx="103.8" cy="765.6" r="0.2" fill="#9cc4ab"/><circle cx="100" cy="762" r="3" fill="#4f8a6c"/><circle cx="99.8" cy="761.8" r="2.7" fill="#63997c"/>
<circle cx="89.6" cy="780" r="6.5" fill="#bdd4f0" stroke="#9dbbe3" stroke-width="1"/><circle cx="89.6" cy="780" r="3.8" fill="#4f6fb3"/><circle cx="89.4" cy="779.7" r="3.5" fill="#5d80c3"/>
<circle cx="86.5" cy="803" r="5.5" fill="#f8c6d0" stroke="#f0b0bf" stroke-width="1"/><circle cx="86.5" cy="803" r="3.3" fill="#c9566f"/><circle cx="86.3" cy="802.7" r="3" fill="#d96f86"/>
<path d="M95.4,815 L95.6,815.8 L95.6,816.6 L95.3,817.4 L94.8,818 L94.3,818.6 L93.8,819.2 L93.4,819.9 L92.7,820.4 L91.8,820.3 L91.1,820.4 L90.4,821 L89.6,821.2 L88.8,820.9 L88.1,820.6 L87.3,820.5 L86.6,820.2 L85.8,819.9 L85.2,819.4 L84.9,818.6 L84.5,817.9 L83.8,817.4 L83.5,816.6 L83.7,815.8 L83.9,815 L83.7,814.2 L83.7,813.4 L84.1,812.7 L84.5,812.1 L85,811.5 L85.5,810.9 L85.9,810.1 L86.5,809.6 L87.3,809.6 L88.1,809.4 L88.8,808.9 L89.6,808.6 L90.4,809 L91.1,809.3 L91.9,809.5 L92.6,809.8 L93.3,810.2 L93.9,810.7 L94.2,811.5 L94.5,812.2 L95.2,812.7 L95.6,813.4 L95.4,814.2Z" fill="#dcc7e6" stroke="#cdb3da" stroke-width="0.8"/><circle cx="93.4" cy="815" r="0.4" fill="#b08bc2"/><circle cx="93.1" cy="817.8" r="0.3" fill="#b08bc2"/><circle cx="92.5" cy="818.4" r="0.2" fill="#b08bc2"/><circle cx="89.8" cy="819.1" r="0.2" fill="#b08bc2"/><circle cx="87.5" cy="818.5" r="0.2" fill="#b08bc2"/><circle cx="86.2" cy="817.4" r="0.3" fill="#b08bc2"/><circle cx="85.8" cy="814.7" r="0.3" fill="#b08bc2"/><circle cx="86" cy="812.4" r="0.2" fill="#b08bc2"/><circle cx="87.9" cy="810.6" r="0.2" fill="#b08bc2"/><circle cx="90" cy="810.3" r="0.3" fill="#b08bc2"/><circle cx="92" cy="811.4" r="0.2" fill="#b08bc2"/><circle cx="93.7" cy="813.3" r="0.3" fill="#b08bc2"/><circle cx="89.6" cy="815" r="2.6" fill="#9266a6"/><circle cx="89.4" cy="814.8" r="2.3" fill="#a47bb8"/>
<circle cx="117" cy="763" r="5" fill="#d9a3c1"/>
<path d="M66.4,816 C68,770 90,740 113,756" fill="none" stroke="#111" stroke-width="1.4" marker-end="url(#ah)"/>
<path d="M244.6,761 C250,770 258,775 261.5,784" fill="none" stroke="#b04c3a" stroke-width="6.8" stroke-linejoin="round" stroke-linecap="butt"/><path d="M261.5,761 L261.5,784" fill="none" stroke="#b04c3a" stroke-width="6.8" stroke-linejoin="round" stroke-linecap="butt"/><path d="M261.5,782 C264,795 265,805 263.6,812 C261,822 257,830 253,835 C246,845 240,850 232,852 C222,855 214,856 205,856" fill="none" stroke="#b04c3a" stroke-width="6.8" stroke-linejoin="round" stroke-linecap="butt"/><path d="M232,852 C230,858 228,862 227.8,867" fill="none" stroke="#b04c3a" stroke-width="6.3" stroke-linejoin="round" stroke-linecap="butt"/><path d="M257,830 C262,832 265,833 268,833" fill="none" stroke="#b04c3a" stroke-width="6.3" stroke-linejoin="round" stroke-linecap="butt"/><path d="M244.6,761 C250,770 258,775 261.5,784" fill="none" stroke="#e8735c" stroke-width="5.5" stroke-linejoin="round" stroke-linecap="butt"/><path d="M261.5,761 L261.5,784" fill="none" stroke="#e8735c" stroke-width="5.5" stroke-linejoin="round" stroke-linecap="butt"/><path d="M261.5,782 C264,795 265,805 263.6,812 C261,822 257,830 253,835 C246,845 240,850 232,852 C222,855 214,856 205,856" fill="none" stroke="#e8735c" stroke-width="5.5" stroke-linejoin="round" stroke-linecap="butt"/><path d="M232,852 C230,858 228,862 227.8,867" fill="none" stroke="#e8735c" stroke-width="5" stroke-linejoin="round" stroke-linecap="butt"/><path d="M257,830 C262,832 265,833 268,833" fill="none" stroke="#e8735c" stroke-width="5" stroke-linejoin="round" stroke-linecap="butt"/>
<circle cx="130.8" cy="750" r="5" fill="#d9a3c1" opacity="0.9"/>
<circle cx="147.6" cy="746.4" r="5" fill="#d9a3c1" opacity="0.9"/>
<circle cx="135" cy="766.4" r="5" fill="#d9a3c1" opacity="0.9"/>
<circle cx="151.8" cy="777" r="5" fill="#d9a3c1" opacity="0.9"/>
<circle cx="134" cy="781" r="5" fill="#d9a3c1" opacity="0.9"/>
<circle cx="158" cy="761" r="5" fill="#d9a3c1" opacity="0.9"/>
<path d="M213.6,765.4 L213.3,768.1 L212.5,770.6 L211.2,772.9 L210.3,775.4 L209.7,778.2 L207.5,779.9 L204.6,780.5 L202.6,782 L200.8,784.3 L198.3,785 L195.5,784.7 L193,784.7 L190.4,784.9 L187.8,784.8 L185.1,784.5 L182.8,783.1 L181.2,780.8 L179,779.4 L176.2,778.3 L174.9,775.8 L175,772.8 L174.3,770.4 L173,768 L172.7,765.4 L173.2,762.8 L174.1,760.3 L175.4,758.1 L176.1,755.6 L176.6,752.8 L178.5,750.9 L181.3,750.2 L183.2,748.5 L185,746 L187.6,745.2 L190.4,745.6 L193,745.6 L195.6,745.6 L198.2,745.9 L200.9,746.4 L203,748.1 L204.5,750.4 L206.6,751.8 L209.4,752.9 L210.7,755.2 L210.7,758.1 L211.7,760.4 L213.2,762.7Z" fill="#dcc7e6" stroke="#cdb3da" stroke-width="0.8"/><circle cx="207" cy="766.4" r="0.9" fill="#b08bc2"/><circle cx="206.1" cy="772.9" r="0.7" fill="#b08bc2"/><circle cx="201" cy="776.8" r="0.7" fill="#b08bc2"/><circle cx="192.3" cy="778.1" r="1.1" fill="#b08bc2"/><circle cx="186.7" cy="779.2" r="1.2" fill="#b08bc2"/><circle cx="183.1" cy="772.4" r="0.6" fill="#b08bc2"/><circle cx="180.9" cy="766.4" r="0.9" fill="#b08bc2"/><circle cx="183.7" cy="757.3" r="1" fill="#b08bc2"/><circle cx="186.1" cy="754.9" r="0.7" fill="#b08bc2"/><circle cx="195.2" cy="749.7" r="0.7" fill="#b08bc2"/><circle cx="201.3" cy="753.5" r="1" fill="#b08bc2"/><circle cx="202.6" cy="759.3" r="1" fill="#b08bc2"/><circle cx="193" cy="765.4" r="8" fill="#9266a6"/><circle cx="192.5" cy="764.8" r="7.2" fill="#a47bb8"/>
<path d="M153.1,799 L154,801.6 L153.7,804.3 L152.7,806.7 L151.3,809 L149.6,811 L148.2,813.2 L146.9,815.8 L144.4,816.9 L141.4,816.8 L139,817.8 L136.7,819.5 L134,819.5 L131.5,818.3 L129,817.6 L126.5,817.1 L124,816.2 L121.6,815.2 L119.8,813.2 L118.8,810.7 L116.9,808.8 L114.4,807.1 L113.8,804.4 L114.6,801.6 L114.4,799 L113.7,796.3 L114.2,793.7 L115.4,791.3 L117,789.2 L118.8,787.3 L120.2,785.2 L121.5,782.7 L123.9,781.5 L126.8,781.5 L129,780.4 L131.3,778.4 L134,778.2 L136.6,779.2 L139.1,779.8 L141.7,780.4 L144.2,781.3 L146.6,782.5 L148.3,784.7 L149.1,787.4 L150.8,789.3 L153.1,791.1 L153.6,793.7 L152.8,796.5Z" fill="#dcc7e6" stroke="#cdb3da" stroke-width="0.8"/><circle cx="147.5" cy="799.4" r="0.9" fill="#b08bc2"/><circle cx="144.5" cy="806.7" r="0.7" fill="#b08bc2"/><circle cx="139" cy="808.9" r="1.2" fill="#b08bc2"/><circle cx="133.1" cy="810" r="0.7" fill="#b08bc2"/><circle cx="124.3" cy="810.3" r="1" fill="#b08bc2"/><circle cx="121.3" cy="807" r="1.1" fill="#b08bc2"/><circle cx="119.4" cy="801.5" r="0.8" fill="#b08bc2"/><circle cx="125.1" cy="792.5" r="1.1" fill="#b08bc2"/><circle cx="124.6" cy="786.8" r="1.2" fill="#b08bc2"/><circle cx="134.1" cy="787.1" r="0.8" fill="#b08bc2"/><circle cx="142.9" cy="787.8" r="1" fill="#b08bc2"/><circle cx="145.2" cy="794.3" r="1" fill="#b08bc2"/><circle cx="134" cy="799" r="8" fill="#9266a6"/><circle cx="133.5" cy="798.4" r="7.2" fill="#a47bb8"/>
<circle cx="161" cy="771.7" r="13.7" fill="#bdd4f0" stroke="#9dbbe3" stroke-width="1"/><circle cx="161" cy="771.7" r="9.5" fill="#4f6fb3"/><circle cx="160.5" cy="770.9" r="8.7" fill="#5d80c3"/>
<circle cx="163.5" cy="795" r="14.8" fill="#bdd4f0" stroke="#9dbbe3" stroke-width="1"/><circle cx="163.5" cy="795" r="10" fill="#4f6fb3"/><circle cx="163" cy="794.2" r="9.2" fill="#5d80c3"/>
<circle cx="166.6" cy="819" r="15.8" fill="#d5ebdd" stroke="#b9dcc6" stroke-width="1"/><circle cx="168.7" cy="826.9" r="0.6" fill="#9cc4ab"/><circle cx="166.5" cy="827.3" r="0.6" fill="#9cc4ab"/><circle cx="160.6" cy="825.5" r="0.6" fill="#9cc4ab"/><circle cx="158.8" cy="825.2" r="0.6" fill="#9cc4ab"/><circle cx="168" cy="830.1" r="0.6" fill="#9cc4ab"/><circle cx="172.8" cy="826.7" r="0.6" fill="#9cc4ab"/><circle cx="172.7" cy="826.1" r="0.6" fill="#9cc4ab"/><circle cx="173.9" cy="824.3" r="0.6" fill="#9cc4ab"/><circle cx="157.3" cy="825.4" r="0.6" fill="#9cc4ab"/><circle cx="159.7" cy="822.4" r="0.6" fill="#9cc4ab"/><circle cx="166.6" cy="813" r="6.3" fill="#4f8a6c"/><circle cx="166.3" cy="812.5" r="5.7" fill="#63997c"/>
<circle cx="205.6" cy="811.8" r="15.8" fill="#d5ebdd" stroke="#b9dcc6" stroke-width="1"/><circle cx="212.6" cy="814.9" r="0.6" fill="#9cc4ab"/><circle cx="201.6" cy="820.9" r="0.6" fill="#9cc4ab"/><circle cx="201.1" cy="817.3" r="0.6" fill="#9cc4ab"/><circle cx="205.9" cy="818.3" r="0.6" fill="#9cc4ab"/><circle cx="197.8" cy="821.7" r="0.6" fill="#9cc4ab"/><circle cx="205.6" cy="818.2" r="0.6" fill="#9cc4ab"/><circle cx="212.1" cy="820" r="0.6" fill="#9cc4ab"/><circle cx="206.6" cy="817.4" r="0.6" fill="#9cc4ab"/><circle cx="203" cy="818.4" r="0.6" fill="#9cc4ab"/><circle cx="199.2" cy="814.2" r="0.6" fill="#9cc4ab"/><circle cx="205.6" cy="805.8" r="6.3" fill="#4f8a6c"/><circle cx="205.3" cy="805.3" r="5.7" fill="#63997c"/>
<circle cx="193" cy="836" r="13" fill="#f8c6d0" stroke="#f0b0bf" stroke-width="1"/><circle cx="193" cy="836" r="8" fill="#c9566f"/><circle cx="192.6" cy="835.4" r="7.4" fill="#d96f86"/>
<line x1="179" y1="750" x2="179" y2="782" stroke="#4a505a" stroke-width="0.8"/>
<g transform="translate(179 751.5) scale(0.3)" stroke="#6f7782" stroke-width="0.7"><rect x="-2" y="-9" width="4" height="10" fill="#9aa3ad"/><rect x="-11.8" y="-87" width="27" height="80" rx="3" fill="#eef2f1" transform="translate(-1.7 0)"/><rect x="-12.7" y="-64" width="25.4" height="56" rx="3" fill="#c9ddd5" stroke="none"/><rect x="-6.5" y="-87" width="13" height="16" fill="#a9b1bb" stroke="none"/><rect x="-12.7" y="-74" width="25.4" height="10" fill="#7e8792" stroke="none"/><ellipse cx="1" cy="-93" rx="22" ry="6.5" fill="#b9c0c8"/><ellipse cx="1" cy="-95.5" rx="22" ry="6" fill="#d3d8de"/><rect x="-6" y="-127" width="15" height="33" fill="#8e98a4"/><rect x="0" y="-127" width="3" height="33" fill="#aab2bc" stroke="none"/><ellipse cx="1.5" cy="-129" rx="16" ry="5" fill="#b9c0c8"/><ellipse cx="1.5" cy="-131" rx="16" ry="5" fill="#d3d8de"/></g>
<path d="M198.8,796.3 Q202,795.5 204.9,797.9" stroke="#b86a8a" stroke-width="0.7" fill="none"/><path d="M198,799.7 Q201.3,799.7 203.5,802.8" stroke="#b86a8a" stroke-width="0.7" fill="none"/><path d="M196.4,802.7 Q199.5,803.6 200.8,807.2" stroke="#b86a8a" stroke-width="0.7" fill="none"/><path d="M194,805.3 Q196.8,806.9 197.2,810.7" stroke="#b86a8a" stroke-width="0.7" fill="none"/><path d="M191.1,807.1 Q193.4,809.4 192.7,813.2" stroke="#b86a8a" stroke-width="0.7" fill="none"/><path d="M187.7,808.1 Q189.4,810.9 187.8,814.4" stroke="#b86a8a" stroke-width="0.7" fill="none"/><path d="M184.3,808.2 Q185.1,811.4 182.7,814.3" stroke="#b86a8a" stroke-width="0.7" fill="none"/><path d="M180.9,807.4 Q180.9,810.7 177.8,812.9" stroke="#b86a8a" stroke-width="0.7" fill="none"/><path d="M177.9,805.8 Q177,808.9 173.4,810.2" stroke="#b86a8a" stroke-width="0.7" fill="none"/><path d="M175.3,803.4 Q173.7,806.2 169.9,806.6" stroke="#b86a8a" stroke-width="0.7" fill="none"/><path d="M173.5,800.5 Q171.2,802.8 167.4,802.1" stroke="#b86a8a" stroke-width="0.7" fill="none"/><path d="M172.5,797.1 Q169.7,798.8 166.2,797.2" stroke="#b86a8a" stroke-width="0.7" fill="none"/><path d="M172.4,793.7 Q169.2,794.5 166.3,792.1" stroke="#b86a8a" stroke-width="0.7" fill="none"/><path d="M173.2,790.3 Q169.9,790.3 167.7,787.2" stroke="#b86a8a" stroke-width="0.7" fill="none"/><path d="M174.8,787.3 Q171.7,786.4 170.4,782.8" stroke="#b86a8a" stroke-width="0.7" fill="none"/><path d="M177.2,784.7 Q174.4,783.1 174,779.3" stroke="#b86a8a" stroke-width="0.7" fill="none"/><path d="M180.1,782.9 Q177.8,780.6 178.5,776.8" stroke="#b86a8a" stroke-width="0.7" fill="none"/><path d="M183.5,781.9 Q181.8,779.1 183.4,775.6" stroke="#b86a8a" stroke-width="0.7" fill="none"/><path d="M186.9,781.8 Q186.1,778.6 188.5,775.7" stroke="#b86a8a" stroke-width="0.7" fill="none"/><path d="M190.3,782.6 Q190.3,779.3 193.4,777.1" stroke="#b86a8a" stroke-width="0.7" fill="none"/><path d="M193.3,784.2 Q194.2,781.1 197.8,779.8" stroke="#b86a8a" stroke-width="0.7" fill="none"/><path d="M195.9,786.6 Q197.5,783.8 201.3,783.4" stroke="#b86a8a" stroke-width="0.7" fill="none"/><path d="M197.7,789.5 Q200,787.2 203.8,787.9" stroke="#b86a8a" stroke-width="0.7" fill="none"/><path d="M198.7,792.9 Q201.5,791.2 205,792.8" stroke="#b86a8a" stroke-width="0.7" fill="none"/><circle cx="185.6" cy="795" r="13.3" fill="#e3a9c0"/><circle cx="198.3" cy="795" r="1.4" fill="#ebb6cb" stroke="#cf8eaa" stroke-width="0.4"/><circle cx="198" cy="797.8" r="1.4" fill="#ebb6cb" stroke="#cf8eaa" stroke-width="0.4"/><circle cx="197.1" cy="800.5" r="1.4" fill="#ebb6cb" stroke="#cf8eaa" stroke-width="0.4"/><circle cx="195.6" cy="802.9" r="1.4" fill="#ebb6cb" stroke="#cf8eaa" stroke-width="0.4"/><circle cx="193.5" cy="805" r="1.4" fill="#ebb6cb" stroke="#cf8eaa" stroke-width="0.4"/><circle cx="191.1" cy="806.5" r="1.4" fill="#ebb6cb" stroke="#cf8eaa" stroke-width="0.4"/><circle cx="188.4" cy="807.4" r="1.4" fill="#ebb6cb" stroke="#cf8eaa" stroke-width="0.4"/><circle cx="185.6" cy="807.7" r="1.4" fill="#ebb6cb" stroke="#cf8eaa" stroke-width="0.4"/><circle cx="182.8" cy="807.4" r="1.4" fill="#ebb6cb" stroke="#cf8eaa" stroke-width="0.4"/><circle cx="180.1" cy="806.5" r="1.4" fill="#ebb6cb" stroke="#cf8eaa" stroke-width="0.4"/><circle cx="177.7" cy="805" r="1.4" fill="#ebb6cb" stroke="#cf8eaa" stroke-width="0.4"/><circle cx="175.6" cy="802.9" r="1.4" fill="#ebb6cb" stroke="#cf8eaa" stroke-width="0.4"/><circle cx="174.1" cy="800.5" r="1.4" fill="#ebb6cb" stroke="#cf8eaa" stroke-width="0.4"/><circle cx="173.2" cy="797.8" r="1.4" fill="#ebb6cb" stroke="#cf8eaa" stroke-width="0.4"/><circle cx="172.9" cy="795" r="1.4" fill="#ebb6cb" stroke="#cf8eaa" stroke-width="0.4"/><circle cx="173.2" cy="792.2" r="1.4" fill="#ebb6cb" stroke="#cf8eaa" stroke-width="0.4"/><circle cx="174.1" cy="789.5" r="1.4" fill="#ebb6cb" stroke="#cf8eaa" stroke-width="0.4"/><circle cx="175.6" cy="787.1" r="1.4" fill="#ebb6cb" stroke="#cf8eaa" stroke-width="0.4"/><circle cx="177.7" cy="785" r="1.4" fill="#ebb6cb" stroke="#cf8eaa" stroke-width="0.4"/><circle cx="180.1" cy="783.5" r="1.4" fill="#ebb6cb" stroke="#cf8eaa" stroke-width="0.4"/><circle cx="182.8" cy="782.6" r="1.4" fill="#ebb6cb" stroke="#cf8eaa" stroke-width="0.4"/><circle cx="185.6" cy="782.3" r="1.4" fill="#ebb6cb" stroke="#cf8eaa" stroke-width="0.4"/><circle cx="188.4" cy="782.6" r="1.4" fill="#ebb6cb" stroke="#cf8eaa" stroke-width="0.4"/><circle cx="191.1" cy="783.5" r="1.4" fill="#ebb6cb" stroke="#cf8eaa" stroke-width="0.4"/><circle cx="193.5" cy="785" r="1.4" fill="#ebb6cb" stroke="#cf8eaa" stroke-width="0.4"/><circle cx="195.6" cy="787.1" r="1.4" fill="#ebb6cb" stroke="#cf8eaa" stroke-width="0.4"/><circle cx="197.1" cy="789.5" r="1.4" fill="#ebb6cb" stroke="#cf8eaa" stroke-width="0.4"/><circle cx="198" cy="792.2" r="1.4" fill="#ebb6cb" stroke="#cf8eaa" stroke-width="0.4"/><circle cx="185.6" cy="795" r="11.3" fill="#bd6b8e"/><path d="M189.5,795 L196.7,795 M189.3,796.3 L196,798.8 M188.6,797.5 L194.1,802.1 M187.5,798.4 L191.1,804.6 M186.3,798.8 L187.5,805.9 M184.9,798.8 L183.7,805.9 M183.7,798.4 L180.1,804.6 M182.6,797.5 L177.1,802.1 M181.9,796.3 L175.2,798.8 M181.7,795 L174.5,795 M181.9,793.7 L175.2,791.2 M182.6,792.5 L177.1,787.9 M183.7,791.6 L180.1,785.4 M184.9,791.2 L183.7,784.1 M186.3,791.2 L187.5,784.1 M187.5,791.6 L191.1,785.4 M188.6,792.5 L194.1,787.9 M189.3,793.7 L196,791.2 " stroke="#ad5f82" stroke-width="0.4" fill="none"/><circle cx="185.6" cy="795.6" r="1.7" fill="#d4507f"/><circle cx="181.3" cy="792.7" r="1.7" fill="#d4507f"/><circle cx="189.9" cy="792.7" r="1.7" fill="#d4507f"/><circle cx="181.3" cy="798.9" r="1.7" fill="#d4507f"/><circle cx="189.9" cy="798.9" r="1.7" fill="#d4507f"/><circle cx="185.3" cy="789.8" r="1.7" fill="#d4507f"/><circle cx="185.6" cy="801.2" r="1.7" fill="#d4507f"/>
<text x="268.5" y="622.2" font-size="25" fill="#175a78">Cold tumor</text>
<text x="274.8" y="781.7" font-size="25" fill="#8a1212">Hot tumor</text>
<path d="M274.1,636.4 L283.7,636.4 L285.1,726.5 L298.3,719.6 L280.7,755.8 L262.2,720.4 L276,726.5 Z" fill="#9b3350"/>
<polygon points="33.2,498.4 394.9,498.4 372.1,557.5 10.4,557.5" fill="#fff" stroke="#222" stroke-width="1.3"/><text x="203" y="522" font-size="25" text-anchor="middle">Proliferation of immune cells and</text><text x="203" y="550" font-size="25" text-anchor="middle">lymphatic drainage</text>
<path d="M616,251.5 C590,330 510,385 380,404" fill="none" stroke="#111" stroke-width="1.5" marker-end="url(#ah)"/>
<path d="M696,227.7 Q780,229 855,239" fill="none" stroke="#111" stroke-width="1.5" marker-end="url(#ah)"/>
<path d="M1027.8,674.7 Q1031.9,673.6 1035.7,676.8" stroke="#b86a8a" stroke-width="0.7" fill="none"/><path d="M1026.7,679.1 Q1031,679.2 1033.9,683.2" stroke="#b86a8a" stroke-width="0.7" fill="none"/><path d="M1024.6,683.1 Q1028.7,684.3 1030.4,688.9" stroke="#b86a8a" stroke-width="0.7" fill="none"/><path d="M1021.5,686.4 Q1025.2,688.6 1025.6,693.5" stroke="#b86a8a" stroke-width="0.7" fill="none"/><path d="M1017.6,688.8 Q1020.6,691.9 1019.8,696.7" stroke="#b86a8a" stroke-width="0.7" fill="none"/><path d="M1013.3,690.1 Q1015.4,693.8 1013.3,698.3" stroke="#b86a8a" stroke-width="0.7" fill="none"/><path d="M1008.8,690.3 Q1009.9,694.4 1006.7,698.2" stroke="#b86a8a" stroke-width="0.7" fill="none"/><path d="M1004.4,689.2 Q1004.3,693.5 1000.3,696.4" stroke="#b86a8a" stroke-width="0.7" fill="none"/><path d="M1000.4,687.1 Q999.2,691.2 994.6,692.9" stroke="#b86a8a" stroke-width="0.7" fill="none"/><path d="M997.1,684 Q994.9,687.7 990,688.1" stroke="#b86a8a" stroke-width="0.7" fill="none"/><path d="M994.7,680.1 Q991.6,683.1 986.8,682.3" stroke="#b86a8a" stroke-width="0.7" fill="none"/><path d="M993.4,675.8 Q989.7,677.9 985.2,675.8" stroke="#b86a8a" stroke-width="0.7" fill="none"/><path d="M993.2,671.3 Q989.1,672.4 985.3,669.2" stroke="#b86a8a" stroke-width="0.7" fill="none"/><path d="M994.3,666.9 Q990,666.8 987.1,662.8" stroke="#b86a8a" stroke-width="0.7" fill="none"/><path d="M996.4,662.9 Q992.3,661.7 990.6,657.1" stroke="#b86a8a" stroke-width="0.7" fill="none"/><path d="M999.5,659.6 Q995.8,657.4 995.4,652.5" stroke="#b86a8a" stroke-width="0.7" fill="none"/><path d="M1003.4,657.2 Q1000.4,654.1 1001.2,649.3" stroke="#b86a8a" stroke-width="0.7" fill="none"/><path d="M1007.7,655.9 Q1005.6,652.2 1007.7,647.7" stroke="#b86a8a" stroke-width="0.7" fill="none"/><path d="M1012.2,655.7 Q1011.1,651.6 1014.3,647.8" stroke="#b86a8a" stroke-width="0.7" fill="none"/><path d="M1016.6,656.8 Q1016.7,652.5 1020.7,649.6" stroke="#b86a8a" stroke-width="0.7" fill="none"/><path d="M1020.6,658.9 Q1021.8,654.8 1026.4,653.1" stroke="#b86a8a" stroke-width="0.7" fill="none"/><path d="M1023.9,662 Q1026.1,658.3 1031,657.9" stroke="#b86a8a" stroke-width="0.7" fill="none"/><path d="M1026.3,665.9 Q1029.4,662.9 1034.2,663.7" stroke="#b86a8a" stroke-width="0.7" fill="none"/><path d="M1027.6,670.2 Q1031.3,668.1 1035.8,670.2" stroke="#b86a8a" stroke-width="0.7" fill="none"/><circle cx="1010.5" cy="673" r="17.3" fill="#e3a9c0"/><circle cx="1027.2" cy="673" r="1.8" fill="#ebb6cb" stroke="#cf8eaa" stroke-width="0.4"/><circle cx="1026.7" cy="676.7" r="1.8" fill="#ebb6cb" stroke="#cf8eaa" stroke-width="0.4"/><circle cx="1025.5" cy="680.2" r="1.8" fill="#ebb6cb" stroke="#cf8eaa" stroke-width="0.4"/><circle cx="1023.5" cy="683.4" r="1.8" fill="#ebb6cb" stroke="#cf8eaa" stroke-width="0.4"/><circle cx="1020.9" cy="686" r="1.8" fill="#ebb6cb" stroke="#cf8eaa" stroke-width="0.4"/><circle cx="1017.7" cy="688" r="1.8" fill="#ebb6cb" stroke="#cf8eaa" stroke-width="0.4"/><circle cx="1014.2" cy="689.2" r="1.8" fill="#ebb6cb" stroke="#cf8eaa" stroke-width="0.4"/><circle cx="1010.5" cy="689.7" r="1.8" fill="#ebb6cb" stroke="#cf8eaa" stroke-width="0.4"/><circle cx="1006.8" cy="689.2" r="1.8" fill="#ebb6cb" stroke="#cf8eaa" stroke-width="0.4"/><circle cx="1003.3" cy="688" r="1.8" fill="#ebb6cb" stroke="#cf8eaa" stroke-width="0.4"/><circle cx="1000.1" cy="686" r="1.8" fill="#ebb6cb" stroke="#cf8eaa" stroke-width="0.4"/><circle cx="997.5" cy="683.4" r="1.8" fill="#ebb6cb" stroke="#cf8eaa" stroke-width="0.4"/><circle cx="995.5" cy="680.2" r="1.8" fill="#ebb6cb" stroke="#cf8eaa" stroke-width="0.4"/><circle cx="994.3" cy="676.7" r="1.8" fill="#ebb6cb" stroke="#cf8eaa" stroke-width="0.4"/><circle cx="993.8" cy="673" r="1.8" fill="#ebb6cb" stroke="#cf8eaa" stroke-width="0.4"/><circle cx="994.3" cy="669.3" r="1.8" fill="#ebb6cb" stroke="#cf8eaa" stroke-width="0.4"/><circle cx="995.5" cy="665.8" r="1.8" fill="#ebb6cb" stroke="#cf8eaa" stroke-width="0.4"/><circle cx="997.5" cy="662.6" r="1.8" fill="#ebb6cb" stroke="#cf8eaa" stroke-width="0.4"/><circle cx="1000.1" cy="660" r="1.8" fill="#ebb6cb" stroke="#cf8eaa" stroke-width="0.4"/><circle cx="1003.3" cy="658" r="1.8" fill="#ebb6cb" stroke="#cf8eaa" stroke-width="0.4"/><circle cx="1006.8" cy="656.8" r="1.8" fill="#ebb6cb" stroke="#cf8eaa" stroke-width="0.4"/><circle cx="1010.5" cy="656.3" r="1.8" fill="#ebb6cb" stroke="#cf8eaa" stroke-width="0.4"/><circle cx="1014.2" cy="656.8" r="1.8" fill="#ebb6cb" stroke="#cf8eaa" stroke-width="0.4"/><circle cx="1017.7" cy="658" r="1.8" fill="#ebb6cb" stroke="#cf8eaa" stroke-width="0.4"/><circle cx="1020.9" cy="660" r="1.8" fill="#ebb6cb" stroke="#cf8eaa" stroke-width="0.4"/><circle cx="1023.5" cy="662.6" r="1.8" fill="#ebb6cb" stroke="#cf8eaa" stroke-width="0.4"/><circle cx="1025.5" cy="665.8" r="1.8" fill="#ebb6cb" stroke="#cf8eaa" stroke-width="0.4"/><circle cx="1026.7" cy="669.3" r="1.8" fill="#ebb6cb" stroke="#cf8eaa" stroke-width="0.4"/><circle cx="1010.5" cy="673" r="14.8" fill="#bd6b8e"/><path d="M1015.6,673 L1025,673 M1015.3,674.7 L1024.1,677.9 M1014.4,676.3 L1021.6,682.3 M1013,677.4 L1017.7,685.5 M1011.4,678 L1013,687.2 M1009.6,678 L1008,687.2 M1008,677.4 L1003.3,685.5 M1006.6,676.3 L999.4,682.3 M1005.7,674.7 L996.9,677.9 M1005.4,673 L996,673 M1005.7,671.3 L996.9,668.1 M1006.6,669.7 L999.4,663.7 M1008,668.6 L1003.3,660.5 M1009.6,668 L1008,658.8 M1011.4,668 L1013,658.8 M1013,668.6 L1017.7,660.5 M1014.4,669.7 L1021.6,663.7 M1015.3,671.3 L1024.1,668.1 " stroke="#ad5f82" stroke-width="0.5" fill="none"/><circle cx="1010.5" cy="673.9" r="2.2" fill="#d4507f"/><circle cx="1004.9" cy="669.9" r="2.2" fill="#d4507f"/><circle cx="1016.1" cy="669.9" r="2.2" fill="#d4507f"/><circle cx="1004.9" cy="678.1" r="2.2" fill="#d4507f"/><circle cx="1016.1" cy="678.1" r="2.2" fill="#d4507f"/><circle cx="1010.2" cy="666.2" r="2.2" fill="#d4507f"/><circle cx="1010.5" cy="681.2" r="2.2" fill="#d4507f"/>
<path d="M1157.5,676 L1157.3,678.7 L1156.3,681.2 L1155.4,683.6 L1154.4,686 L1153.4,688.6 L1151.6,690.6 L1148.9,691.5 L1146.7,692.8 L1144.9,695 L1142.3,695.7 L1139.5,695 L1137,695.3 L1134.4,696 L1131.8,695.4 L1129.4,694.4 L1127.2,693 L1125,691.7 L1122.4,690.6 L1120.5,688.7 L1120,685.8 L1118.9,683.5 L1116.9,681.4 L1116.6,678.7 L1117.5,676 L1117.6,673.4 L1117.7,670.8 L1118.5,668.3 L1119.7,666 L1121.6,664.2 L1123.3,662.3 L1124.5,659.8 L1126.7,658.1 L1129.6,658 L1131.9,657 L1134.3,655.3 L1137,655.3 L1139.6,656.3 L1142.1,656.8 L1144.7,657.4 L1147.2,658.4 L1149.3,659.9 L1150.7,662.3 L1152.2,664.3 L1154.6,665.8 L1155.8,668.2 L1155.5,671 L1156.3,673.5Z" fill="#f2a896" stroke="#e58d7b" stroke-width="0.8"/><path d="M1154.1,675.2 L1154,677.3 L1153.5,679.4 L1152.4,681.2 L1151.3,683 L1150.5,685 L1149.6,687 L1147.9,688.4 L1145.8,689 L1143.7,689.4 L1141.8,690.1 L1139.9,690.8 L1137.8,691.1 L1135.7,691.1 L1133.6,691 L1131.6,690.3 L1129.9,688.9 L1128.4,687.5 L1126.6,686.4 L1124.7,685.3 L1123.2,683.6 L1122.6,681.5 L1122.4,679.3 L1122.2,677.3 L1122.1,675.2 L1122.3,673.2 L1122.6,671.1 L1122.8,669 L1123.6,667 L1125.2,665.5 L1127,664.4 L1128.4,663 L1129.8,661.3 L1131.4,659.9 L1133.5,659.2 L1135.7,659 L1137.8,659.1 L1139.9,659.4 L1141.9,660.1 L1143.8,660.7 L1145.9,661.2 L1147.9,662.1 L1149.3,663.7 L1150.1,665.8 L1150.9,667.6 L1152.2,669.2 L1153.3,671 L1153.9,673.1Z" fill="#f5b1a1"/><circle cx="1124.4" cy="686.4" r="0.9" fill="#ec9483"/><circle cx="1125.3" cy="680.1" r="1" fill="#ec9483"/><circle cx="1136.5" cy="693.8" r="0.7" fill="#ec9483"/><circle cx="1147.9" cy="674.3" r="0.9" fill="#ec9483"/><circle cx="1121.2" cy="671.6" r="1.1" fill="#ec9483"/><circle cx="1131.6" cy="690.6" r="1.1" fill="#ec9483"/><circle cx="1144.2" cy="691.1" r="1.1" fill="#ec9483"/><circle cx="1148.7" cy="674.3" r="1" fill="#ec9483"/><circle cx="1137" cy="677" r="8.5" fill="#cf5742"/><circle cx="1136.5" cy="676.1" r="7.7" fill="#e2705c"/>
<polygon points="1015.6,719.2 1010,722.5 1004.4,719.2 1004.4,712.8 1010,709.5 1015.6,712.8" fill="#b8cfe8" stroke="#7f9fcf" stroke-width="0.6"/><line x1="1015.6" y1="719.2" x2="1018.4" y2="720.9" stroke="#7f9fcf" stroke-width="0.5"/><line x1="1010" y1="722.5" x2="1010" y2="725.8" stroke="#7f9fcf" stroke-width="0.5"/><line x1="1004.4" y1="719.2" x2="1001.6" y2="720.9" stroke="#7f9fcf" stroke-width="0.5"/><line x1="1004.4" y1="712.8" x2="1001.6" y2="711.1" stroke="#7f9fcf" stroke-width="0.5"/><line x1="1010" y1="709.5" x2="1010" y2="706.2" stroke="#7f9fcf" stroke-width="0.5"/><line x1="1015.6" y1="712.8" x2="1018.4" y2="711.1" stroke="#7f9fcf" stroke-width="0.5"/>
<path d="M1192.4,717.6 L1198,704.4 Q1202.1,699.8 1202.6,693.7" fill="none" stroke="#9dbbe3" stroke-width="3.9" stroke-linecap="round" stroke-linejoin="round"/><path d="M1192.4,717.6 L1198.7,702.6" fill="none" stroke="#9dbbe3" stroke-width="7.5" stroke-linecap="round"/><path d="M1192.4,717.6 L1178.7,713.4 Q1171.6,713.3 1165.7,709.4" fill="none" stroke="#9dbbe3" stroke-width="4.1" stroke-linecap="round" stroke-linejoin="round"/><path d="M1192.4,717.6 L1176.9,712.8" fill="none" stroke="#9dbbe3" stroke-width="7.9" stroke-linecap="round"/><path d="M1192.4,717.6 L1178.9,722.3 Q1172.9,722.9 1167.8,726.1" fill="none" stroke="#9dbbe3" stroke-width="4.1" stroke-linecap="round" stroke-linejoin="round"/><path d="M1192.4,717.6 L1177,722.9" fill="none" stroke="#9dbbe3" stroke-width="7.9" stroke-linecap="round"/><path d="M1192.4,717.6 L1193.6,731.8 Q1195.5,737.6 1194.7,743.5" fill="none" stroke="#9dbbe3" stroke-width="3.9" stroke-linecap="round" stroke-linejoin="round"/><path d="M1192.4,717.6 L1193.8,733.8" fill="none" stroke="#9dbbe3" stroke-width="7.5" stroke-linecap="round"/><path d="M1192.4,717.6 L1186.8,730.8 Q1183.6,735 1182.7,740.3" fill="none" stroke="#9dbbe3" stroke-width="3.9" stroke-linecap="round" stroke-linejoin="round"/><path d="M1192.4,717.6 L1186.1,732.6" fill="none" stroke="#9dbbe3" stroke-width="7.5" stroke-linecap="round"/><path d="M1192.4,717.6 L1206.7,718.1 Q1212.8,719.6 1219,718.5" fill="none" stroke="#9dbbe3" stroke-width="3.9" stroke-linecap="round" stroke-linejoin="round"/><path d="M1192.4,717.6 L1208.6,718.2" fill="none" stroke="#9dbbe3" stroke-width="7.5" stroke-linecap="round"/><path d="M1192.4,717.6 L1205.1,711.1 Q1209.8,707.3 1215.6,705.8" fill="none" stroke="#9dbbe3" stroke-width="3.9" stroke-linecap="round" stroke-linejoin="round"/><path d="M1192.4,717.6 L1206.9,710.2" fill="none" stroke="#9dbbe3" stroke-width="7.5" stroke-linecap="round"/><path d="M1192.4,717.6 L1205.3,723.9 Q1209.9,727.6 1215.8,729" fill="none" stroke="#9dbbe3" stroke-width="3.9" stroke-linecap="round" stroke-linejoin="round"/><path d="M1192.4,717.6 L1207,724.7" fill="none" stroke="#9dbbe3" stroke-width="7.5" stroke-linecap="round"/><path d="M1192.4,717.6 L1189.4,703.6 Q1188.7,700.1 1187.9,696.6" fill="none" stroke="#9dbbe3" stroke-width="3.9" stroke-linecap="round" stroke-linejoin="round"/><path d="M1192.4,717.6 L1189,701.7" fill="none" stroke="#9dbbe3" stroke-width="7.5" stroke-linecap="round"/><path d="M1192.4,717.6 L1184.4,705.7 Q1182.6,700.7 1178.6,697.1" fill="none" stroke="#9dbbe3" stroke-width="3.9" stroke-linecap="round" stroke-linejoin="round"/><path d="M1192.4,717.6 L1183.3,704.1" fill="none" stroke="#9dbbe3" stroke-width="7.5" stroke-linecap="round"/><path d="M1192.4,717.6 L1192.9,703.3 Q1193,701.4 1193,699.4" fill="none" stroke="#9dbbe3" stroke-width="3.5" stroke-linecap="round" stroke-linejoin="round"/><path d="M1192.4,717.6 L1193,701.4" fill="none" stroke="#9dbbe3" stroke-width="6.6" stroke-linecap="round"/><path d="M1192.4,717.6 L1181.4,726.8 Q1179.5,728.5 1177.5,730.1" fill="none" stroke="#9dbbe3" stroke-width="3.5" stroke-linecap="round" stroke-linejoin="round"/><path d="M1192.4,717.6 L1180,728" fill="none" stroke="#9dbbe3" stroke-width="6.6" stroke-linecap="round"/><path d="M1192.4,717.6 L1200.6,729.3 Q1201.7,730.9 1202.8,732.5" fill="none" stroke="#9dbbe3" stroke-width="3.5" stroke-linecap="round" stroke-linejoin="round"/><path d="M1192.4,717.6 L1201.7,730.9" fill="none" stroke="#9dbbe3" stroke-width="6.6" stroke-linecap="round"/><circle cx="1192.4" cy="717.6" r="13.5" fill="#9dbbe3"/><path d="M1192.4,717.6 L1198,704.4 Q1202.1,699.8 1202.6,693.7" fill="none" stroke="#b9d2ec" stroke-width="3" stroke-linecap="round" stroke-linejoin="round"/><path d="M1192.4,717.6 L1198.7,702.6" fill="none" stroke="#b9d2ec" stroke-width="6.6" stroke-linecap="round"/><path d="M1192.4,717.6 L1178.7,713.4 Q1171.6,713.3 1165.7,709.4" fill="none" stroke="#b9d2ec" stroke-width="3.2" stroke-linecap="round" stroke-linejoin="round"/><path d="M1192.4,717.6 L1176.9,712.8" fill="none" stroke="#b9d2ec" stroke-width="7" stroke-linecap="round"/><path d="M1192.4,717.6 L1178.9,722.3 Q1172.9,722.9 1167.8,726.1" fill="none" stroke="#b9d2ec" stroke-width="3.2" stroke-linecap="round" stroke-linejoin="round"/><path d="M1192.4,717.6 L1177,722.9" fill="none" stroke="#b9d2ec" stroke-width="7" stroke-linecap="round"/><path d="M1192.4,717.6 L1193.6,731.8 Q1195.5,737.6 1194.7,743.5" fill="none" stroke="#b9d2ec" stroke-width="3" stroke-linecap="round" stroke-linejoin="round"/><path d="M1192.4,717.6 L1193.8,733.8" fill="none" stroke="#b9d2ec" stroke-width="6.6" stroke-linecap="round"/><path d="M1192.4,717.6 L1186.8,730.8 Q1183.6,735 1182.7,740.3" fill="none" stroke="#b9d2ec" stroke-width="3" stroke-linecap="round" stroke-linejoin="round"/><path d="M1192.4,717.6 L1186.1,732.6" fill="none" stroke="#b9d2ec" stroke-width="6.6" stroke-linecap="round"/><path d="M1192.4,717.6 L1206.7,718.1 Q1212.8,719.6 1219,718.5" fill="none" stroke="#b9d2ec" stroke-width="3" stroke-linecap="round" stroke-linejoin="round"/><path d="M1192.4,717.6 L1208.6,718.2" fill="none" stroke="#b9d2ec" stroke-width="6.6" stroke-linecap="round"/><path d="M1192.4,717.6 L1205.1,711.1 Q1209.8,707.3 1215.6,705.8" fill="none" stroke="#b9d2ec" stroke-width="3" stroke-linecap="round" stroke-linejoin="round"/><path d="M1192.4,717.6 L1206.9,710.2" fill="none" stroke="#b9d2ec" stroke-width="6.6" stroke-linecap="round"/><path d="M1192.4,717.6 L1205.3,723.9 Q1209.9,727.6 1215.8,729" fill="none" stroke="#b9d2ec" stroke-width="3" stroke-linecap="round" stroke-linejoin="round"/><path d="M1192.4,717.6 L1207,724.7" fill="none" stroke="#b9d2ec" stroke-width="6.6" stroke-linecap="round"/><path d="M1192.4,717.6 L1189.4,703.6 Q1188.7,700.1 1187.9,696.6" fill="none" stroke="#b9d2ec" stroke-width="3" stroke-linecap="round" stroke-linejoin="round"/><path d="M1192.4,717.6 L1189,701.7" fill="none" stroke="#b9d2ec" stroke-width="6.6" stroke-linecap="round"/><path d="M1192.4,717.6 L1184.4,705.7 Q1182.6,700.7 1178.6,697.1" fill="none" stroke="#b9d2ec" stroke-width="3" stroke-linecap="round" stroke-linejoin="round"/><path d="M1192.4,717.6 L1183.3,704.1" fill="none" stroke="#b9d2ec" stroke-width="6.6" stroke-linecap="round"/><path d="M1192.4,717.6 L1192.9,703.3 Q1193,701.4 1193,699.4" fill="none" stroke="#b9d2ec" stroke-width="2.6" stroke-linecap="round" stroke-linejoin="round"/><path d="M1192.4,717.6 L1193,701.4" fill="none" stroke="#b9d2ec" stroke-width="5.7" stroke-linecap="round"/><path d="M1192.4,717.6 L1181.4,726.8 Q1179.5,728.5 1177.5,730.1" fill="none" stroke="#b9d2ec" stroke-width="2.6" stroke-linecap="round" stroke-linejoin="round"/><path d="M1192.4,717.6 L1180,728" fill="none" stroke="#b9d2ec" stroke-width="5.7" stroke-linecap="round"/><path d="M1192.4,717.6 L1200.6,729.3 Q1201.7,730.9 1202.8,732.5" fill="none" stroke="#b9d2ec" stroke-width="2.6" stroke-linecap="round" stroke-linejoin="round"/><path d="M1192.4,717.6 L1201.7,730.9" fill="none" stroke="#b9d2ec" stroke-width="5.7" stroke-linecap="round"/><circle cx="1192.4" cy="717.6" r="13" fill="#b9d2ec"/><circle cx="1192.4" cy="717.6" r="7.8" fill="#4a6aae"/><circle cx="1192" cy="717" r="7" fill="#5b7ec2"/>
<circle cx="1012.5" cy="764" r="22" fill="#bdd4f0" stroke="#9dbbe3" stroke-width="1"/><circle cx="1012.5" cy="764" r="13.5" fill="#4f6fb3"/><circle cx="1011.8" cy="762.9" r="12.4" fill="#5d80c3"/>
<path d="M1157.9,764 L1158.5,766.7 L1157.2,769.1 L1155.2,771.1 L1154.8,773.7 L1154.4,776.6 L1152.4,778.4 L1149.9,779.6 L1147.9,781.1 L1145.7,782.6 L1143.3,783.9 L1140.7,784.7 L1138,784.2 L1135.5,783 L1132.8,783.2 L1130,783.4 L1127.9,781.4 L1126.5,779 L1124.4,777.6 L1122,776.3 L1120.5,774.1 L1119.6,771.6 L1119,769.1 L1118.7,766.5 L1117.7,764 L1117,761.2 L1118.3,758.7 L1120.2,756.6 L1120.7,754 L1121.3,751.2 L1123.5,749.5 L1126.1,748.6 L1128.3,747.2 L1130.5,745.8 L1132.8,744.7 L1135.3,743.9 L1138,744.3 L1140.5,745.3 L1143.1,744.9 L1146.1,744.5 L1148.2,746.3 L1149.8,748.6 L1152.1,749.9 L1154.5,751.4 L1155.9,753.7 L1156.7,756.3 L1157.1,758.9 L1157.2,761.5Z" fill="#dcc7e6" stroke="#cdb3da" stroke-width="0.8"/><circle cx="1150.4" cy="764.2" r="1.1" fill="#b08bc2"/><circle cx="1151.2" cy="772.8" r="0.7" fill="#b08bc2"/><circle cx="1141.9" cy="773.8" r="0.8" fill="#b08bc2"/><circle cx="1138.9" cy="777.3" r="0.6" fill="#b08bc2"/><circle cx="1133.8" cy="773.5" r="0.9" fill="#b08bc2"/><circle cx="1127" cy="770.9" r="0.6" fill="#b08bc2"/><circle cx="1123.6" cy="763.1" r="1.1" fill="#b08bc2"/><circle cx="1128.3" cy="755.6" r="1.1" fill="#b08bc2"/><circle cx="1133.4" cy="753.9" r="0.9" fill="#b08bc2"/><circle cx="1137.4" cy="752.9" r="0.8" fill="#b08bc2"/><circle cx="1146.6" cy="753.1" r="1" fill="#b08bc2"/><circle cx="1152.6" cy="758.3" r="0.8" fill="#b08bc2"/><circle cx="1138" cy="764" r="7.5" fill="#9266a6"/><circle cx="1137.5" cy="763.4" r="6.8" fill="#a47bb8"/>
<circle cx="1011" cy="819.6" r="18" fill="#f8c6d0" stroke="#f0b0bf" stroke-width="1"/><circle cx="1011" cy="819.6" r="11" fill="#c9566f"/><circle cx="1010.5" cy="818.7" r="10.1" fill="#d96f86"/>
<circle cx="1015.6" cy="870" r="22" fill="#d5ebdd" stroke="#b9dcc6" stroke-width="1"/><circle cx="1026" cy="880.9" r="0.8" fill="#9cc4ab"/><circle cx="1024.5" cy="878.1" r="0.8" fill="#9cc4ab"/><circle cx="1005.3" cy="875.6" r="0.8" fill="#9cc4ab"/><circle cx="1024.7" cy="874.7" r="0.8" fill="#9cc4ab"/><circle cx="1019.2" cy="878.2" r="0.8" fill="#9cc4ab"/><circle cx="1023.7" cy="878.7" r="0.8" fill="#9cc4ab"/><circle cx="1022.5" cy="882" r="0.8" fill="#9cc4ab"/><circle cx="1023.2" cy="873.8" r="0.8" fill="#9cc4ab"/><circle cx="1005.9" cy="876" r="0.8" fill="#9cc4ab"/><circle cx="1025.3" cy="880.3" r="0.8" fill="#9cc4ab"/><circle cx="1014.6" cy="861" r="10" fill="#4f8a6c"/><circle cx="1014.1" cy="860.2" r="9" fill="#63997c"/>
<circle cx="1137.5" cy="863.6" r="5.7" fill="#2f9aa8"/>
<circle cx="1155.6" cy="866" r="5.7" fill="#f9d66a"/>
<circle cx="1139.8" cy="878.5" r="5.7" fill="#f9d66a"/>
<text x="1045" y="684" font-size="20.3" fill="#111">HC016</text>
<text x="1168" y="686.5" font-size="20.3" fill="#111">Tumor cell</text>
<text x="1039" y="721" font-size="20.3" fill="#111">Tumor antigen</text>
<text x="1229.5" y="727.6" font-size="20.3" fill="#111">pDC</text>
<text x="1043.5" y="771" font-size="20.3" fill="#111">T cell</text>
<text x="1171" y="771" font-size="20.3" fill="#111">Macrophage</text>
<text x="1041.5" y="826" font-size="20.3" fill="#111">Memory T cell</text>
<text x="1042.7" y="876.5" font-size="20.3" fill="#111">NK cell</text>
<text x="1165.7" y="877" font-size="20.3" fill="#111">Cytokines</text>
<polygon points="36.3,48.4 422,48.4 399,93.8 13.3,93.8" fill="#fff" stroke="#222" stroke-width="1.3"/><text x="69.5" y="79" font-size="25" text-anchor="start">Tracing lymphatic metastases</text>
<polygon points="756.4,41.2 1267.1,41.2 1243.8,86.3 733.1,86.3" fill="#fff" stroke="#222" stroke-width="1.3"/><text x="765" y="72" font-size="25.2" text-anchor="start">Systemic effects of circulating memory T cells</text>
<polygon points="444.6,834.8 985.5,834.8 962.5,880 421.6,880" fill="#fff" stroke="#222" stroke-width="1.3"/><text x="463" y="865" font-size="25" text-anchor="start">Induction of anti-tumor effector cells via TLR9</text>
<g transform="translate(437 518.4) rotate(-15)" opacity="0.62"><circle cx="0" cy="0" r="20.3" fill="none" stroke="#b4b4b4" stroke-width="1.6"/><path d="M8.2,-7.5 A11.3,11.3 0 1 0 8.2,7.5" fill="none" stroke="#b4b4b4" stroke-width="3.8"/><path d="M10,14 L20,24 M6,40 L17,48 M6,88 L20,62 M40,4 L30,26 M34,16 L94,16 M36,32 L88,32 L84,88 L76,86 M42,32 L38,74 M26,54 L98,54 M32,74 L90,74 M58,40 L64,48 M56,60 L62,68" transform="translate(39.2 -22.5) scale(0.51)" fill="none" stroke="#b4b4b4" stroke-width="8.6" stroke-linecap="square"/><path d="M22,4 L28,12 M8,26 L38,26 L14,58 M26,42 L26,96 M30,50 L40,60 M52,12 L52,90 M52,12 L86,12 L86,90 M52,38 L86,38 M52,64 L86,64 M44,90 L96,90" transform="translate(95.6 -24.5) scale(0.51)" fill="none" stroke="#b4b4b4" stroke-width="8.6" stroke-linecap="square"/><path d="M32,8 L18,42 M24,26 L88,26 M54,4 L54,92 M22,58 L86,58 M8,92 L96,92" transform="translate(154.3 -22.5) scale(0.51)" fill="none" stroke="#b4b4b4" stroke-width="8.6" stroke-linecap="square"/><path d="M20,8 L12,36 M12,30 L42,30 M28,4 L28,96 M6,66 L44,52 M62,4 L50,32 M56,22 L92,22 L90,90 L82,86 M68,26 L52,74 M80,26 L62,86" transform="translate(201.1 -21.5) scale(0.51)" fill="none" stroke="#b4b4b4" stroke-width="8.6" stroke-linecap="square"/><text x="333" y="20.5" font-family="Liberation Sans, sans-serif" font-size="54" text-anchor="middle" fill="#b4b4b4">2025</text></g>
</svg></body></html>
